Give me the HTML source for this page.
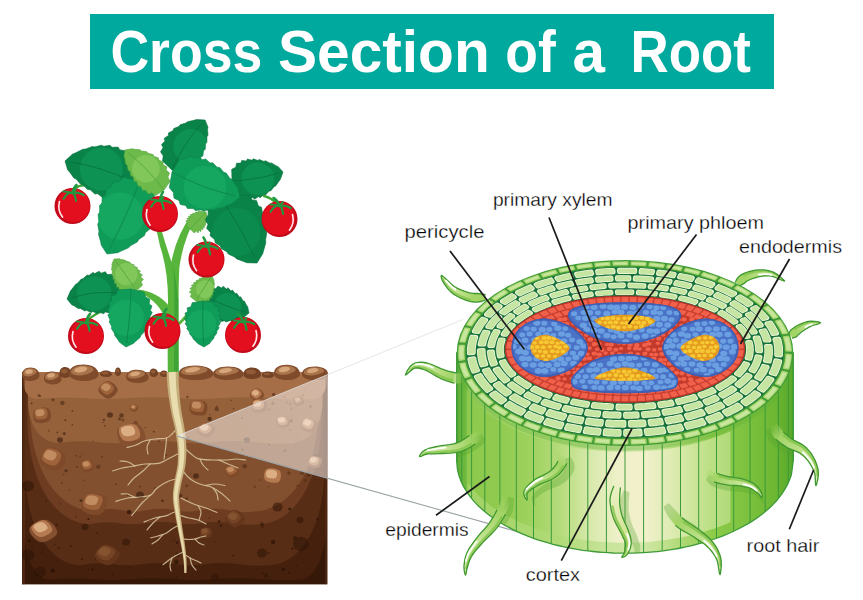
<!DOCTYPE html>
<html><head><meta charset="utf-8"><title>Cross Section of a Root</title>
<style>
html,body{margin:0;padding:0;background:#fff}
body{width:863px;height:600px;position:relative;overflow:hidden;font-family:"Liberation Sans",sans-serif}
.banner{position:absolute;left:90px;top:14px;width:684px;height:75px;background:#00a99d}
svg text{font-family:"Liberation Sans",sans-serif}
</style></head><body>
<div class="banner"></div>
<svg width="863" height="600" viewBox="0 0 863 600" style="position:absolute;left:0;top:0">
<text transform="translate(110.4,72.3) scale(0.9081,1)" font-weight="bold" font-size="59" fill="#fff">Cross</text>
<text transform="translate(277.9,72.3) scale(0.9942,1)" font-weight="bold" font-size="59" fill="#fff">Section</text>
<text transform="translate(505.3,72.3) scale(0.9063,1)" font-weight="bold" font-size="59" fill="#fff">of</text>
<text transform="translate(572.5,72.3) scale(0.9886,1)" font-weight="bold" font-size="59" fill="#fff">a</text>
<text transform="translate(630.5,72.3) scale(0.8963,1)" font-weight="bold" font-size="59" fill="#fff">Root</text>
<defs><clipPath id="soilclip"><rect x="22" y="355" width="305.5" height="229.5"/></clipPath></defs>
<g clip-path="url(#soilclip)">
<rect x="22" y="372" width="305.5" height="212.5" fill="#7d4a2b"/>
<rect x="22" y="372" width="305.5" height="212.5" fill="#361808"/>
<path d="M23,372L326.5,372L326.5,519C326.5,553.8 315.6,579 300.5,579.8Q279.5,580.8 258.6,579Q237.6,577.7 216.7,579Q195.7,580.8 174.8,579Q153.8,577.7 132.8,579Q111.9,580.8 90.9,579Q70,577.7 49,579.8C33.9,579 23,553.8 23,519Z" fill="#45200d"/>
<path d="M25,372L324.5,372L324.5,469C324.5,524.1 301.4,564 269.5,565.2Q253.7,566.6 237.9,564Q222.1,562.1 206.3,564Q190.5,566.6 174.8,564Q159,562.1 143.2,564Q127.4,566.6 111.6,564Q95.8,562.1 80,565.2C48.1,564 25,524.1 25,469Z" fill="#582d15"/>
<path d="M27.5,372L321.5,372L321.5,418C321.5,478.9 295.5,523 259.5,524.2Q245.3,525.6 231.2,523Q217,521.1 202.8,523Q188.7,525.6 174.5,523Q160.3,521.1 146.2,523Q132,525.6 117.8,523Q103.7,521.1 89.5,524.2C53.5,523 27.5,478.9 27.5,418Z" fill="#6d3c21"/>
<path d="M30,372L318.5,372L318.5,410C318.5,468 291.6,510 254.5,511.5Q241.1,513.3 227.8,510Q214.4,507.6 201,510Q187.6,513.3 174.2,510Q160.9,507.6 147.5,510Q134.1,513.3 120.8,510Q107.4,507.6 94,511.5C56.9,510 30,468 30,410Z" fill="#82502f"/>
<path d="M28,372L322.5,372L322.5,402C322.5,425.2 309.9,442 292.5,443.2Q273,444.6 253.4,442Q233.9,440.1 214.3,442Q194.8,444.6 175.2,442Q155.7,440.1 136.2,442Q116.6,444.6 97.1,442Q77.5,440.1 58,443.2C40.6,442 28,425.2 28,402Z" fill="#94613b"/>
<path d="M23.5,372L326.5,372L326.5,382C326.5,391.3 321.5,398 314.5,399Q291.2,400.2 268,398Q244.8,396.4 221.5,398Q198.2,400.2 175,398Q151.8,396.4 128.5,398Q105.2,400.2 82,398Q58.8,396.4 35.5,399C28.5,398 23.5,391.3 23.5,382Z" fill="#a56e47"/>
<rect x="22" y="372" width="3" height="212.5" fill="#5d3219" opacity="0.55"/>
<rect x="325.0" y="372" width="2.5" height="212.5" fill="#5d3219" opacity="0.45"/>
<circle cx="123" cy="420.1" r="1.6" fill="#4f2a14" opacity="0.5"/>
<circle cx="269" cy="409.6" r="1.2" fill="#4f2a14" opacity="0.5"/>
<circle cx="176.9" cy="399" r="1.0" fill="#4f2a14" opacity="0.6"/>
<circle cx="98.6" cy="494.8" r="0.7" fill="#4f2a14" opacity="0.8"/>
<circle cx="64.3" cy="433.6" r="1.6" fill="#4f2a14" opacity="0.7"/>
<circle cx="46.2" cy="501.2" r="0.7" fill="#2a1206" opacity="0.8"/>
<circle cx="41.7" cy="552.1" r="0.9" fill="#2a1206" opacity="0.6"/>
<circle cx="186.7" cy="498.5" r="1.2" fill="#4f2a14" opacity="0.8"/>
<circle cx="81" cy="500.5" r="1.6" fill="#2a1206" opacity="0.5"/>
<circle cx="56.6" cy="524.8" r="1.2" fill="#2a1206" opacity="0.5"/>
<circle cx="88.4" cy="518.9" r="1.0" fill="#2a1206" opacity="0.8"/>
<circle cx="164.7" cy="564.2" r="0.9" fill="#2a1206" opacity="0.6"/>
<circle cx="261.2" cy="522.4" r="0.8" fill="#2a1206" opacity="0.5"/>
<circle cx="116.1" cy="484.3" r="0.9" fill="#4f2a14" opacity="0.7"/>
<circle cx="112.5" cy="574.8" r="0.7" fill="#2a1206" opacity="0.7"/>
<circle cx="76.4" cy="455.8" r="1.0" fill="#4f2a14" opacity="0.6"/>
<circle cx="310.4" cy="406.5" r="1.2" fill="#4f2a14" opacity="0.7"/>
<circle cx="285" cy="450.5" r="1.6" fill="#4f2a14" opacity="0.6"/>
<circle cx="173.8" cy="540.6" r="0.7" fill="#2a1206" opacity="0.8"/>
<circle cx="305.3" cy="480.4" r="1.6" fill="#4f2a14" opacity="0.5"/>
<circle cx="242.6" cy="449.7" r="1.2" fill="#4f2a14" opacity="0.8"/>
<circle cx="269.2" cy="445.1" r="1.0" fill="#4f2a14" opacity="0.8"/>
<circle cx="129.8" cy="567.4" r="0.9" fill="#2a1206" opacity="0.5"/>
<circle cx="62.4" cy="403" r="2.2" fill="#4f2a14" opacity="0.6"/>
<circle cx="244.7" cy="466.2" r="2.2" fill="#4f2a14" opacity="0.6"/>
<circle cx="76.8" cy="466.9" r="0.9" fill="#4f2a14" opacity="0.8"/>
<circle cx="268.5" cy="553.1" r="0.9" fill="#2a1206" opacity="0.7"/>
<circle cx="317.5" cy="519.3" r="1.0" fill="#2a1206" opacity="0.8"/>
<circle cx="72.3" cy="424.9" r="0.8" fill="#4f2a14" opacity="0.7"/>
<circle cx="31.5" cy="547" r="0.8" fill="#2a1206" opacity="0.6"/>
<circle cx="29.2" cy="470.1" r="0.9" fill="#4f2a14" opacity="0.7"/>
<circle cx="121.5" cy="415.4" r="2.2" fill="#4f2a14" opacity="0.7"/>
<circle cx="209.3" cy="518.1" r="0.7" fill="#2a1206" opacity="0.6"/>
<circle cx="283.6" cy="569.5" r="1.6" fill="#2a1206" opacity="0.8"/>
<circle cx="143.2" cy="466.4" r="0.7" fill="#4f2a14" opacity="0.6"/>
<circle cx="145.5" cy="427.5" r="0.8" fill="#4f2a14" opacity="0.6"/>
<circle cx="60.3" cy="504" r="0.7" fill="#2a1206" opacity="0.5"/>
<circle cx="72.4" cy="410.9" r="0.9" fill="#4f2a14" opacity="0.7"/>
<circle cx="48.6" cy="430.8" r="1.0" fill="#4f2a14" opacity="0.5"/>
<circle cx="102" cy="456.8" r="0.9" fill="#4f2a14" opacity="0.6"/>
<circle cx="61.9" cy="483" r="1.0" fill="#4f2a14" opacity="0.6"/>
<circle cx="119.5" cy="418.9" r="1.6" fill="#4f2a14" opacity="0.6"/>
<circle cx="105.7" cy="546.6" r="0.8" fill="#2a1206" opacity="0.7"/>
<circle cx="88.2" cy="569.6" r="0.9" fill="#2a1206" opacity="0.5"/>
<circle cx="187.4" cy="397" r="1.2" fill="#4f2a14" opacity="0.6"/>
<circle cx="216.7" cy="409" r="2.2" fill="#4f2a14" opacity="0.6"/>
<circle cx="135.6" cy="423.2" r="2.2" fill="#4f2a14" opacity="0.5"/>
<circle cx="186.9" cy="485.8" r="1.6" fill="#4f2a14" opacity="0.5"/>
<circle cx="266.2" cy="575.7" r="2.2" fill="#2a1206" opacity="0.5"/>
<circle cx="98.3" cy="466.7" r="2.2" fill="#4f2a14" opacity="0.5"/>
<circle cx="179.9" cy="458.3" r="0.7" fill="#4f2a14" opacity="0.8"/>
<circle cx="259.9" cy="480.1" r="0.8" fill="#4f2a14" opacity="0.7"/>
<circle cx="308.7" cy="475.4" r="1.6" fill="#4f2a14" opacity="0.8"/>
<circle cx="308.3" cy="460" r="0.8" fill="#4f2a14" opacity="0.5"/>
<circle cx="166" cy="455" r="1.0" fill="#4f2a14" opacity="0.7"/>
<circle cx="292.2" cy="548.7" r="1.0" fill="#2a1206" opacity="0.8"/>
<circle cx="129" cy="511.9" r="2.2" fill="#2a1206" opacity="0.7"/>
<circle cx="295" cy="537.9" r="2.2" fill="#2a1206" opacity="0.5"/>
<circle cx="288.9" cy="472.9" r="1.6" fill="#4f2a14" opacity="0.6"/>
<circle cx="263" cy="573.2" r="1.0" fill="#2a1206" opacity="0.6"/>
<circle cx="246.2" cy="407.8" r="0.8" fill="#4f2a14" opacity="0.5"/>
<circle cx="65.3" cy="420.2" r="1.0" fill="#4f2a14" opacity="0.8"/>
<circle cx="70.9" cy="546.1" r="1.0" fill="#2a1206" opacity="0.7"/>
<circle cx="130.8" cy="494.3" r="0.8" fill="#4f2a14" opacity="0.5"/>
<circle cx="262.6" cy="527.5" r="0.7" fill="#2a1206" opacity="0.7"/>
<circle cx="302" cy="472.9" r="2.2" fill="#4f2a14" opacity="0.5"/>
<circle cx="284.5" cy="397.2" r="0.8" fill="#4f2a14" opacity="0.6"/>
<circle cx="98.6" cy="501.4" r="0.9" fill="#2a1206" opacity="0.7"/>
<circle cx="272.8" cy="403.4" r="1.6" fill="#4f2a14" opacity="0.6"/>
<circle cx="162.5" cy="500.8" r="1.2" fill="#2a1206" opacity="0.6"/>
<circle cx="297.4" cy="485.6" r="1.2" fill="#4f2a14" opacity="0.5"/>
<circle cx="177.8" cy="554.8" r="2.2" fill="#2a1206" opacity="0.5"/>
<circle cx="29.2" cy="541" r="0.8" fill="#2a1206" opacity="0.5"/>
<circle cx="209.7" cy="414.4" r="0.7" fill="#4f2a14" opacity="0.6"/>
<circle cx="180.1" cy="495.6" r="2.2" fill="#4f2a14" opacity="0.8"/>
<circle cx="287.2" cy="402.6" r="0.8" fill="#4f2a14" opacity="0.6"/>
<circle cx="254.7" cy="486.7" r="1.2" fill="#4f2a14" opacity="0.5"/>
<circle cx="290.4" cy="403.8" r="0.9" fill="#4f2a14" opacity="0.7"/>
<circle cx="176.4" cy="487.5" r="1.6" fill="#4f2a14" opacity="0.6"/>
<circle cx="177.1" cy="542.6" r="1.2" fill="#2a1206" opacity="0.8"/>
<circle cx="233.2" cy="555.5" r="0.9" fill="#2a1206" opacity="0.8"/>
<circle cx="290" cy="429.8" r="1.0" fill="#4f2a14" opacity="0.5"/>
<circle cx="63.7" cy="474.5" r="0.7" fill="#4f2a14" opacity="0.7"/>
<circle cx="153.7" cy="431.7" r="0.9" fill="#4f2a14" opacity="0.8"/>
<circle cx="291.3" cy="420.8" r="1.6" fill="#4f2a14" opacity="0.7"/>
<circle cx="135.5" cy="439.2" r="0.8" fill="#4f2a14" opacity="0.8"/>
<circle cx="92.4" cy="569.6" r="1.0" fill="#2a1206" opacity="0.8"/>
<circle cx="75.8" cy="516.6" r="0.8" fill="#2a1206" opacity="0.5"/>
<circle cx="154.7" cy="488.2" r="0.9" fill="#4f2a14" opacity="0.6"/>
<circle cx="132.7" cy="409.2" r="0.9" fill="#4f2a14" opacity="0.5"/>
<circle cx="190.6" cy="474.1" r="0.7" fill="#4f2a14" opacity="0.6"/>
<circle cx="179.9" cy="447.1" r="0.7" fill="#4f2a14" opacity="0.5"/>
<circle cx="297.6" cy="434.6" r="0.7" fill="#4f2a14" opacity="0.5"/>
<circle cx="107.8" cy="561" r="0.8" fill="#2a1206" opacity="0.6"/>
<circle cx="66" cy="470.8" r="1.6" fill="#4f2a14" opacity="0.8"/>
<circle cx="103.9" cy="419.9" r="1.2" fill="#4f2a14" opacity="0.7"/>
<circle cx="233.6" cy="408.7" r="0.7" fill="#4f2a14" opacity="0.8"/>
<circle cx="81.8" cy="559" r="0.9" fill="#2a1206" opacity="0.8"/>
<circle cx="214.2" cy="541.5" r="0.7" fill="#2a1206" opacity="0.7"/>
<circle cx="93.3" cy="441.3" r="0.7" fill="#4f2a14" opacity="0.6"/>
<circle cx="127.5" cy="495.1" r="0.9" fill="#4f2a14" opacity="0.7"/>
<circle cx="40.7" cy="524.3" r="0.7" fill="#2a1206" opacity="0.8"/>
<circle cx="104.9" cy="425.8" r="0.9" fill="#4f2a14" opacity="0.7"/>
<circle cx="183.9" cy="430.4" r="1.0" fill="#4f2a14" opacity="0.7"/>
<circle cx="80.2" cy="456.7" r="0.7" fill="#4f2a14" opacity="0.8"/>
<circle cx="38.8" cy="395.4" r="1.2" fill="#4f2a14" opacity="0.7"/>
<circle cx="83.6" cy="480.5" r="1.0" fill="#4f2a14" opacity="0.5"/>
<circle cx="268.4" cy="472.6" r="1.0" fill="#4f2a14" opacity="0.7"/>
<circle cx="288.8" cy="573" r="0.9" fill="#2a1206" opacity="0.7"/>
<circle cx="316.3" cy="455.9" r="2.2" fill="#4f2a14" opacity="0.8"/>
<circle cx="241.9" cy="418.1" r="0.9" fill="#4f2a14" opacity="0.8"/>
<circle cx="273.7" cy="394.7" r="1.6" fill="#4f2a14" opacity="0.7"/>
<circle cx="103" cy="422.4" r="0.7" fill="#4f2a14" opacity="0.7"/>
<circle cx="139.8" cy="486.4" r="0.9" fill="#4f2a14" opacity="0.7"/>
<circle cx="231.3" cy="400.4" r="0.8" fill="#4f2a14" opacity="0.5"/>
<circle cx="158.8" cy="441.1" r="0.9" fill="#4f2a14" opacity="0.8"/>
<circle cx="188.6" cy="437.6" r="0.9" fill="#4f2a14" opacity="0.5"/>
<circle cx="81.7" cy="454.5" r="0.7" fill="#4f2a14" opacity="0.6"/>
<circle cx="175.6" cy="429.5" r="1.2" fill="#4f2a14" opacity="0.8"/>
<circle cx="54.7" cy="544.4" r="0.8" fill="#2a1206" opacity="0.6"/>
<circle cx="40.2" cy="396.2" r="0.9" fill="#4f2a14" opacity="0.7"/>
<circle cx="52.8" cy="570.6" r="2.2" fill="#2a1206" opacity="0.8"/>
<circle cx="221" cy="525.5" r="1.2" fill="#2a1206" opacity="0.6"/>
<circle cx="123.7" cy="575.7" r="0.8" fill="#2a1206" opacity="0.6"/>
<circle cx="209.6" cy="419" r="2.2" fill="#4f2a14" opacity="0.8"/>
<circle cx="289.8" cy="509" r="1.6" fill="#2a1206" opacity="0.7"/>
<circle cx="176.4" cy="561.7" r="2.2" fill="#2a1206" opacity="0.7"/>
<circle cx="273.1" cy="542.1" r="2.2" fill="#2a1206" opacity="0.7"/>
<circle cx="262.2" cy="524.6" r="1.6" fill="#2a1206" opacity="0.7"/>
<circle cx="53" cy="399.8" r="1.6" fill="#4f2a14" opacity="0.6"/>
<circle cx="58.8" cy="547.9" r="1.2" fill="#2a1206" opacity="0.5"/>
<circle cx="33.5" cy="491.1" r="0.8" fill="#4f2a14" opacity="0.6"/>
<circle cx="29" cy="540.8" r="1.6" fill="#2a1206" opacity="0.8"/>
<circle cx="291.5" cy="409.1" r="1.2" fill="#4f2a14" opacity="0.5"/>
<circle cx="244.2" cy="439" r="0.7" fill="#4f2a14" opacity="0.8"/>
<circle cx="96.9" cy="533.1" r="0.8" fill="#2a1206" opacity="0.7"/>
<circle cx="314.4" cy="484.1" r="1.0" fill="#4f2a14" opacity="0.5"/>
<circle cx="295.2" cy="445.6" r="0.7" fill="#4f2a14" opacity="0.7"/>
<circle cx="216.7" cy="406.4" r="0.8" fill="#4f2a14" opacity="0.6"/>
<circle cx="219.2" cy="521.2" r="1.2" fill="#2a1206" opacity="0.7"/>
<circle cx="31.7" cy="403.3" r="0.9" fill="#4f2a14" opacity="0.8"/>
<circle cx="57.2" cy="432.6" r="1.0" fill="#4f2a14" opacity="0.6"/>
<circle cx="179.6" cy="478.7" r="1.0" fill="#4f2a14" opacity="0.8"/>
<circle cx="319.5" cy="494.4" r="0.9" fill="#4f2a14" opacity="0.8"/>
<circle cx="302.8" cy="395.3" r="1.0" fill="#4f2a14" opacity="0.5"/>
<circle cx="176.7" cy="577.5" r="0.9" fill="#2a1206" opacity="0.6"/>
<circle cx="297" cy="565.5" r="0.7" fill="#2a1206" opacity="0.7"/>
<circle cx="69.6" cy="489.7" r="0.9" fill="#4f2a14" opacity="0.5"/>
<circle cx="268.7" cy="486.9" r="0.7" fill="#4f2a14" opacity="0.7"/>
<circle cx="95.9" cy="559.4" r="1.0" fill="#2a1206" opacity="0.6"/>
<ellipse cx="28" cy="486" rx="6" ry="5.4" fill="#2e1408" opacity="0.55"/>
<ellipse cx="28" cy="555" rx="6.5" ry="5.8500000000000005" fill="#2e1408" opacity="0.55"/>
<ellipse cx="40" cy="572" rx="6" ry="5.4" fill="#2e1408" opacity="0.55"/>
<ellipse cx="277.5" cy="507" rx="5" ry="4.5" fill="#2e1408" opacity="0.55"/>
<ellipse cx="301" cy="544" rx="8" ry="7.2" fill="#2e1408" opacity="0.55"/>
<ellipse cx="126" cy="542" rx="4" ry="3.6" fill="#2e1408" opacity="0.55"/>
<ellipse cx="85" cy="527" rx="3.5" ry="3.15" fill="#2e1408" opacity="0.55"/>
<ellipse cx="196" cy="476" rx="3" ry="2.7" fill="#2e1408" opacity="0.55"/>
<ellipse cx="262" cy="553" rx="5" ry="4.5" fill="#2e1408" opacity="0.55"/>
<ellipse cx="215" cy="577" rx="4" ry="3.6" fill="#2e1408" opacity="0.55"/>
<ellipse cx="140" cy="495" rx="4" ry="3.6" fill="#2e1408" opacity="0.55"/>
<ellipse cx="300" cy="520" rx="3.5" ry="3.15" fill="#2e1408" opacity="0.55"/>
<ellipse cx="60" cy="440" rx="3" ry="2.7" fill="#2e1408" opacity="0.55"/>
<ellipse cx="110" cy="415" rx="3" ry="2.7" fill="#2e1408" opacity="0.55"/>
<ellipse cx="247" cy="440" rx="3" ry="2.7" fill="#2e1408" opacity="0.55"/>
<path d="M117.7,390C117.6,391.8 115.9,393.9 114.3,395.4C112.7,396.8 110.1,398.7 108,398.7C105.9,398.7 103.5,396.7 101.9,395.3C100.2,393.8 98.4,391.8 98.3,390C98.3,388.2 99.9,385.9 101.5,384.4C103.1,382.9 105.9,381 108,381.1C110.1,381.1 112.7,383.1 114.4,384.6C116,386 117.7,388.2 117.7,390Z" fill="#7f4a2a"/>
<path d="M114.1,388.3C114.1,389.7 112.8,391.3 111.6,392.4C110.4,393.5 108.4,394.9 106.9,394.9C105.3,394.8 103.5,393.4 102.3,392.3C101.1,391.2 99.7,389.7 99.7,388.3C99.6,387 100.8,385.3 102,384.2C103.2,383.1 105.3,381.6 106.9,381.6C108.5,381.7 110.5,383.1 111.7,384.3C112.9,385.4 114.1,387 114.1,388.3Z" fill="#9e633b"/>
<path d="M110.8,387.2C110.8,388.1 109.9,389 109.1,389.7C108.3,390.3 107,391.2 106,391.2C104.9,391.1 103.7,390.3 102.9,389.6C102.1,389 101.2,388.1 101.1,387.2C101.1,386.4 101.9,385.4 102.7,384.7C103.5,384.1 104.9,383.2 106,383.2C107,383.2 108.3,384.1 109.2,384.8C110,385.5 110.8,386.4 110.8,387.2Z" fill="#c08c60"/>
<path d="M49.4,420.8C48,422.2 45.1,422.9 42.8,423.1C40.4,423.3 37,423.3 35.5,422.1C33.9,421 33.5,418.1 33.3,416.1C33.2,414.1 33.3,411.6 34.6,410.2C35.9,408.8 38.9,407.9 41.2,407.7C43.6,407.4 47.1,407.5 48.7,408.7C50.3,409.9 50.8,412.8 51,414.8C51.1,416.9 50.8,419.5 49.4,420.8Z" fill="#7f4a2a"/>
<path d="M46.4,417.8C45.4,418.9 43.2,419.4 41.5,419.5C39.7,419.7 37.2,419.7 36,418.8C34.8,418 34.5,415.8 34.4,414.3C34.3,412.8 34.4,410.9 35.4,409.8C36.3,408.8 38.5,408.2 40.3,408C42.1,407.8 44.7,407.8 45.9,408.7C47.2,409.6 47.5,411.8 47.6,413.4C47.7,414.9 47.5,416.8 46.4,417.8Z" fill="#9e633b"/>
<path d="M43.7,415.1C43,415.8 41.5,416.1 40.4,416.2C39.2,416.3 37.5,416.3 36.7,415.7C35.9,415.2 35.7,413.9 35.6,413C35.6,412.1 35.6,411 36.3,410.3C36.9,409.7 38.4,409.3 39.6,409.2C40.8,409.1 42.5,409.1 43.3,409.7C44.1,410.2 44.4,411.5 44.5,412.4C44.5,413.4 44.4,414.5 43.7,415.1Z" fill="#c08c60"/>
<path d="M134.7,411.6C133.8,411.7 132.6,411.2 131.8,410.7C130.9,410.2 129.8,409.4 129.6,408.6C129.5,407.9 130.3,406.8 130.9,406.1C131.5,405.4 132.4,404.6 133.3,404.4C134.2,404.3 135.4,404.7 136.3,405.2C137.2,405.7 138.3,406.5 138.5,407.3C138.6,408.1 137.8,409.2 137.2,409.9C136.6,410.6 135.6,411.4 134.7,411.6Z" fill="#7f4a2a"/>
<path d="M134.1,410C133.4,410.1 132.5,409.7 131.8,409.3C131.2,409 130.3,408.3 130.2,407.8C130.1,407.2 130.7,406.4 131.2,405.9C131.6,405.3 132.3,404.7 133,404.6C133.7,404.5 134.6,404.8 135.3,405.2C135.9,405.5 136.8,406.2 136.9,406.8C137,407.4 136.4,408.2 135.9,408.7C135.5,409.3 134.7,409.9 134.1,410Z" fill="#9e633b"/>
<path d="M133.5,408.4C133,408.5 132.4,408.2 132,408C131.6,407.8 131,407.4 130.9,407.1C130.9,406.7 131.3,406.3 131.6,405.9C131.9,405.6 132.3,405.3 132.8,405.2C133.2,405.1 133.8,405.3 134.3,405.5C134.7,405.7 135.3,406.1 135.4,406.5C135.4,406.8 135,407.3 134.7,407.7C134.4,408 133.9,408.3 133.5,408.4Z" fill="#c08c60"/>
<path d="M123.7,445.7C121,444.3 119.1,440.8 118.1,437.9C117.1,435 116.3,430.7 117.9,428.4C119.5,426.1 124.3,424.9 127.7,424.2C131.1,423.5 135.5,423 138.3,424.3C141.1,425.6 143.3,429.1 144.3,432C145.3,434.9 146.2,439.4 144.5,441.8C142.9,444.1 137.9,445.5 134.4,446.2C130.9,446.8 126.4,447.1 123.7,445.7Z" fill="#85502f"/>
<path d="M123.9,440.6C121.8,439.5 120.4,436.9 119.7,434.7C118.9,432.5 118.3,429.3 119.5,427.6C120.7,425.9 124.3,424.9 126.9,424.4C129.4,423.9 132.8,423.5 134.8,424.5C136.9,425.5 138.6,428.1 139.3,430.3C140.1,432.5 140.7,435.8 139.5,437.6C138.2,439.4 134.5,440.4 131.9,440.9C129.3,441.4 125.9,441.6 123.9,440.6Z" fill="#b57a50"/>
<path d="M124.3,435.7C122.9,435.1 122,433.5 121.5,432.2C121,430.9 120.6,428.9 121.4,427.9C122.2,426.9 124.6,426.3 126.3,426C128,425.7 130.2,425.4 131.6,426C133,426.6 134.1,428.2 134.6,429.5C135.1,430.8 135.5,432.8 134.7,433.9C133.9,435 131.4,435.6 129.7,435.9C127.9,436.2 125.7,436.3 124.3,435.7Z" fill="#dcae84"/>
<path d="M40.5,462.8C39.5,460.5 40.7,457 42,454.5C43.3,452 45.6,448.5 48.3,447.7C51,446.9 55.3,448.5 58.1,449.7C61,451 64.5,452.9 65.5,455.2C66.6,457.5 65.7,461.1 64.4,463.6C63.1,466.2 60.6,469.8 57.8,470.6C55,471.4 50.6,469.9 47.7,468.6C44.8,467.3 41.4,465.2 40.5,462.8Z" fill="#7f4a2a"/>
<path d="M42.1,459.6C41.4,457.8 42.2,455.2 43.2,453.3C44.2,451.5 46,448.9 48,448.3C50,447.7 53.2,448.9 55.3,449.8C57.5,450.7 60.1,452.1 60.9,453.9C61.7,455.6 61,458.3 60,460.2C59.1,462.1 57.2,464.8 55.1,465.4C53,466 49.7,464.9 47.5,463.9C45.3,462.9 42.8,461.3 42.1,459.6Z" fill="#9e633b"/>
<path d="M44,456.9C43.5,455.9 44,454.3 44.7,453.2C45.4,452.1 46.5,450.5 47.9,450.1C49.2,449.8 51.4,450.5 52.8,451C54.2,451.6 56,452.4 56.5,453.5C57,454.5 56.6,456.1 55.9,457.3C55.3,458.4 54,460 52.6,460.4C51.2,460.8 49,460.1 47.6,459.5C46.1,458.9 44.4,458 44,456.9Z" fill="#c08c60"/>
<path d="M80.8,463.8C81.4,462.6 83.3,461.5 84.8,460.8C86.4,460.1 88.8,459.4 90.3,459.9C91.7,460.4 92.8,462.3 93.5,463.7C94.2,465.1 94.9,466.9 94.4,468.2C93.9,469.5 92,470.7 90.5,471.4C88.9,472.1 86.4,472.8 84.9,472.3C83.4,471.8 82.1,469.8 81.5,468.4C80.8,467 80.3,465.1 80.8,463.8Z" fill="#7f4a2a"/>
<path d="M81.7,463.1C82.1,462.2 83.5,461.3 84.7,460.9C85.9,460.4 87.7,459.8 88.8,460.2C89.9,460.5 90.7,462 91.2,463C91.7,464.1 92.2,465.4 91.9,466.4C91.5,467.4 90.1,468.3 88.9,468.8C87.7,469.3 85.8,469.8 84.7,469.5C83.6,469.1 82.7,467.6 82.2,466.6C81.7,465.5 81.3,464.1 81.7,463.1Z" fill="#9e633b"/>
<path d="M82.7,462.9C83,462.4 83.9,461.9 84.7,461.6C85.5,461.3 86.7,461 87.4,461.2C88.1,461.4 88.7,462.3 89,462.9C89.4,463.5 89.7,464.3 89.5,464.9C89.2,465.5 88.3,466 87.5,466.3C86.7,466.7 85.5,467 84.7,466.8C84,466.5 83.4,465.6 83,465C82.7,464.4 82.4,463.5 82.7,462.9Z" fill="#c08c60"/>
<path d="M88.1,494.1C90.6,492.9 94.8,493.2 97.9,493.9C101,494.6 105.4,496 106.8,498.1C108.1,500.3 107.1,504.1 106.1,506.8C105.2,509.4 103.6,512.6 101.1,513.9C98.6,515.2 94.4,515.1 91.2,514.4C88,513.8 83.5,512.2 82.1,510C80.7,507.8 81.7,503.8 82.7,501.1C83.7,498.5 85.6,495.3 88.1,494.1Z" fill="#7f4a2a"/>
<path d="M88.2,494.3C90.1,493.4 93.2,493.7 95.6,494.2C97.9,494.7 101.2,495.7 102.2,497.3C103.2,498.9 102.4,501.8 101.7,503.8C101,505.8 99.8,508.2 98,509.2C96.1,510.1 92.9,510 90.5,509.5C88.2,509 84.8,507.9 83.7,506.2C82.6,504.6 83.4,501.6 84.2,499.6C84.9,497.6 86.3,495.2 88.2,494.3Z" fill="#9e633b"/>
<path d="M88.6,495.7C89.8,495.2 91.9,495.4 93.5,495.7C95,496 97.2,496.6 97.9,497.6C98.6,498.5 98,500.3 97.6,501.4C97.1,502.6 96.3,504.1 95.1,504.7C93.8,505.2 91.7,505.2 90.1,504.9C88.5,504.6 86.3,503.9 85.6,502.9C84.9,501.9 85.4,500.1 85.9,498.9C86.4,497.7 87.3,496.3 88.6,495.7Z" fill="#c08c60"/>
<path d="M46,519.8C48.8,520.3 51.7,522.9 53.6,525.1C55.5,527.3 57.8,530.8 57.2,533.2C56.6,535.6 52.9,538 50.2,539.5C47.5,541 43.9,542.6 41,542.2C38.2,541.8 35,539.3 33.1,537.1C31.1,534.8 28.8,531.2 29.4,528.7C30,526.2 33.8,523.7 36.5,522.2C39.3,520.8 43.1,519.3 46,519.8Z" fill="#85502f"/>
<path d="M43.8,520.3C46,520.7 48.2,522.6 49.6,524.3C51,526 52.7,528.6 52.3,530.4C51.8,532.2 49.1,534 47,535.1C45,536.2 42.3,537.4 40.1,537.1C38,536.8 35.6,535 34.2,533.3C32.7,531.6 31,528.9 31.4,527C31.8,525.1 34.7,523.3 36.8,522.2C38.8,521 41.7,520 43.8,520.3Z" fill="#b57a50"/>
<path d="M42,522.2C43.4,522.4 44.8,523.5 45.8,524.6C46.7,525.6 47.8,527.1 47.6,528.2C47.3,529.3 45.4,530.3 44.1,531C42.7,531.7 40.9,532.4 39.5,532.2C38,532.1 36.5,531 35.5,529.9C34.5,528.9 33.4,527.3 33.7,526.2C34,525.1 35.9,523.9 37.2,523.3C38.6,522.6 40.5,522 42,522.2Z" fill="#dcae84"/>
<path d="M206.1,402.8C207.4,404.2 207.6,406.8 207.4,408.8C207.3,410.8 206.6,413.6 205,414.7C203.4,415.8 200,415.7 197.7,415.4C195.4,415.2 192.5,414.6 191.1,413.2C189.7,411.9 189.3,409.2 189.5,407.2C189.6,405.2 190.3,402.2 192,401.1C193.7,399.9 197.2,400.1 199.5,400.3C201.9,400.6 204.8,401.4 206.1,402.8Z" fill="#7f4a2a"/>
<path d="M203.1,402.4C204.1,403.5 204.3,405.4 204.1,406.9C204,408.4 203.5,410.6 202.3,411.4C201.1,412.2 198.6,412.1 196.8,411.9C195.1,411.7 192.9,411.3 191.9,410.3C190.8,409.2 190.5,407.3 190.6,405.7C190.8,404.2 191.3,402 192.6,401.1C193.8,400.3 196.4,400.4 198.2,400.6C199.9,400.8 202.1,401.4 203.1,402.4Z" fill="#9e633b"/>
<path d="M200.3,402.9C201,403.5 201.1,404.7 201,405.6C200.9,406.5 200.6,407.8 199.8,408.3C199,408.8 197.3,408.7 196.1,408.6C195,408.5 193.5,408.2 192.8,407.6C192.1,407 191.9,405.8 192,404.9C192.1,404 192.4,402.6 193.3,402.1C194.1,401.6 195.9,401.7 197,401.8C198.2,401.9 199.7,402.3 200.3,402.9Z" fill="#c08c60"/>
<path d="M264.2,395.1C264.2,396.5 262.9,398 261.6,399.1C260.4,400.2 258.4,401.6 256.9,401.5C255.3,401.5 253.5,400 252.3,398.9C251.1,397.8 249.8,396.2 249.8,394.9C249.7,393.5 251,391.9 252.2,390.8C253.4,389.7 255.5,388.3 257.1,388.3C258.7,388.3 260.7,389.9 261.8,391C263,392.1 264.3,393.8 264.2,395.1Z" fill="#85502f"/>
<path d="M261.6,393.8C261.6,394.9 260.6,396 259.6,396.8C258.7,397.6 257.2,398.7 256.1,398.6C254.9,398.6 253.5,397.5 252.7,396.7C251.8,395.8 250.8,394.7 250.7,393.7C250.7,392.7 251.7,391.4 252.6,390.6C253.5,389.8 255.1,388.7 256.3,388.7C257.5,388.8 258.9,389.9 259.8,390.7C260.7,391.6 261.6,392.8 261.6,393.8Z" fill="#b57a50"/>
<path d="M259.1,393C259.1,393.6 258.4,394.3 257.8,394.8C257.2,395.3 256.2,395.9 255.4,395.9C254.6,395.8 253.7,395.2 253.1,394.7C252.5,394.2 251.9,393.5 251.9,392.9C251.9,392.3 252.5,391.5 253.1,391C253.7,390.5 254.7,389.9 255.5,389.9C256.4,389.9 257.3,390.6 257.9,391.1C258.5,391.6 259.1,392.4 259.1,393Z" fill="#dcae84"/>
<path d="M265.4,410.8C264.2,411.9 261.6,412.5 259.5,412.6C257.5,412.8 254.5,412.8 253.2,411.7C251.8,410.7 251.5,408.2 251.4,406.4C251.3,404.7 251.5,402.5 252.6,401.2C253.8,400 256.4,399.3 258.4,399.1C260.5,398.9 263.6,399 265,400.1C266.4,401.2 266.8,403.8 266.8,405.5C266.9,407.3 266.6,409.6 265.4,410.8Z" fill="#85502f"/>
<path d="M262.8,408.1C261.9,409 260,409.4 258.4,409.5C256.9,409.7 254.7,409.6 253.7,408.9C252.6,408.1 252.4,406.2 252.3,404.9C252.3,403.6 252.4,401.9 253.3,401C254.1,400.1 256.1,399.5 257.6,399.4C259.2,399.3 261.5,399.3 262.5,400.1C263.6,400.9 263.9,402.9 263.9,404.2C264,405.5 263.7,407.2 262.8,408.1Z" fill="#b57a50"/>
<path d="M260.4,405.7C259.8,406.3 258.5,406.5 257.5,406.6C256.5,406.7 255,406.6 254.3,406.2C253.6,405.7 253.5,404.6 253.4,403.8C253.4,403 253.5,402 254,401.4C254.6,400.9 255.9,400.6 257,400.5C258,400.4 259.5,400.5 260.2,400.9C260.9,401.4 261.1,402.6 261.2,403.4C261.2,404.2 261,405.2 260.4,405.7Z" fill="#dcae84"/>
<path d="M207.3,437.2C205.5,437.4 203.1,436.4 201.4,435.4C199.7,434.4 197.5,432.7 197.2,431.2C197,429.6 198.6,427.5 199.9,426.2C201.1,424.8 202.9,423.1 204.7,422.8C206.5,422.6 209,423.5 210.7,424.4C212.5,425.4 214.8,427.2 215,428.8C215.3,430.4 213.6,432.6 212.3,434C211.1,435.4 209.1,436.9 207.3,437.2Z" fill="#85502f"/>
<path d="M206,433.9C204.6,434.1 202.8,433.3 201.6,432.6C200.3,431.8 198.7,430.6 198.5,429.4C198.3,428.3 199.5,426.7 200.4,425.7C201.4,424.6 202.7,423.4 204.1,423.2C205.4,423 207.3,423.6 208.6,424.4C209.9,425.1 211.6,426.5 211.8,427.7C212,428.8 210.8,430.5 209.8,431.5C208.8,432.6 207.4,433.7 206,433.9Z" fill="#b57a50"/>
<path d="M204.9,430.8C204,430.9 202.8,430.5 201.9,430C201.1,429.6 200,428.8 199.8,428.1C199.7,427.4 200.5,426.5 201.2,425.9C201.8,425.2 202.7,424.5 203.6,424.4C204.5,424.2 205.7,424.6 206.6,425.1C207.5,425.5 208.6,426.3 208.7,427C208.9,427.8 208,428.7 207.4,429.4C206.8,430 205.8,430.7 204.9,430.8Z" fill="#dcae84"/>
<path d="M279.2,427.3C277.9,426.6 277,424.8 276.5,423.4C276.1,421.9 275.7,419.7 276.5,418.6C277.3,417.5 279.7,416.9 281.5,416.6C283.2,416.3 285.4,416 286.8,416.7C288.1,417.4 289.2,419.1 289.7,420.6C290.2,422.1 290.5,424.3 289.7,425.5C288.8,426.7 286.3,427.3 284.6,427.6C282.9,427.9 280.6,428 279.2,427.3Z" fill="#85502f"/>
<path d="M279.4,424.7C278.3,424.2 277.7,422.9 277.3,421.8C277,420.7 276.7,419.1 277.3,418.2C277.9,417.4 279.7,416.9 281,416.7C282.3,416.4 284,416.3 285,416.8C286,417.3 286.8,418.6 287.2,419.7C287.6,420.8 287.8,422.5 287.2,423.4C286.6,424.2 284.7,424.7 283.4,425C282.1,425.2 280.4,425.3 279.4,424.7Z" fill="#b57a50"/>
<path d="M279.6,422.3C278.9,422 278.5,421.2 278.2,420.5C278,419.9 277.8,418.9 278.2,418.4C278.6,417.9 279.9,417.6 280.7,417.5C281.6,417.3 282.7,417.2 283.4,417.5C284,417.8 284.6,418.6 284.8,419.3C285.1,420 285.2,421 284.8,421.5C284.4,422 283.2,422.3 282.3,422.5C281.4,422.6 280.3,422.6 279.6,422.3Z" fill="#dcae84"/>
<path d="M301,427.3C300.4,425.8 301.2,423.6 302,422C302.9,420.5 304.4,418.3 306.2,417.8C307.9,417.3 310.6,418.3 312.4,419.2C314.2,420 316.4,421.2 317,422.7C317.6,424.2 317,426.4 316.2,428.1C315.3,429.7 313.7,431.9 311.9,432.4C310.1,432.9 307.3,431.9 305.5,431C303.7,430.2 301.6,428.8 301,427.3Z" fill="#85502f"/>
<path d="M302,425.3C301.6,424.2 302.2,422.5 302.8,421.3C303.5,420.1 304.6,418.5 305.9,418.1C307.2,417.8 309.2,418.6 310.6,419.2C311.9,419.8 313.6,420.7 314,421.8C314.5,422.9 314.1,424.6 313.4,425.8C312.8,427.1 311.6,428.7 310.2,429.1C308.9,429.5 306.8,428.7 305.4,428.1C304,427.4 302.5,426.4 302,425.3Z" fill="#b57a50"/>
<path d="M303.2,423.6C302.9,423 303.3,422 303.7,421.3C304.2,420.5 305,419.6 305.8,419.3C306.7,419.1 308,419.6 308.9,420C309.8,420.3 310.9,420.9 311.2,421.5C311.6,422.2 311.3,423.2 310.8,424C310.4,424.7 309.6,425.7 308.7,425.9C307.8,426.1 306.4,425.7 305.5,425.3C304.6,424.9 303.5,424.3 303.2,423.6Z" fill="#dcae84"/>
<path d="M293.6,399.3C294.1,398.4 295.5,397.5 296.7,397.1C297.9,396.6 299.7,396.1 300.8,396.4C301.9,396.8 302.7,398.3 303.2,399.3C303.7,400.4 304.2,401.8 303.8,402.7C303.4,403.7 302,404.6 300.8,405.1C299.6,405.6 297.7,406.1 296.5,405.7C295.4,405.3 294.5,403.8 294.1,402.7C293.6,401.7 293.2,400.2 293.6,399.3Z" fill="#7f4a2a"/>
<path d="M294.3,398.8C294.6,398.1 295.7,397.5 296.6,397.1C297.5,396.8 298.8,396.4 299.6,396.7C300.5,396.9 301.1,398 301.4,398.8C301.8,399.6 302.2,400.6 301.9,401.3C301.6,402.1 300.5,402.7 299.6,403.1C298.7,403.5 297.3,403.9 296.5,403.6C295.6,403.3 295,402.2 294.6,401.4C294.2,400.6 294,399.5 294.3,398.8Z" fill="#9e633b"/>
<path d="M295,398.7C295.3,398.3 296,397.9 296.6,397.7C297.2,397.5 298.1,397.2 298.6,397.4C299.1,397.6 299.6,398.2 299.8,398.7C300.1,399.2 300.3,399.8 300.1,400.2C299.9,400.6 299.2,401.1 298.6,401.3C298,401.5 297,401.7 296.5,401.6C295.9,401.4 295.5,400.7 295.2,400.2C295,399.7 294.8,399.1 295,398.7Z" fill="#c08c60"/>
<path d="M311.6,456.5C312.9,455.9 315.2,456.1 316.9,456.5C318.6,456.9 321,457.7 321.7,458.9C322.4,460.1 321.8,462.2 321.2,463.6C320.7,465 319.8,466.8 318.4,467.5C317.1,468.1 314.8,468 313,467.7C311.3,467.3 308.9,466.4 308.1,465.2C307.4,464 308,461.8 308.5,460.3C309.1,458.9 310.2,457.2 311.6,456.5Z" fill="#85502f"/>
<path d="M311.6,456.7C312.6,456.2 314.3,456.4 315.6,456.7C316.9,456.9 318.6,457.5 319.2,458.4C319.7,459.3 319.3,460.9 318.9,462C318.5,463 317.8,464.3 316.8,464.9C315.7,465.4 314,465.3 312.7,465C311.4,464.7 309.6,464.1 309,463.1C308.4,462.2 308.9,460.6 309.3,459.5C309.8,458.4 310.5,457.1 311.6,456.7Z" fill="#b57a50"/>
<path d="M311.8,457.5C312.5,457.2 313.6,457.3 314.4,457.5C315.3,457.6 316.5,458 316.8,458.5C317.2,459.1 316.9,460 316.6,460.6C316.3,461.3 315.9,462.1 315.2,462.4C314.5,462.7 313.4,462.6 312.5,462.5C311.6,462.3 310.4,461.9 310,461.4C309.7,460.8 310,459.8 310.3,459.2C310.5,458.5 311.1,457.8 311.8,457.5Z" fill="#dcae84"/>
<path d="M233.5,465.4C235,465.7 236.6,467.1 237.6,468.4C238.6,469.6 239.8,471.5 239.4,472.8C239.1,474.1 237.1,475.4 235.6,476.2C234.1,477 232.1,477.8 230.5,477.6C229,477.3 227.3,476 226.2,474.7C225.2,473.5 224,471.5 224.3,470.1C224.7,468.8 226.8,467.5 228.3,466.7C229.8,465.9 231.9,465.1 233.5,465.4Z" fill="#7f4a2a"/>
<path d="M232.3,465.7C233.4,465.9 234.6,467 235.4,467.9C236.1,468.8 237,470.3 236.8,471.3C236.5,472.2 235,473.2 233.9,473.8C232.7,474.4 231.2,475 230.1,474.8C228.9,474.6 227.6,473.6 226.9,472.7C226.1,471.8 225.2,470.2 225.4,469.2C225.7,468.2 227.3,467.2 228.4,466.6C229.5,466 231.1,465.5 232.3,465.7Z" fill="#9e633b"/>
<path d="M231.2,466.7C232,466.8 232.8,467.5 233.3,468C233.8,468.6 234.4,469.4 234.2,470C234,470.6 233,471.2 232.3,471.5C231.5,471.9 230.5,472.3 229.7,472.2C229,472.1 228.1,471.4 227.6,470.9C227.1,470.3 226.5,469.4 226.7,468.8C226.8,468.2 227.9,467.6 228.6,467.3C229.4,466.9 230.4,466.6 231.2,466.7Z" fill="#c08c60"/>
<path d="M283.5,471.2C285.1,473 285.3,476.2 285,478.7C284.8,481.2 283.9,484.8 281.8,486.1C279.8,487.5 275.6,487.2 272.7,486.8C269.8,486.5 266.2,485.7 264.5,484C262.8,482.3 262.4,479 262.6,476.4C262.8,473.9 263.8,470.2 265.9,468.8C268.1,467.4 272.4,467.6 275.3,468C278.3,468.4 281.9,469.4 283.5,471.2Z" fill="#85502f"/>
<path d="M279.7,470.7C281,472.1 281.1,474.5 280.9,476.4C280.7,478.2 280,480.9 278.5,481.9C277,483 273.8,482.7 271.7,482.5C269.5,482.2 266.8,481.6 265.5,480.3C264.2,479 263.9,476.6 264.1,474.7C264.3,472.8 265,470 266.6,468.9C268.2,467.9 271.4,468.1 273.6,468.4C275.8,468.7 278.5,469.4 279.7,470.7Z" fill="#b57a50"/>
<path d="M276.2,471.3C277,472.1 277.1,473.5 277,474.7C276.8,475.8 276.4,477.4 275.4,478C274.4,478.6 272.3,478.5 270.8,478.3C269.4,478.2 267.6,477.8 266.7,477C265.9,476.2 265.7,474.8 265.8,473.6C265.9,472.5 266.4,470.8 267.4,470.2C268.5,469.6 270.7,469.7 272.1,469.8C273.6,470 275.4,470.5 276.2,471.3Z" fill="#dcae84"/>
<path d="M244.7,519.3C244.6,521.1 242.7,523.2 241.1,524.6C239.4,526 236.7,527.8 234.7,527.7C232.6,527.6 230.2,525.6 228.6,524.1C227.1,522.6 225.3,520.5 225.3,518.7C225.4,516.9 227.1,514.7 228.7,513.3C230.4,511.8 233.2,510 235.4,510.1C237.5,510.1 240,512.2 241.6,513.7C243.1,515.3 244.7,517.5 244.7,519.3Z" fill="#63351b"/>
<path d="M241.1,517.6C241.1,518.9 239.7,520.5 238.4,521.5C237.2,522.6 235.2,523.9 233.6,523.9C232.1,523.8 230.3,522.3 229.1,521.2C228,520 226.6,518.5 226.7,517.1C226.7,515.8 227.9,514.1 229.2,513C230.4,512 232.6,510.6 234.2,510.6C235.8,510.7 237.7,512.2 238.8,513.4C240,514.6 241.2,516.2 241.1,517.6Z" fill="#744325"/>
<path d="M237.8,516.4C237.8,517.2 236.8,518.1 236,518.7C235.2,519.4 233.8,520.2 232.8,520.2C231.8,520.1 230.6,519.2 229.8,518.5C229,517.9 228.1,516.9 228.1,516.1C228.2,515.3 229,514.3 229.8,513.7C230.7,513 232.1,512.2 233.2,512.2C234.2,512.3 235.5,513.2 236.3,513.9C237,514.6 237.8,515.6 237.8,516.4Z" fill="#85532f"/>
<path d="M210.9,536.8C210,537.7 207.9,538.1 206.3,538.2C204.7,538.3 202.4,538.3 201.3,537.4C200.3,536.6 200.1,534.6 200,533.3C200,531.9 200.1,530.1 201.1,529.2C202,528.2 204.1,527.7 205.7,527.6C207.3,527.5 209.7,527.6 210.8,528.4C211.9,529.3 212.1,531.3 212.2,532.7C212.2,534.1 211.9,535.9 210.9,536.8Z" fill="#63351b"/>
<path d="M208.9,534.7C208.2,535.4 206.7,535.7 205.5,535.8C204.3,535.9 202.5,535.8 201.7,535.2C201,534.6 200.8,533.1 200.8,532.1C200.7,531 200.8,529.7 201.5,529C202.2,528.3 203.8,527.9 205,527.8C206.2,527.7 208,527.8 208.8,528.4C209.7,529.1 209.9,530.6 209.9,531.7C209.9,532.7 209.7,534 208.9,534.7Z" fill="#744325"/>
<path d="M207.1,532.8C206.6,533.2 205.6,533.4 204.8,533.5C204,533.5 202.8,533.5 202.3,533.1C201.8,532.7 201.6,531.8 201.6,531.2C201.6,530.6 201.7,529.8 202.1,529.4C202.6,529 203.6,528.7 204.4,528.7C205.3,528.6 206.5,528.7 207,529C207.6,529.4 207.7,530.4 207.7,531C207.7,531.6 207.6,532.4 207.1,532.8Z" fill="#85532f"/>
<path d="M108.7,565.3C106,565.5 102.7,564.1 100.3,562.6C97.9,561.1 94.8,558.7 94.4,556.5C94.1,554.3 96.5,551.3 98.3,549.4C100.2,547.4 102.8,545.1 105.3,544.7C107.9,544.4 111.5,545.7 113.9,547.2C116.4,548.6 119.6,551.2 119.9,553.5C120.3,555.7 117.8,558.8 116,560.8C114.1,562.8 111.3,565 108.7,565.3Z" fill="#63351b"/>
<path d="M106.9,560.6C104.9,560.8 102.4,559.7 100.6,558.6C98.8,557.5 96.4,555.7 96.2,554C96,552.4 97.8,550.2 99.1,548.7C100.5,547.2 102.4,545.5 104.4,545.2C106.3,545 109,546 110.8,547.1C112.6,548.1 115.1,550.1 115.3,551.8C115.6,553.5 113.7,555.8 112.3,557.3C110.9,558.8 108.8,560.4 106.9,560.6Z" fill="#744325"/>
<path d="M105.3,556.2C104,556.3 102.3,555.6 101.1,555C99.9,554.3 98.4,553.2 98.2,552.2C98,551.2 99.2,549.9 100.1,549C101,548.1 102.3,547.1 103.6,546.9C104.9,546.8 106.7,547.4 107.9,548C109.1,548.7 110.8,549.8 110.9,550.9C111.1,551.9 109.9,553.3 108.9,554.2C108,555 106.6,556 105.3,556.2Z" fill="#85532f"/>
<path d="M22,376 L22,373 Q60,371 100,373 T180,372.5 T260,374 T327.5,372.5 L327.5,376Z" fill="#a56e47"/>
<path d="M22,374.9 C22,370.2 25.5,367.5 30.4,367.5 C36,367.5 39.5,370.9 39.5,375.6 C39.5,379 35.1,381 30.8,381 C25.5,381 22,379 22,374.9 Z" fill="#7f4b2b"/>
<path d="M23.1,374.2 C23.4,369.5 27.2,368.3 30.8,368.3 C35.1,368.6 37.8,370.9 36,373.2 C31.6,376.9 25.5,377.6 23.1,374.2 Z" fill="#a9744b"/>
<ellipse cx="29" cy="371.6" rx="3.9" ry="2.3" fill="#d6a57a" transform="rotate(-10 29 371.6)"/>
<path d="M44,378.6 C44,374.1 47.5,371.5 52.4,371.5 C58,371.5 61.5,374.8 61.5,379.3 C61.5,382.6 57.1,384.5 52.8,384.5 C47.5,384.5 44,382.6 44,378.6 Z" fill="#7f4b2b"/>
<path d="M45,378 C45.4,373.4 49.2,372.3 52.8,372.3 C57.1,372.5 59.8,374.8 58,377 C53.6,380.6 47.5,381.2 45,378 Z" fill="#a9744b"/>
<ellipse cx="51" cy="375.4" rx="3.9" ry="2.2" fill="#d6a57a" transform="rotate(-10 51 375.4)"/>
<path d="M59.5,373.1 C59.5,369.2 61.8,367 65,367 C68.7,367 71,369.8 71,373.6 C71,376.4 68.1,378 65.2,378 C61.8,378 59.5,376.4 59.5,373.1 Z" fill="#744325"/>
<ellipse cx="64.3" cy="371.2" rx="3.2" ry="2.2" fill="#915b37"/>
<path d="M69,373.6 C69,367.9 74.9,364.6 83.2,364.6 C92.6,364.6 98.5,368.7 98.5,374.4 C98.5,378.5 91.1,381 83.8,381 C74.9,381 69,378.5 69,373.6 Z" fill="#7f4b2b"/>
<path d="M70.8,372.8 C71.4,367.1 77.8,365.6 83.8,365.6 C91.1,365.9 95.5,368.7 92.6,371.5 C85.2,376.1 74.9,376.9 70.8,372.8 Z" fill="#a9744b"/>
<ellipse cx="80.8" cy="369.5" rx="6.5" ry="2.8" fill="#d6a57a" transform="rotate(-10 80.8 369.5)"/>
<path d="M100,374.1 C100,371.8 102.4,370.5 105.8,370.5 C109.6,370.5 112,372.1 112,374.4 C112,376 109,377 106,377 C102.4,377 100,376 100,374.1 Z" fill="#744325"/>
<ellipse cx="105" cy="373" rx="3.4" ry="1.3" fill="#915b37"/>
<path d="M115,372.2 C115,369.2 116.2,367.5 117.9,367.5 C119.8,367.5 121,369.6 121,372.6 C121,374.7 119.5,376 118,376 C116.2,376 115,374.7 115,372.2 Z" fill="#744325"/>
<ellipse cx="117.5" cy="370.7" rx="1.7" ry="1.7" fill="#915b37"/>
<path d="M126,377.1 C126,372.4 130.5,369.8 136.8,369.8 C144.1,369.8 148.6,373.1 148.6,377.7 C148.6,381 142.9,383 137.3,383 C130.5,383 126,381 126,377.1 Z" fill="#7f4b2b"/>
<path d="M127.4,376.4 C127.8,371.8 132.8,370.6 137.3,370.6 C142.9,370.9 146.3,373.1 144.1,375.3 C138.4,379 130.5,379.7 127.4,376.4 Z" fill="#a9744b"/>
<ellipse cx="135" cy="373.8" rx="5" ry="2.2" fill="#d6a57a" transform="rotate(-10 135 373.8)"/>
<path d="M149.5,373.1 C149.5,370.1 151.2,368.4 153.6,368.4 C156.3,368.4 158,370.5 158,373.6 C158,375.7 155.9,377 153.8,377 C151.2,377 149.5,375.7 149.5,373.1 Z" fill="#744325"/>
<ellipse cx="153.1" cy="371.7" rx="2.4" ry="1.7" fill="#915b37"/>
<path d="M160,374.1 C160,371.8 161.6,370.5 163.8,370.5 C166.4,370.5 168,372.1 168,374.4 C168,376 166,377 164,377 C161.6,377 160,376 160,374.1 Z" fill="#744325"/>
<ellipse cx="163.4" cy="373" rx="2.2" ry="1.3" fill="#915b37"/>
<path d="M178.7,373.4 C178.7,368.3 185.6,365.4 195.3,365.4 C206.4,365.4 213.3,369 213.3,374.2 C213.3,377.8 204.7,380 196,380 C185.6,380 178.7,377.8 178.7,373.4 Z" fill="#7f4b2b"/>
<path d="M180.8,372.7 C181.5,367.6 189.1,366.3 196,366.3 C204.7,366.6 209.8,369 206.4,371.5 C197.7,375.6 185.6,376.4 180.8,372.7 Z" fill="#a9744b"/>
<ellipse cx="192.5" cy="369.8" rx="7.6" ry="2.5" fill="#d6a57a" transform="rotate(-10 192.5 369.8)"/>
<path d="M213.3,373.9 C213.3,369.2 219.4,366.5 227.8,366.5 C237.5,366.5 243.6,369.9 243.6,374.6 C243.6,378 236,380 228.4,380 C219.4,380 213.3,378 213.3,373.9 Z" fill="#7f4b2b"/>
<path d="M215.1,373.2 C215.7,368.5 222.4,367.3 228.4,367.3 C236,367.6 240.6,369.9 237.5,372.2 C230,375.9 219.4,376.6 215.1,373.2 Z" fill="#a9744b"/>
<ellipse cx="225.4" cy="370.6" rx="6.7" ry="2.3" fill="#d6a57a" transform="rotate(-10 225.4 370.6)"/>
<path d="M243.6,373.9 C243.6,369.9 247.1,367.6 252,367.6 C257.5,367.6 261,370.5 261,374.4 C261,377.3 256.6,379 252.3,379 C247.1,379 243.6,377.3 243.6,373.9 Z" fill="#744325"/>
<ellipse cx="250.9" cy="371.9" rx="4.9" ry="2.3" fill="#915b37"/>
<path d="M262,375.1 C262,372.8 264.4,371.5 267.8,371.5 C271.6,371.5 274,373.1 274,375.4 C274,377 271,378 268,378 C264.4,378 262,377 262,375.1 Z" fill="#744325"/>
<ellipse cx="267" cy="374" rx="3.4" ry="1.3" fill="#915b37"/>
<path d="M274,373.2 C274,367.8 279.2,364.8 286.5,364.8 C294.8,364.8 300,368.6 300,373.9 C300,377.7 293.5,380 287,380 C279.2,380 274,377.7 274,373.2 Z" fill="#7f4b2b"/>
<path d="M275.6,372.4 C276.1,367.1 281.8,365.7 287,365.7 C293.5,366 297.4,368.6 294.8,371.2 C288.3,375.4 279.2,376.2 275.6,372.4 Z" fill="#a9744b"/>
<ellipse cx="284.4" cy="369.4" rx="5.7" ry="2.6" fill="#d6a57a" transform="rotate(-10 284.4 369.4)"/>
<path d="M302,373.9 C302,369.2 307.3,366.5 314.7,366.5 C323.2,366.5 328.5,369.9 328.5,374.6 C328.5,378 321.9,380 315.2,380 C307.3,380 302,378 302,373.9 Z" fill="#7f4b2b"/>
<path d="M303.6,373.2 C304.1,368.5 309.9,367.3 315.2,367.3 C321.9,367.6 325.9,369.9 323.2,372.2 C316.6,375.9 307.3,376.6 303.6,373.2 Z" fill="#a9744b"/>
<ellipse cx="312.6" cy="370.6" rx="5.8" ry="2.3" fill="#d6a57a" transform="rotate(-10 312.6 370.6)"/>
</g>
<path d="M167.8,376 L167.6,340 L168,300 Q168,270 160,246 L156,228 L160.5,227 Q166,246 171.5,262 Q176,236 192,214 L196.5,216 Q183,240 179.3,268 Q178.3,290 178.5,330 L178.6,376 Z" fill="#57b53b"/>
<path d="M174,376 L174.3,300 Q174.6,275 172.3,262 Q177,285 178.4,300 L178.6,376Z" fill="#3fa436"/>
<path d="M168.5,326 Q160,300 138,292.5 L138.5,289.5 Q158,292 169,306 Z" fill="#57b53b"/>
<path d="M176,326 Q184,320 189,312" fill="none" stroke="#57b53b" stroke-width="3" stroke-linecap="round"/>
<path d="M188,314 Q215,318 236,316" fill="none" stroke="#3fa436" stroke-width="2.4" stroke-linecap="round"/>
<path d="M100,312 Q92,316 88,320" fill="none" stroke="#3fa436" stroke-width="2.4" stroke-linecap="round"/>
<path d="M264,196 Q272,198 277,204" fill="none" stroke="#3fa436" stroke-width="2.4" stroke-linecap="round"/>
<path d="M76,188 Q80,184 90,186" fill="none" stroke="#3fa436" stroke-width="2.4" stroke-linecap="round"/>
<path d="M172,170L183.2,174.7L186.9,171.5L191,171.9L193.1,167.6L196.2,167.3L197.5,162.5L200,161.9L200.8,156.7L202.9,155.9L203.4,150.5L205.2,149.4L205.4,143.8L206.9,142.6L206.9,136.8L208,135.3L207.5,129.2L208,127.3L205,120L196.4,119.6L194,120.3L187.5,121.7L185.9,123L180,124.8L179,126.4L173.7,128.6L173.2,130.5L168.4,133L168.5,135.4L164.2,138.3L165,141.1L161.5,144.5L163.1,147.7L160.5,151.8L163.2,155.8L162.5,161.1Z" fill="#0a8349" stroke="#06703d" stroke-width="0.6" stroke-linejoin="round"/>
<clipPath id="lf1"><path d="M172,170L183.2,174.7L186.9,171.5L191,171.9L193.1,167.6L196.2,167.3L197.5,162.5L200,161.9L200.8,156.7L202.9,155.9L203.4,150.5L205.2,149.4L205.4,143.8L206.9,142.6L206.9,136.8L208,135.3L207.5,129.2L208,127.3L205,120L196.4,119.6L194,120.3L187.5,121.7L185.9,123L180,124.8L179,126.4L173.7,128.6L173.2,130.5L168.4,133L168.5,135.4L164.2,138.3L165,141.1L161.5,144.5L163.1,147.7L160.5,151.8L163.2,155.8L162.5,161.1Z"/></clipPath>
<circle cx="190.5" cy="146.3" r="17.2" fill="#0f9656" opacity="0.8" clip-path="url(#lf1)"/>
<path d="M172,170C172.4,169.2 173.6,166.6 174.4,164.9C175.2,163.2 176.1,161.5 176.9,159.9C177.7,158.2 178.6,156.5 179.5,154.9C180.4,153.3 181.3,151.6 182.2,150C183.1,148.4 184.1,146.8 185.1,145.3C186.1,143.7 187.1,142.2 188.2,140.6C189.3,139.1 190.4,137.6 191.5,136.1C192.6,134.6 193.8,133.2 194.9,131.7C196.1,130.3 197.3,128.8 198.5,127.4C199.7,126 201.6,123.9 202.2,123.2" fill="none" stroke="#06703d" stroke-width="0.8"/>
<path d="M232,181L235.8,192.6L240.4,193.7L242.6,197.6L246.8,196.7L248.7,199.4L252.8,197.4L254.5,199.2L258.5,196.6L260.1,197.7L263.9,194.4L265.5,194.9L269.2,191L270.6,191L274.2,186.6L275.6,186.1L279.1,181L280.3,179.5L283,172L278,166.4L276.4,165.9L271.5,162.9L270.1,163.2L265.3,160.7L264,161.5L259.2,159.4L257.9,160.5L253.2,158.8L252.1,160.3L247.4,159L246.4,161.1L241.8,160.4L240.9,163.1L236.5,163.3L235.8,167.2L231.7,169.3Z" fill="#0a8349" stroke="#06703d" stroke-width="0.6" stroke-linejoin="round"/>
<clipPath id="lf2"><path d="M232,181L235.8,192.6L240.4,193.7L242.6,197.6L246.8,196.7L248.7,199.4L252.8,197.4L254.5,199.2L258.5,196.6L260.1,197.7L263.9,194.4L265.5,194.9L269.2,191L270.6,191L274.2,186.6L275.6,186.1L279.1,181L280.3,179.5L283,172L278,166.4L276.4,165.9L271.5,162.9L270.1,163.2L265.3,160.7L264,161.5L259.2,159.4L257.9,160.5L253.2,158.8L252.1,160.3L247.4,159L246.4,161.1L241.8,160.4L240.9,163.1L236.5,163.3L235.8,167.2L231.7,169.3Z"/></clipPath>
<circle cx="257.9" cy="178.7" r="16.3" fill="#0f9656" opacity="0.8" clip-path="url(#lf2)"/>
<path d="M232,181C232.8,180.9 235.2,180.7 236.8,180.6C238.4,180.5 240,180.3 241.6,180.2C243.2,180 244.8,179.8 246.4,179.7C248,179.5 249.6,179.3 251.2,179.1C252.8,178.8 254.4,178.6 256,178.3C257.6,178.1 259.1,177.8 260.7,177.5C262.3,177.2 263.9,176.8 265.4,176.5C267,176.2 268.6,175.8 270.1,175.4C271.7,175 273.3,174.6 274.8,174.2C276.4,173.8 278.7,173.2 279.5,173" fill="none" stroke="#06703d" stroke-width="0.8"/>
<path d="M136,183L137.8,167.2L133.3,162.5L132.3,156.8L127.1,154.7L125.6,150.7L120,149.9L118,147.1L112.1,147.3L109.9,145.3L103.8,146.3L101.3,145.2L94.9,146.9L92.3,146.5L85.7,149L82.8,149.3L75.9,152.7L72.6,154.1L65,161L67.7,170.1L69.8,172.2L73.9,178L76.3,179.2L80.6,184.3L83.2,184.9L87.6,189.6L90.3,189.8L94.8,194L97.7,193.7L102.4,197.5L105.5,196.6L110.4,199.6L113.7,197.9L119,199.8L122.8,196.6L128.8,196.1Z" fill="#0a8349" stroke="#06703d" stroke-width="0.6" stroke-linejoin="round"/>
<clipPath id="lf3"><path d="M136,183L137.8,167.2L133.3,162.5L132.3,156.8L127.1,154.7L125.6,150.7L120,149.9L118,147.1L112.1,147.3L109.9,145.3L103.8,146.3L101.3,145.2L94.9,146.9L92.3,146.5L85.7,149L82.8,149.3L75.9,152.7L72.6,154.1L65,161L67.7,170.1L69.8,172.2L73.9,178L76.3,179.2L80.6,184.3L83.2,184.9L87.6,189.6L90.3,189.8L94.8,194L97.7,193.7L102.4,197.5L105.5,196.6L110.4,199.6L113.7,197.9L119,199.8L122.8,196.6L128.8,196.1Z"/></clipPath>
<circle cx="101.4" cy="169.1" r="21.5" fill="#0f9656" opacity="0.8" clip-path="url(#lf3)"/>
<path d="M136,183C134.9,182.5 131.8,181.1 129.6,180.2C127.5,179.3 125.4,178.3 123.2,177.4C121.1,176.5 119,175.7 116.8,174.8C114.7,174 112.5,173.1 110.3,172.4C108.2,171.6 106,170.8 103.8,170.1C101.6,169.4 99.4,168.7 97.2,168.1C95,167.5 92.8,166.9 90.5,166.3C88.3,165.7 86,165.2 83.8,164.7C81.5,164.2 79.2,163.7 77,163.3C74.7,162.8 71.3,162.2 70.1,162" fill="none" stroke="#06703d" stroke-width="0.8"/>
<path d="M190,229L194.5,233L196.2,230.8L198.1,232.9L199.2,230L200.7,231.7L201.4,228.6L202.7,230L203.2,226.7L204.2,227.9L204.5,224.4L205.4,225.5L205.6,221.9L206.4,222.8L206.4,219L207,219.8L206.8,215.8L207.1,216.3L206,212L201.6,211.2L202.1,211.4L198.2,211.5L199,212L195.2,212.3L196.2,213L192.6,213.4L193.7,214.2L190.2,214.7L191.5,215.7L188.2,216.4L189.7,217.6L186.7,218.5L188.4,219.9L185.7,221.1L187.8,222.9L185.7,224.7Z" fill="#6dba4b" stroke="#4fa53c" stroke-width="0.6" stroke-linejoin="round"/>
<path d="M190,229C190.2,228.7 191,227.9 191.5,227.4C192,226.9 192.5,226.4 193,225.8C193.5,225.3 194,224.8 194.5,224.3C195,223.7 195.5,223.2 196,222.7C196.4,222.1 196.9,221.6 197.4,221.1C197.9,220.6 198.4,220 198.9,219.5C199.4,219 199.9,218.5 200.4,217.9C200.9,217.4 201.4,216.9 201.9,216.4C202.4,215.8 202.9,215.3 203.4,214.8C203.9,214.2 204.6,213.5 204.9,213.2" fill="none" stroke="#4fa53c" stroke-width="0.8"/>
<path d="M221,198L208,208.6L208.2,214.9L205.3,219.6L207.9,224.5L206.6,228.3L210.5,232.5L210.1,235.8L214.7,239.6L215.1,242.5L220.3,246L221.2,248.5L226.9,251.7L228.3,254L234.6,256.9L236.6,258.9L243.6,261.4L246.7,262.7L257,263L262.7,253.8L263.7,250.2L265.8,242.7L265.6,239.7L266.8,232.7L265.9,230.1L266.5,223.4L264.9,221.2L264.8,214.9L262.5,213.2L261.5,207.3L258.4,206L256.5,200.6L252.3,199.9L249.1,195.3L243.2,195.5L237.4,192.3Z" fill="#0a8349" stroke="#06703d" stroke-width="0.6" stroke-linejoin="round"/>
<clipPath id="lf4"><path d="M221,198L208,208.6L208.2,214.9L205.3,219.6L207.9,224.5L206.6,228.3L210.5,232.5L210.1,235.8L214.7,239.6L215.1,242.5L220.3,246L221.2,248.5L226.9,251.7L228.3,254L234.6,256.9L236.6,258.9L243.6,261.4L246.7,262.7L257,263L262.7,253.8L263.7,250.2L265.8,242.7L265.6,239.7L266.8,232.7L265.9,230.1L266.5,223.4L264.9,221.2L264.8,214.9L262.5,213.2L261.5,207.3L258.4,206L256.5,200.6L252.3,199.9L249.1,195.3L243.2,195.5L237.4,192.3Z"/></clipPath>
<circle cx="236.1" cy="232.1" r="24.1" fill="#0d8d50" opacity="0.8" clip-path="url(#lf4)"/>
<path d="M221,198C221.6,199 223.5,201.9 224.8,203.8C226,205.8 227.3,207.7 228.5,209.6C229.7,211.6 231,213.5 232.2,215.5C233.4,217.5 234.6,219.5 235.7,221.4C236.9,223.4 238.1,225.4 239.2,227.4C240.3,229.4 241.4,231.4 242.5,233.5C243.6,235.5 244.7,237.5 245.7,239.6C246.8,241.6 247.8,243.7 248.8,245.8C249.9,247.8 250.9,249.9 251.8,252C252.8,254.1 254.3,257.2 254.8,258.3" fill="none" stroke="#06703d" stroke-width="0.8"/>
<path d="M140,181L123.7,177.3L118.7,181.5L113.1,182.3L110.6,187.6L106.6,189.1L105.3,195L102.3,196.9L101.9,203.2L99.6,205.5L99.8,212L98.1,214.6L98.9,221.4L97.7,224.2L99,231.2L98.5,234.3L100.6,241.7L101.3,245.3L107,254L117.7,252.7L121.2,251L128.5,247.8L130.8,245.6L137.2,242L138.8,239.4L144.5,235.5L145.4,232.7L150.5,228.5L150.7,225.3L155,220.7L154.3,217.1L157.7,212.2L155.9,208.1L157.9,202.5L154.5,197.7L153.9,190.9Z" fill="#0f9b58" stroke="#0a8249" stroke-width="0.6" stroke-linejoin="round"/>
<clipPath id="lf5"><path d="M140,181L123.7,177.3L118.7,181.5L113.1,182.3L110.6,187.6L106.6,189.1L105.3,195L102.3,196.9L101.9,203.2L99.6,205.5L99.8,212L98.1,214.6L98.9,221.4L97.7,224.2L99,231.2L98.5,234.3L100.6,241.7L101.3,245.3L107,254L117.7,252.7L121.2,251L128.5,247.8L130.8,245.6L137.2,242L138.8,239.4L144.5,235.5L145.4,232.7L150.5,228.5L150.7,225.3L155,220.7L154.3,217.1L157.7,212.2L155.9,208.1L157.9,202.5L154.5,197.7L153.9,190.9Z"/></clipPath>
<circle cx="120.5" cy="216.1" r="23.6" fill="#16aa63" opacity="0.8" clip-path="url(#lf5)"/>
<path d="M140,181C139.5,182.2 138.2,185.6 137.2,187.9C136.3,190.2 135.4,192.5 134.5,194.9C133.5,197.2 132.6,199.5 131.6,201.7C130.7,204 129.7,206.3 128.7,208.6C127.7,210.9 126.8,213.2 125.7,215.4C124.7,217.7 123.7,220 122.7,222.2C121.6,224.5 120.6,226.7 119.5,229C118.4,231.2 117.3,233.4 116.2,235.7C115.1,237.9 114,240.1 112.9,242.3C111.8,244.6 110.1,247.9 109.5,249" fill="none" stroke="#0a8249" stroke-width="0.8"/>
<path d="M164,190L170.1,181.2L167.9,177.1L169.6,173.1L166.1,170.1L167,167L162.9,164.6L163.2,162L158.7,160.1L158.5,157.9L153.6,156.3L153.1,154.5L147.8,153.3L147,151.8L141.3,150.9L140.1,149.8L134.1,149.3L132.3,148.7L125,150L124,156.9L124.9,158.3L125.6,164L127.1,164.8L128.1,170.2L129.8,170.9L131,176L133,176.4L134.4,181.4L136.6,181.6L138.3,186.3L140.7,186.2L142.8,190.6L145.6,190.1L148.2,194L151.8,192.8L155.5,195.5Z" fill="#6dba4b" stroke="#4fa53c" stroke-width="0.6" stroke-linejoin="round"/>
<clipPath id="lf6"><path d="M164,190L170.1,181.2L167.9,177.1L169.6,173.1L166.1,170.1L167,167L162.9,164.6L163.2,162L158.7,160.1L158.5,157.9L153.6,156.3L153.1,154.5L147.8,153.3L147,151.8L141.3,150.9L140.1,149.8L134.1,149.3L132.3,148.7L125,150L124,156.9L124.9,158.3L125.6,164L127.1,164.8L128.1,170.2L129.8,170.9L131,176L133,176.4L134.4,181.4L136.6,181.6L138.3,186.3L140.7,186.2L142.8,190.6L145.6,190.1L148.2,194L151.8,192.8L155.5,195.5Z"/></clipPath>
<circle cx="145.9" cy="168.7" r="13.8" fill="#87cb5e" opacity="0.8" clip-path="url(#lf6)"/>
<path d="M164,190C163.5,189.3 161.8,187.3 160.7,185.9C159.6,184.6 158.5,183.2 157.4,181.9C156.3,180.6 155.2,179.3 154,177.9C152.9,176.6 151.8,175.3 150.6,174C149.4,172.8 148.3,171.5 147.1,170.2C145.9,169 144.6,167.7 143.4,166.5C142.2,165.3 140.9,164.1 139.7,162.9C138.4,161.7 137.1,160.6 135.8,159.4C134.6,158.2 133.3,157.1 131.9,155.9C130.6,154.8 128.7,153.1 128,152.5" fill="none" stroke="#4fa53c" stroke-width="0.8"/>
<path d="M172,172L169.3,187.7L173.4,192.5L174,198.2L179,200.5L180.3,204.5L185.7,205.6L187.4,208.5L193.2,208.6L195.2,210.6L201.3,209.9L203.6,211.1L210,209.6L212.5,210.2L219.2,208L222,207.9L228.9,204.8L232.1,203.5L240,197L237.9,187.8L236,185.6L232.3,179.6L230,178.4L226.2,173L223.7,172.3L219.7,167.4L217,167.2L212.8,162.7L210,162.9L205.6,159L202.6,159.7L198,156.5L194.6,158.1L189.6,155.9L185.7,159L179.8,159.2Z" fill="#0f9b58" stroke="#0a8249" stroke-width="0.6" stroke-linejoin="round"/>
<clipPath id="lf7"><path d="M172,172L169.3,187.7L173.4,192.5L174,198.2L179,200.5L180.3,204.5L185.7,205.6L187.4,208.5L193.2,208.6L195.2,210.6L201.3,209.9L203.6,211.1L210,209.6L212.5,210.2L219.2,208L222,207.9L228.9,204.8L232.1,203.5L240,197L237.9,187.8L236,185.6L232.3,179.6L230,178.4L226.2,173L223.7,172.3L219.7,167.4L217,167.2L212.8,162.7L210,162.9L205.6,159L202.6,159.7L198,156.5L194.6,158.1L189.6,155.9L185.7,159L179.8,159.2Z"/></clipPath>
<circle cx="205" cy="187.3" r="21.5" fill="#16aa63" opacity="0.8" clip-path="url(#lf7)"/>
<path d="M172,172C173,172.5 176,174.1 178.1,175.1C180.1,176.1 182.1,177.1 184.1,178.1C186.2,179 188.2,180 190.3,180.9C192.3,181.9 194.4,182.8 196.4,183.6C198.5,184.5 200.6,185.4 202.7,186.2C204.8,187 206.9,187.7 209,188.5C211.1,189.2 213.3,189.9 215.4,190.5C217.6,191.2 219.7,191.8 221.9,192.4C224.1,193 226.3,193.6 228.5,194.2C230.6,194.7 233.9,195.5 235,195.8" fill="none" stroke="#0a8249" stroke-width="0.8"/>
<path d="M122,293L118.7,280.4L113.9,278.6L111.8,274.3L107.3,274.6L105.3,271.7L101,273.2L99.1,271.2L94.8,273.6L93.1,272.4L88.8,275.5L87.2,275L83,278.8L81.4,279L77.3,283.4L75.8,284.2L71.8,289.3L70.4,291.1L67,299L71.9,304.9L73.5,305.4L78.5,308.7L80,308.3L84.9,311L86.4,310.3L91.3,312.6L92.8,311.5L97.5,313.6L99,312.1L103.7,313.8L105.2,311.9L109.8,313L111.2,310.4L115.8,310.6L117,306.8L121.3,305.1Z" fill="#0a8349" stroke="#06703d" stroke-width="0.6" stroke-linejoin="round"/>
<clipPath id="lf8"><path d="M122,293L118.7,280.4L113.9,278.6L111.8,274.3L107.3,274.6L105.3,271.7L101,273.2L99.1,271.2L94.8,273.6L93.1,272.4L88.8,275.5L87.2,275L83,278.8L81.4,279L77.3,283.4L75.8,284.2L71.8,289.3L70.4,291.1L67,299L71.9,304.9L73.5,305.4L78.5,308.7L80,308.3L84.9,311L86.4,310.3L91.3,312.6L92.8,311.5L97.5,313.6L99,312.1L103.7,313.8L105.2,311.9L109.8,313L111.2,310.4L115.8,310.6L117,306.8L121.3,305.1Z"/></clipPath>
<circle cx="94.2" cy="293.6" r="17.2" fill="#0f9656" opacity="0.8" clip-path="url(#lf8)"/>
<path d="M122,293C121.1,293 118.5,292.8 116.8,292.7C115.1,292.6 113.3,292.6 111.6,292.5C109.9,292.5 108.1,292.4 106.4,292.5C104.7,292.5 103,292.5 101.3,292.6C99.5,292.7 97.8,292.8 96.1,292.9C94.4,293.1 92.7,293.3 91,293.5C89.3,293.7 87.6,294 85.9,294.3C84.2,294.6 82.5,295 80.9,295.4C79.2,295.8 77.5,296.2 75.8,296.6C74.1,297 71.6,297.7 70.8,298" fill="none" stroke="#06703d" stroke-width="0.8"/>
<path d="M136,291L142.5,285.2L141,281.9L143.4,279.4L140.7,276.9L142.4,274.9L139.2,272.7L140.4,271L136.8,269.1L137.6,267.7L133.6,266L134.2,264.8L129.9,263.4L130.2,262.3L125.6,261.1L125.5,260.3L120.6,259.3L120.1,258.8L114,259L111.8,264.5L112.2,265.1L111.5,269.9L112.4,270.2L112.1,274.8L113.2,274.8L113.1,279.3L114.5,279.2L114.6,283.5L116.2,283.2L116.7,287.3L118.6,286.8L119.4,290.7L121.7,289.9L123,293.4L126.1,292.2L128.4,294.9Z" fill="#6dba4b" stroke="#4fa53c" stroke-width="0.6" stroke-linejoin="round"/>
<clipPath id="lf9"><path d="M136,291L142.5,285.2L141,281.9L143.4,279.4L140.7,276.9L142.4,274.9L139.2,272.7L140.4,271L136.8,269.1L137.6,267.7L133.6,266L134.2,264.8L129.9,263.4L130.2,262.3L125.6,261.1L125.5,260.3L120.6,259.3L120.1,258.8L114,259L111.8,264.5L112.2,265.1L111.5,269.9L112.4,270.2L112.1,274.8L113.2,274.8L113.1,279.3L114.5,279.2L114.6,283.5L116.2,283.2L116.7,287.3L118.6,286.8L119.4,290.7L121.7,289.9L123,293.4L126.1,292.2L128.4,294.9Z"/></clipPath>
<circle cx="126.3" cy="274.1" r="11.2" fill="#87cb5e" opacity="0.8" clip-path="url(#lf9)"/>
<path d="M136,291C135.7,290.5 134.7,289 134.1,287.9C133.5,286.9 132.8,285.9 132.2,284.9C131.5,283.8 130.9,282.8 130.2,281.8C129.6,280.8 128.9,279.8 128.3,278.8C127.6,277.8 126.9,276.8 126.2,275.8C125.6,274.8 124.9,273.8 124.2,272.8C123.5,271.8 122.8,270.9 122.1,269.9C121.4,268.9 120.7,267.9 120,267C119.3,266 118.5,265 117.8,264.1C117.1,263.1 116,261.6 115.6,261.2" fill="none" stroke="#4fa53c" stroke-width="0.8"/>
<path d="M131,289L118.1,290L115.9,294.5L111.6,295.9L111.6,300.6L108.7,302.2L109.7,307L107.7,308.6L109.3,313.4L107.9,315.1L110.1,320L109.2,321.7L111.8,326.6L111.4,328.4L114.5,333.4L114.5,335.1L118.3,340.2L119.3,342.1L126,347L133.7,343.3L135.3,341.6L140.2,337.4L140.8,335.6L144.9,331.3L145,329.5L148.6,325.1L148,323.3L151,318.8L149.9,316.9L152.3,312.4L150.4,310.5L152,305.9L149.2,303.9L149.8,299.2L145.6,297.1L143.9,292.2Z" fill="#0f9b58" stroke="#0a8249" stroke-width="0.6" stroke-linejoin="round"/>
<clipPath id="lf10"><path d="M131,289L118.1,290L115.9,294.5L111.6,295.9L111.6,300.6L108.7,302.2L109.7,307L107.7,308.6L109.3,313.4L107.9,315.1L110.1,320L109.2,321.7L111.8,326.6L111.4,328.4L114.5,333.4L114.5,335.1L118.3,340.2L119.3,342.1L126,347L133.7,343.3L135.3,341.6L140.2,337.4L140.8,335.6L144.9,331.3L145,329.5L148.6,325.1L148,323.3L151,318.8L149.9,316.9L152.3,312.4L150.4,310.5L152,305.9L149.2,303.9L149.8,299.2L145.6,297.1L143.9,292.2Z"/></clipPath>
<circle cx="126" cy="317.8" r="18.1" fill="#16aa63" opacity="0.8" clip-path="url(#lf10)"/>
<path d="M131,289C131,289.9 130.9,292.6 130.8,294.4C130.7,296.2 130.6,298 130.5,299.8C130.5,301.6 130.4,303.4 130.3,305.2C130.2,307 130.1,308.8 129.9,310.6C129.8,312.4 129.7,314.2 129.5,316C129.4,317.8 129.2,319.6 129.1,321.4C128.9,323.2 128.7,325 128.5,326.8C128.3,328.6 128.1,330.4 127.9,332.2C127.7,334 127.5,335.8 127.2,337.6C127,339.4 126.7,342.1 126.5,343" fill="none" stroke="#0a8249" stroke-width="0.8"/>
<path d="M207,297L204.6,307.3L207.8,309.8L207.4,313.8L211.2,314.8L211.2,317.8L215.4,318L215.6,320.3L220,319.9L220.5,321.6L225,320.7L225.7,322L230.4,320.6L231.2,321.4L236.1,319.7L237.1,320L242.2,317.8L243.5,317.4L249,313L247.6,306.5L246.8,305.8L244.3,301.1L243.2,301.1L240.6,296.8L239.4,297.1L236.7,293.2L235.3,293.8L232.5,290.1L231,291.1L228,287.7L226.4,289.1L223.3,286.2L221.4,288.1L218,286L215.8,288.8L211.8,288.2Z" fill="#0a8349" stroke="#06703d" stroke-width="0.6" stroke-linejoin="round"/>
<clipPath id="lf11"><path d="M207,297L204.6,307.3L207.8,309.8L207.4,313.8L211.2,314.8L211.2,317.8L215.4,318L215.6,320.3L220,319.9L220.5,321.6L225,320.7L225.7,322L230.4,320.6L231.2,321.4L236.1,319.7L237.1,320L242.2,317.8L243.5,317.4L249,313L247.6,306.5L246.8,305.8L244.3,301.1L243.2,301.1L240.6,296.8L239.4,297.1L236.7,293.2L235.3,293.8L232.5,290.1L231,291.1L228,287.7L226.4,289.1L223.3,286.2L221.4,288.1L218,286L215.8,288.8L211.8,288.2Z"/></clipPath>
<circle cx="227.3" cy="306.8" r="13.8" fill="#0f9656" opacity="0.8" clip-path="url(#lf11)"/>
<path d="M207,297C207.6,297.3 209.5,298.2 210.8,298.9C212,299.5 213.3,300.1 214.5,300.7C215.8,301.3 217.1,301.9 218.3,302.4C219.6,303 220.9,303.6 222.2,304.1C223.5,304.7 224.8,305.2 226.1,305.7C227.3,306.2 228.7,306.7 230,307.2C231.3,307.6 232.6,308.1 233.9,308.5C235.2,309 236.6,309.4 237.9,309.8C239.2,310.2 240.6,310.6 241.9,311C243.3,311.4 245.3,312 246,312.2" fill="none" stroke="#06703d" stroke-width="0.8"/>
<path d="M196,301L202.3,304.4L203.9,301.8L206.5,303.2L207.3,300L209.3,301L209.6,297.6L211.3,298.4L211.3,294.7L212.7,295.4L212.5,291.6L213.7,292.1L213.3,288.2L214.4,288.6L213.8,284.6L214.6,284.8L213.7,280.6L214.1,280.6L212,276L206.8,276L206.9,276.2L202.5,277.1L203,277.7L199,278.8L199.7,279.5L195.9,280.7L196.9,281.6L193.3,283L194.5,284L191.2,285.6L192.8,286.8L189.8,288.6L191.7,290L189.2,292.1L191.7,294L190.2,296.6Z" fill="#6dba4b" stroke="#4fa53c" stroke-width="0.6" stroke-linejoin="round"/>
<clipPath id="lf12"><path d="M196,301L202.3,304.4L203.9,301.8L206.5,303.2L207.3,300L209.3,301L209.6,297.6L211.3,298.4L211.3,294.7L212.7,295.4L212.5,291.6L213.7,292.1L213.3,288.2L214.4,288.6L213.8,284.6L214.6,284.8L213.7,280.6L214.1,280.6L212,276L206.8,276L206.9,276.2L202.5,277.1L203,277.7L199,278.8L199.7,279.5L195.9,280.7L196.9,281.6L193.3,283L194.5,284L191.2,285.6L192.8,286.8L189.8,288.6L191.7,290L189.2,292.1L191.7,294L190.2,296.6Z"/></clipPath>
<circle cx="205.1" cy="289.2" r="9" fill="#87cb5e" opacity="0.8" clip-path="url(#lf12)"/>
<path d="M196,301C196.2,300.6 196.9,299.4 197.4,298.6C197.8,297.8 198.3,297 198.8,296.2C199.2,295.4 199.7,294.6 200.2,293.8C200.6,293.1 201.1,292.3 201.6,291.5C202.1,290.7 202.6,289.9 203.1,289.1C203.6,288.4 204.1,287.6 204.6,286.8C205.1,286 205.6,285.3 206.1,284.5C206.6,283.7 207.1,283 207.6,282.2C208.2,281.5 208.7,280.7 209.2,280C209.7,279.2 210.5,278.1 210.8,277.7" fill="none" stroke="#4fa53c" stroke-width="0.8"/>
<path d="M203,301L192.2,302.7L190.9,306.7L187.1,307.9L187.6,311.9L184.9,313.1L186.3,317L184.3,318.2L186.4,322.2L185,323.3L187.6,327.2L186.7,328.4L189.7,332.3L189.3,333.4L192.7,337.4L192.8,338.5L196.8,342.4L197.7,343.5L204,347L209.9,343.2L210.5,342.1L214.1,338L213.9,336.9L217.1,332.8L216.5,331.7L219.2,327.7L218.2,326.6L220.6,322.5L219.2,321.4L221.1,317.4L219.2,316.3L220.6,312.3L218,311.2L218.5,307.2L214.9,306.2L213.7,302.2Z" fill="#0f9b58" stroke="#0a8249" stroke-width="0.6" stroke-linejoin="round"/>
<clipPath id="lf13"><path d="M203,301L192.2,302.7L190.9,306.7L187.1,307.9L187.6,311.9L184.9,313.1L186.3,317L184.3,318.2L186.4,322.2L185,323.3L187.6,327.2L186.7,328.4L189.7,332.3L189.3,333.4L192.7,337.4L192.8,338.5L196.8,342.4L197.7,343.5L204,347L209.9,343.2L210.5,342.1L214.1,338L213.9,336.9L217.1,332.8L216.5,331.7L219.2,327.7L218.2,326.6L220.6,322.5L219.2,321.4L221.1,317.4L219.2,316.3L220.6,312.3L218,311.2L218.5,307.2L214.9,306.2L213.7,302.2Z"/></clipPath>
<circle cx="201.5" cy="324" r="14.6" fill="#16aa63" opacity="0.8" clip-path="url(#lf13)"/>
<path d="M203,301C203,301.7 202.9,303.9 202.9,305.3C202.9,306.7 202.8,308.1 202.8,309.6C202.8,311 202.8,312.4 202.7,313.8C202.7,315.3 202.7,316.7 202.7,318.1C202.7,319.6 202.8,321 202.8,322.4C202.8,323.8 202.8,325.3 202.9,326.7C202.9,328.1 203,329.5 203,331C203.1,332.4 203.2,333.8 203.2,335.2C203.3,336.7 203.4,338.1 203.5,339.5C203.6,340.9 203.7,343.1 203.8,343.8" fill="none" stroke="#0a8249" stroke-width="0.8"/>
<circle cx="72.5" cy="206" r="18" fill="#c20a1a"/>
<ellipse cx="73.3" cy="205.4" rx="16.4" ry="16.6" fill="#e30f1f"/>
<path d="M59.5,201.5 Q57.2,210.5 62.6,217.2" fill="none" stroke="#fff" stroke-width="1.6" stroke-linecap="round" opacity="0.9"/>
<path d="M72.5,193 Q74.1,191.5 75.8,189.2" fill="none" stroke="#1f9a40" stroke-width="2.2" stroke-linecap="round"/>
<path d="M72.5,193 Q78.1,191.5 83.7,195" fill="none" stroke="#1f9a40" stroke-width="2.2" stroke-linecap="round"/>
<path d="M72.5,193 Q74.3,191.5 76.1,200.8" fill="none" stroke="#1f9a40" stroke-width="2.2" stroke-linecap="round"/>
<path d="M72.5,193 Q68,191.5 63.6,198.7" fill="none" stroke="#1f9a40" stroke-width="2.2" stroke-linecap="round"/>
<path d="M72.5,193 Q67.9,191.5 63.4,191.5" fill="none" stroke="#1f9a40" stroke-width="2.2" stroke-linecap="round"/>
<path d="M72.5,193 Q73.7,187.4 76.5,185" fill="none" stroke="#1f9a40" stroke-width="2.6" stroke-linecap="round"/>
<circle cx="160" cy="214" r="18" fill="#c20a1a"/>
<ellipse cx="160.8" cy="213.4" rx="16.4" ry="16.6" fill="#e30f1f"/>
<path d="M147,209.5 Q144.7,218.5 150.1,225.2" fill="none" stroke="#fff" stroke-width="1.6" stroke-linecap="round" opacity="0.9"/>
<path d="M160,201 Q161.6,199.5 163.3,197.2" fill="none" stroke="#1f9a40" stroke-width="2.2" stroke-linecap="round"/>
<path d="M160,201 Q165.6,199.5 171.2,203" fill="none" stroke="#1f9a40" stroke-width="2.2" stroke-linecap="round"/>
<path d="M160,201 Q161.8,199.5 163.6,208.8" fill="none" stroke="#1f9a40" stroke-width="2.2" stroke-linecap="round"/>
<path d="M160,201 Q155.5,199.5 151.1,206.7" fill="none" stroke="#1f9a40" stroke-width="2.2" stroke-linecap="round"/>
<path d="M160,201 Q155.4,199.5 150.9,199.5" fill="none" stroke="#1f9a40" stroke-width="2.2" stroke-linecap="round"/>
<path d="M160,201 Q160.9,194.7 163,192" fill="none" stroke="#1f9a40" stroke-width="2.6" stroke-linecap="round"/>
<circle cx="279.5" cy="219" r="18" fill="#c20a1a"/>
<ellipse cx="278.7" cy="218.4" rx="16.4" ry="16.6" fill="#e30f1f"/>
<path d="M292.5,214.5 Q294.8,223.5 289.4,230.2" fill="none" stroke="#fff" stroke-width="1.6" stroke-linecap="round" opacity="0.9"/>
<path d="M279.5,206 Q281.1,204.5 282.8,202.2" fill="none" stroke="#1f9a40" stroke-width="2.2" stroke-linecap="round"/>
<path d="M279.5,206 Q285.1,204.5 290.7,208" fill="none" stroke="#1f9a40" stroke-width="2.2" stroke-linecap="round"/>
<path d="M279.5,206 Q281.3,204.5 283.1,213.8" fill="none" stroke="#1f9a40" stroke-width="2.2" stroke-linecap="round"/>
<path d="M279.5,206 Q275,204.5 270.6,211.7" fill="none" stroke="#1f9a40" stroke-width="2.2" stroke-linecap="round"/>
<path d="M279.5,206 Q274.9,204.5 270.4,204.5" fill="none" stroke="#1f9a40" stroke-width="2.2" stroke-linecap="round"/>
<path d="M279.5,206 Q277.7,200.4 273.5,198" fill="none" stroke="#1f9a40" stroke-width="2.6" stroke-linecap="round"/>
<circle cx="206.5" cy="259.5" r="18" fill="#c20a1a"/>
<ellipse cx="207.3" cy="258.9" rx="16.4" ry="16.6" fill="#e30f1f"/>
<path d="M193.5,255 Q191.2,264 196.6,270.7" fill="none" stroke="#fff" stroke-width="1.6" stroke-linecap="round" opacity="0.9"/>
<path d="M206.5,246.5 Q208.1,245 209.8,242.7" fill="none" stroke="#1f9a40" stroke-width="2.2" stroke-linecap="round"/>
<path d="M206.5,246.5 Q212.1,245 217.7,248.5" fill="none" stroke="#1f9a40" stroke-width="2.2" stroke-linecap="round"/>
<path d="M206.5,246.5 Q208.3,245 210.1,254.3" fill="none" stroke="#1f9a40" stroke-width="2.2" stroke-linecap="round"/>
<path d="M206.5,246.5 Q202,245 197.6,252.2" fill="none" stroke="#1f9a40" stroke-width="2.2" stroke-linecap="round"/>
<path d="M206.5,246.5 Q201.9,245 197.4,245" fill="none" stroke="#1f9a40" stroke-width="2.2" stroke-linecap="round"/>
<path d="M206.5,246.5 Q205.6,240.2 203.5,237.5" fill="none" stroke="#1f9a40" stroke-width="2.6" stroke-linecap="round"/>
<circle cx="86" cy="336" r="18" fill="#c20a1a"/>
<ellipse cx="86.8" cy="335.4" rx="16.4" ry="16.6" fill="#e30f1f"/>
<path d="M73,331.5 Q70.7,340.5 76.1,347.2" fill="none" stroke="#fff" stroke-width="1.6" stroke-linecap="round" opacity="0.9"/>
<path d="M86,323 Q87.6,321.5 89.3,319.2" fill="none" stroke="#1f9a40" stroke-width="2.2" stroke-linecap="round"/>
<path d="M86,323 Q91.6,321.5 97.2,325" fill="none" stroke="#1f9a40" stroke-width="2.2" stroke-linecap="round"/>
<path d="M86,323 Q87.8,321.5 89.6,330.8" fill="none" stroke="#1f9a40" stroke-width="2.2" stroke-linecap="round"/>
<path d="M86,323 Q81.5,321.5 77.1,328.7" fill="none" stroke="#1f9a40" stroke-width="2.2" stroke-linecap="round"/>
<path d="M86,323 Q81.4,321.5 76.9,321.5" fill="none" stroke="#1f9a40" stroke-width="2.2" stroke-linecap="round"/>
<path d="M86,323 Q87.2,316.7 90,314" fill="none" stroke="#1f9a40" stroke-width="2.6" stroke-linecap="round"/>
<circle cx="162.5" cy="331" r="18" fill="#c20a1a"/>
<ellipse cx="163.3" cy="330.4" rx="16.4" ry="16.6" fill="#e30f1f"/>
<path d="M149.5,326.5 Q147.2,335.5 152.6,342.2" fill="none" stroke="#fff" stroke-width="1.6" stroke-linecap="round" opacity="0.9"/>
<path d="M162.5,318 Q164.1,316.5 165.8,314.2" fill="none" stroke="#1f9a40" stroke-width="2.2" stroke-linecap="round"/>
<path d="M162.5,318 Q168.1,316.5 173.7,320" fill="none" stroke="#1f9a40" stroke-width="2.2" stroke-linecap="round"/>
<path d="M162.5,318 Q164.3,316.5 166.1,325.8" fill="none" stroke="#1f9a40" stroke-width="2.2" stroke-linecap="round"/>
<path d="M162.5,318 Q158,316.5 153.6,323.7" fill="none" stroke="#1f9a40" stroke-width="2.2" stroke-linecap="round"/>
<path d="M162.5,318 Q157.9,316.5 153.4,316.5" fill="none" stroke="#1f9a40" stroke-width="2.2" stroke-linecap="round"/>
<path d="M162.5,318 Q163.7,311.7 166.5,309" fill="none" stroke="#1f9a40" stroke-width="2.6" stroke-linecap="round"/>
<circle cx="243" cy="335" r="18" fill="#c20a1a"/>
<ellipse cx="242.2" cy="334.4" rx="16.4" ry="16.6" fill="#e30f1f"/>
<path d="M256,330.5 Q258.3,339.5 252.9,346.2" fill="none" stroke="#fff" stroke-width="1.6" stroke-linecap="round" opacity="0.9"/>
<path d="M243,322 Q244.6,320.5 246.3,318.2" fill="none" stroke="#1f9a40" stroke-width="2.2" stroke-linecap="round"/>
<path d="M243,322 Q248.6,320.5 254.2,324" fill="none" stroke="#1f9a40" stroke-width="2.2" stroke-linecap="round"/>
<path d="M243,322 Q244.8,320.5 246.6,329.8" fill="none" stroke="#1f9a40" stroke-width="2.2" stroke-linecap="round"/>
<path d="M243,322 Q238.5,320.5 234.1,327.7" fill="none" stroke="#1f9a40" stroke-width="2.2" stroke-linecap="round"/>
<path d="M243,322 Q238.4,320.5 233.9,320.5" fill="none" stroke="#1f9a40" stroke-width="2.2" stroke-linecap="round"/>
<path d="M243,322 Q241.5,316.4 238,314" fill="none" stroke="#1f9a40" stroke-width="2.6" stroke-linecap="round"/>
<path d="M177.6,427C176.7,428.2 173.8,432.2 172,434C170.2,435.8 169.3,437.2 166.5,438C163.7,438.8 158.7,438.5 155,439C151.3,439.5 147.6,440 144.4,441C141.2,442 138.9,443.9 136,445C133.1,446.1 128.5,447.1 127,447.5" fill="none" stroke="#d9c8a2" stroke-width="1.15" stroke-linecap="round" opacity="0.85"/>
<path d="M166.5,438C166.4,439.2 166.2,442.7 166,445C165.8,447.3 165.3,449.7 165,452C164.7,454.3 164.2,457.8 164,459" fill="none" stroke="#d9c8a2" stroke-width="1.15" stroke-linecap="round" opacity="0.85"/>
<path d="M150,440C149.5,441.2 147.3,444.7 147,447C146.7,449.3 147.8,452.8 148,454" fill="none" stroke="#d9c8a2" stroke-width="1.15" stroke-linecap="round" opacity="0.85"/>
<path d="M177.6,454C176,454.8 171.2,457.4 168,459C164.8,460.6 162.4,462.6 158.6,463.4C154.8,464.2 149.5,463.5 145,464C140.5,464.5 135.5,465.8 131.7,466.5C127.9,467.2 125.2,467.2 122,468C118.8,468.8 114.2,470.5 112.7,471" fill="none" stroke="#d9c8a2" stroke-width="1.15" stroke-linecap="round" opacity="0.85"/>
<path d="M150,464C148.8,465.2 145.7,468.7 143,471C140.3,473.3 136.5,475.7 134,478C131.5,480.3 129,483.8 128,485" fill="none" stroke="#d9c8a2" stroke-width="1.15" stroke-linecap="round" opacity="0.85"/>
<path d="M135,466C133.8,465.3 130.5,462.8 128,462C125.5,461.2 121.3,461.2 120,461" fill="none" stroke="#d9c8a2" stroke-width="1.15" stroke-linecap="round" opacity="0.85"/>
<path d="M176,479C174.8,479.3 171.2,480.2 169,481C166.8,481.8 165.2,482.7 163,484C160.8,485.3 158.1,487.2 156,489C153.9,490.8 153.4,493.7 150.7,495C148,496.3 143.8,496.5 140,497C136.2,497.5 132,497.3 128,498C124,498.7 117.8,500.8 115.8,501.4" fill="none" stroke="#d9c8a2" stroke-width="1.15" stroke-linecap="round" opacity="0.85"/>
<path d="M150.7,495C149.4,496.2 145.3,499.7 143,502C140.7,504.3 138.9,506.7 137,509C135.1,511.3 132.6,514.5 131.7,515.6" fill="none" stroke="#d9c8a2" stroke-width="1.15" stroke-linecap="round" opacity="0.85"/>
<path d="M135,497.5C133.8,496.9 130.3,494.6 128,494C125.7,493.4 122.2,494 121,494" fill="none" stroke="#d9c8a2" stroke-width="1.15" stroke-linecap="round" opacity="0.85"/>
<path d="M177.6,511C176.7,511.3 173.8,512.2 172,513C170.2,513.8 169.3,514.8 166.5,515.6C163.7,516.4 158.8,516.9 155,518C151.2,519.1 145.8,521.3 144,522" fill="none" stroke="#d9c8a2" stroke-width="1.15" stroke-linecap="round" opacity="0.85"/>
<path d="M160,517C158.8,518 155.2,520.8 153,523C150.8,525.2 148,528.8 147,530" fill="none" stroke="#d9c8a2" stroke-width="1.15" stroke-linecap="round" opacity="0.85"/>
<path d="M179,525C177.8,525.7 174.1,527.7 172,529C169.9,530.3 168.8,531.8 166.5,533C164.2,534.2 160.6,535.2 158,536C155.4,536.8 151.9,537.5 150.7,537.8" fill="none" stroke="#d9c8a2" stroke-width="1.15" stroke-linecap="round" opacity="0.85"/>
<path d="M163,534.5C162.2,535.4 159.8,538.4 158,540C156.2,541.6 153,543.3 152,544" fill="none" stroke="#d9c8a2" stroke-width="1.15" stroke-linecap="round" opacity="0.85"/>
<path d="M183,552C181.7,552.7 177.3,554.7 175,556C172.7,557.3 171,558.5 169,560C167,561.5 164,563.9 163,564.7" fill="none" stroke="#d9c8a2" stroke-width="1.15" stroke-linecap="round" opacity="0.85"/>
<path d="M172,558C171.7,559.2 170.2,562.8 170,565C169.8,567.2 170.8,570 171,571" fill="none" stroke="#d9c8a2" stroke-width="1.15" stroke-linecap="round" opacity="0.85"/>
<path d="M184,447.5C185,448.4 187.7,451.1 190,453C192.3,454.9 194.3,457.4 198,458.6C201.7,459.8 207.2,459.8 212,460C216.8,460.2 222.7,460.2 226.7,460C230.7,459.8 232.8,459 236,459C239.2,459 244.1,459.8 245.7,460" fill="none" stroke="#d9c8a2" stroke-width="1.15" stroke-linecap="round" opacity="0.85"/>
<path d="M219,460C220.5,460.7 224.8,462.7 228,464C231.2,465.3 236.3,467.3 238,468" fill="none" stroke="#d9c8a2" stroke-width="1.15" stroke-linecap="round" opacity="0.85"/>
<path d="M200,459C200.5,460 201.7,463.2 203,465C204.3,466.8 207.2,469.2 208,470" fill="none" stroke="#d9c8a2" stroke-width="1.15" stroke-linecap="round" opacity="0.85"/>
<path d="M183,471C183.8,472 186,475.2 188,477C190,478.8 192.5,480.7 195,482C197.5,483.3 200.3,484.2 203,485C205.7,485.8 208,485.7 211,487C214,488.3 217.8,490.7 221,493C224.2,495.3 228.5,499.7 230,501" fill="none" stroke="#d9c8a2" stroke-width="1.15" stroke-linecap="round" opacity="0.85"/>
<path d="M205,485.5C206.7,485.2 211.7,484 215,484C218.3,484 223.3,485.2 225,485.5" fill="none" stroke="#d9c8a2" stroke-width="1.15" stroke-linecap="round" opacity="0.85"/>
<path d="M213,488C213.7,489 216.2,492 217,494C217.8,496 217.8,499 218,500" fill="none" stroke="#d9c8a2" stroke-width="1.15" stroke-linecap="round" opacity="0.85"/>
<path d="M180.8,498C182,498.6 185.6,500.4 188,501.5C190.4,502.6 192,503.4 195,504.5C198,505.6 202.3,506.7 206,508C209.7,509.3 215.2,511.8 217,512.5" fill="none" stroke="#d9c8a2" stroke-width="1.15" stroke-linecap="round" opacity="0.85"/>
<path d="M198,505.5C198.5,506.6 200.8,509.6 201,512C201.2,514.4 199.3,518.7 199,520" fill="none" stroke="#d9c8a2" stroke-width="1.15" stroke-linecap="round" opacity="0.85"/>
<path d="M180.8,515.6C182.2,516 186.1,517.3 189,518C191.9,518.7 195.2,519 198,520C200.8,521 204.7,523.3 206,524" fill="none" stroke="#d9c8a2" stroke-width="1.15" stroke-linecap="round" opacity="0.85"/>
<path d="M183,539C184,539.1 187,539.5 189,539.5C191,539.5 193,539.4 195,539C197,538.6 199.2,537.5 201,537C202.8,536.5 205.2,536.2 206,536" fill="none" stroke="#d9c8a2" stroke-width="1.15" stroke-linecap="round" opacity="0.85"/>
<path d="M195,539C195.7,539.7 197.5,542 199,543C200.5,544 203.2,544.7 204,545" fill="none" stroke="#d9c8a2" stroke-width="1.15" stroke-linecap="round" opacity="0.85"/>
<path d="M185.5,555C186.6,555.7 190.1,558 192,559C193.9,560 195.5,560.3 197,561C198.5,561.7 200.3,562.7 201,563" fill="none" stroke="#d9c8a2" stroke-width="1.15" stroke-linecap="round" opacity="0.85"/>
<path d="M190,558C190.3,559.2 191,563 192,565C193,567 195.3,569.2 196,570" fill="none" stroke="#d9c8a2" stroke-width="1.15" stroke-linecap="round" opacity="0.85"/>
<path d="M166.5,372.3C166.7,375.4 167.2,384.1 167.9,390.5C168.7,396.9 169.7,404.1 170.9,410.8C172.1,417.5 174.2,424.5 175.3,430.7C176.4,437 177.3,442.6 177.6,448.2C178,453.8 178.1,459 177.6,464.5C177,470.1 175.3,476 174.5,481.4C173.7,486.8 172.8,491.8 172.9,496.9C172.9,502.1 174,507.1 174.8,512.3C175.6,517.6 176.7,522.9 177.7,528.4C178.8,533.9 180.1,540 181.1,545.3C182.1,550.6 182.9,555.5 183.5,560.1C184,564.8 184.3,570.9 184.4,573 L186.6,573C186.6,570.8 186.8,564.6 186.5,559.9C186.2,555.2 185.6,550.1 184.9,544.7C184.2,539.3 183.1,533.1 182.3,527.6C181.5,522.1 180.7,516.7 180.2,511.7C179.7,506.6 178.9,501.9 179.1,497.1C179.4,492.2 180.5,487.9 181.5,482.6C182.5,477.3 184.6,471.3 185.4,465.5C186.2,459.7 186.5,453.8 186.4,447.8C186.2,441.8 185.6,435.7 184.7,429.3C183.8,422.8 182.1,415.8 181.1,409.2C180.2,402.5 179.5,395.7 179.1,389.5C178.6,383.2 178.6,374.6 178.5,371.7 Z" fill="#c4ad7a"/>
<path d="M168.7,372.2C168.9,375.2 169.3,383.9 170,390.3C170.6,396.7 171.6,403.8 172.7,410.5C173.9,417.2 175.9,424.2 177,430.4C178.1,436.7 178.9,442.4 179.2,448.1C179.5,453.8 179.5,459.1 179,464.7C178.4,470.3 176.6,476.3 175.7,481.7C174.9,487 174,491.9 174,497C173.9,502.1 175,507 175.7,512.2C176.5,517.4 177.5,522.7 178.5,528.2C179.5,533.7 180.8,539.8 181.7,545.2C182.6,550.5 183.5,555.4 184,560.1C184.5,564.7 184.6,570.9 184.7,573 L185.7,573C185.7,570.8 185.8,564.6 185.4,559.9C185.1,555.2 184.4,550.2 183.7,544.8C182.9,539.5 181.8,533.3 180.9,527.8C180.1,522.3 179.3,516.9 178.7,511.8C178.1,506.7 177.3,501.9 177.4,497C177.6,492.1 178.7,487.6 179.7,482.3C180.7,477 182.7,471 183.4,465.3C184.2,459.5 184.4,453.8 184.2,447.9C184,441.9 183.3,436 182.4,429.6C181.5,423.2 179.7,416.2 178.7,409.5C177.7,402.9 176.9,396 176.4,389.7C175.9,383.4 175.8,374.8 175.7,371.8 Z" fill="#e9dcae"/>
<defs><linearGradient id="wg" x1="178" x2="328" y1="0" y2="0" gradientUnits="userSpaceOnUse"><stop offset="0" stop-color="#fbf6f4" stop-opacity="0.5"/><stop offset="1" stop-color="#fbf6f4" stop-opacity="0.53"/></linearGradient></defs>
<g clip-path="url(#soilclip)"><path d="M177.1,436 L463,319.5 L520,532.4 Z" fill="url(#wg)"/></g>
<path d="M177.1,436 L463,319.5" stroke="#dedede" stroke-width="0.8" fill="none"/>
<path d="M177.1,436 L520,532.4" stroke="#9aa3a6" stroke-width="1.1" fill="none"/>
<defs>
<linearGradient id="side" x1="456.7" x2="793.3" y1="0" y2="0" gradientUnits="userSpaceOnUse">
<stop offset="0" stop-color="#5fae36"/>
<stop offset="0.028" stop-color="#6fb93e"/>
<stop offset="0.034" stop-color="#a2d366"/>
<stop offset="0.15" stop-color="#a8d66c"/>
<stop offset="0.3" stop-color="#b0da76"/>
<stop offset="0.45" stop-color="#c8e39a"/>
<stop offset="0.55" stop-color="#d2e8a8"/>
<stop offset="0.65" stop-color="#b5dc7e"/>
<stop offset="0.76" stop-color="#8ecb4b"/>
<stop offset="0.86" stop-color="#7dc23f"/>
<stop offset="0.95" stop-color="#6bb632"/>
<stop offset="1" stop-color="#58a72a"/>
</linearGradient>
<linearGradient id="panel" x1="467" x2="730.5" y1="0" y2="0" gradientUnits="userSpaceOnUse">
<stop offset="0" stop-color="#8cc94c"/>
<stop offset="0.12" stop-color="#90cb4f"/>
<stop offset="0.25" stop-color="#a0d260"/>
<stop offset="0.36" stop-color="#b7dc7e"/>
<stop offset="0.47" stop-color="#d8e9ac"/>
<stop offset="0.57" stop-color="#eef0c7"/>
<stop offset="0.67" stop-color="#f2f0cc"/>
<stop offset="0.8" stop-color="#d9eaac"/>
<stop offset="0.92" stop-color="#bde086"/>
<stop offset="1" stop-color="#b1da7a"/>
</linearGradient>
<clipPath id="sideclip"><path d="M456.7,353 L456.7,460.2C456.8,461.7 457.1,466.7 457.5,469.3C457.9,471.8 458.5,473.8 459,475.5C459.5,477.3 460,478.5 460.5,479.9C461,481.2 461.5,482.3 462,483.4C462.5,484.4 463,485.4 463.5,486.4C464,487.3 464.1,487.6 465,489C465.9,490.5 467.7,493.3 469,495.1C470.3,496.9 471.7,498.6 473,500.1C474.3,501.7 475.7,503.1 477,504.5C478.3,505.8 479.7,507.1 481,508.3C482.3,509.6 483.7,510.7 485,511.8C486.3,512.9 487.7,514 489,515C490.3,516 490.7,516.3 493,517.9C495.3,519.4 499.7,522.3 503,524.3C506.3,526.2 509.7,528 513,529.6C516.3,531.3 519.7,532.8 523,534.2C526.3,535.6 529.7,536.9 533,538.1C536.3,539.3 539.7,540.4 543,541.4C546.3,542.4 549.7,543.4 553,544.3C556.3,545.1 559.7,545.9 563,546.7C566.3,547.4 569.7,548 573,548.6C576.3,549.2 579.7,549.8 583,550.3C586.3,550.7 589.7,551.1 593,551.5C596.3,551.9 599.7,552.2 603,552.4C606.3,552.6 609.7,552.8 613,553C616.3,553.1 619.7,553.2 623,553.2C626.3,553.2 629.7,553.2 633,553.1C636.3,553 639.7,552.9 643,552.7C646.3,552.5 649.7,552.2 653,551.9C656.3,551.6 659.7,551.2 663,550.8C666.3,550.4 669.7,549.9 673,549.3C676.3,548.8 679.7,548.2 683,547.5C686.3,546.8 689.7,546.1 693,545.3C696.3,544.5 699.7,543.6 703,542.6C706.3,541.6 709.7,540.6 713,539.5C716.3,538.3 719.7,537.1 723,535.8C726.3,534.5 729.7,533.1 733,531.5C736.3,530 739.7,528.3 743,526.5C746.3,524.7 749.7,522.8 753,520.6C756.3,518.4 760.7,515.2 763,513.4C765.3,511.7 765.7,511.3 767,510.1C768.3,509 769.7,507.8 771,506.5C772.3,505.2 773.7,503.8 775,502.4C776.3,500.9 777.7,499.4 779,497.7C780.3,496 781.7,494.3 783,492.2C784.3,490.2 786.1,487.1 787,485.4C787.9,483.7 788,483.4 788.5,482.3C789,481.1 789.5,479.9 790,478.5C790.5,477.1 791,476.8 791.5,473.8C792,470.7 793,462.5 793.3,460.2 L793.3,353 Z"/></clipPath>
<clipPath id="sideclipU"><path d="M456.7,353 L456.7,460.2C456.8,461.7 457.1,466.7 457.5,469.3C457.9,471.8 458.5,473.8 459,475.5C459.5,477.3 460,478.5 460.5,479.9C461,481.2 461.5,482.3 462,483.4C462.5,484.4 463,485.4 463.5,486.4C464,487.3 464.1,487.6 465,489C465.9,490.5 467.7,493.3 469,495.1C470.3,496.9 471.7,498.6 473,500.1C474.3,501.7 475.7,503.1 477,504.5C478.3,505.8 479.7,507.1 481,508.3C482.3,509.6 483.7,510.7 485,511.8C486.3,512.9 487.7,514 489,515C490.3,516 490.7,516.3 493,517.9C495.3,519.4 499.7,522.3 503,524.3C506.3,526.2 509.7,528 513,529.6C516.3,531.3 519.7,532.8 523,534.2C526.3,535.6 529.7,536.9 533,538.1C536.3,539.3 539.7,540.4 543,541.4C546.3,542.4 549.7,543.4 553,544.3C556.3,545.1 559.7,545.9 563,546.7C566.3,547.4 569.7,548 573,548.6C576.3,549.2 579.7,549.8 583,550.3C586.3,550.7 589.7,551.1 593,551.5C596.3,551.9 599.7,552.2 603,552.4C606.3,552.6 609.7,552.8 613,553C616.3,553.1 619.7,553.2 623,553.2C626.3,553.2 629.7,553.2 633,553.1C636.3,553 639.7,552.9 643,552.7C646.3,552.5 649.7,552.2 653,551.9C656.3,551.6 659.7,551.2 663,550.8C666.3,550.4 669.7,549.9 673,549.3C676.3,548.8 679.7,548.2 683,547.5C686.3,546.8 689.7,546.1 693,545.3C696.3,544.5 699.7,543.6 703,542.6C706.3,541.6 709.7,540.6 713,539.5C716.3,538.3 719.7,537.1 723,535.8C726.3,534.5 729.7,533.1 733,531.5C736.3,530 739.7,528.3 743,526.5C746.3,524.7 749.7,522.8 753,520.6C756.3,518.4 760.7,515.2 763,513.4C765.3,511.7 765.7,511.3 767,510.1C768.3,509 769.7,507.8 771,506.5C772.3,505.2 773.7,503.8 775,502.4C776.3,500.9 777.7,499.4 779,497.7C780.3,496 781.7,494.3 783,492.2C784.3,490.2 786.1,487.1 787,485.4C787.9,483.7 788,483.4 788.5,482.3C789,481.1 789.5,479.9 790,478.5C790.5,477.1 791,476.8 791.5,473.8C792,470.7 793,462.5 793.3,460.2 L793.3,353 Z" transform="translate(0,-10.5)"/></clipPath>
<clipPath id="sideclipD"><path d="M440,340 L456.7,359 A168.3,93 0 0 0 793.3,359 L810,340 L810,600 L440,600Z"/></clipPath>
</defs>
<defs><linearGradient id="hg1" gradientUnits="userSpaceOnUse" x1="485.3" y1="297.3" x2="441.3" y2="275.5"><stop offset="0" stop-color="#a3d466" stop-opacity="1"/><stop offset="0.2" stop-color="#a3d466" stop-opacity="1"/><stop offset="0.75" stop-color="#d3eba8"/><stop offset="1" stop-color="#d3eba8"/></linearGradient></defs>
<path d="M485.2,294.6L483.1,294.1L480.3,293.8L477.3,293.5L474.2,293.5L471.5,293.2L468.7,292.6L465.5,291.6L462.2,290.4L459.2,289.1L456.6,287.8L454.4,286.5L452.3,284.9L450.4,283.1L448.6,281.4L447,279.9L445.6,278.7L444.4,277.6L443.3,276.7L442.3,275.9L441.4,275.4L441.2,275.6L441.2,276.6L441.4,277.8L441.9,279.3L442.6,280.9L443.6,282.7L444.8,284.6L446.3,286.7L448.1,289.1L450.3,291.4L452.8,293.6L455.8,295.5L459.1,297.3L462.7,298.9L466.3,300.3L469.9,301.4L473.6,302L477.4,302.1L480.8,301.5L483.6,300.7L485.4,300Z" fill="url(#hg1)"/>
<path d="M470.2,299.6L466.8,298.6L463.3,297.3L459.8,295.8L456.6,294.1L453.7,292.3L451.2,290.3L449,288.1L447.2,285.9L445.7,283.9L444.4,282.1L443.3,280.4L442.4,278.9" fill="none" stroke="#7fc145" stroke-width="2" stroke-linecap="round" opacity="0.75"/>
<path d="M485.2,294.6L483.1,294.1L480.3,293.8L477.3,293.5L474.2,293.5L471.5,293.2L468.7,292.6L465.5,291.6L462.2,290.4L459.2,289.1L456.6,287.8L454.4,286.5L452.3,284.9L450.4,283.1L448.6,281.4L447,279.9L445.6,278.7L444.4,277.6L443.3,276.7L442.3,275.9L441.4,275.4L441.2,275.6L441.2,276.6L441.4,277.8L441.9,279.3L442.6,280.9L443.6,282.7L444.8,284.6L446.3,286.7L448.1,289.1L450.3,291.4L452.8,293.6L455.8,295.5L459.1,297.3L462.7,298.9L466.3,300.3L469.9,301.4L473.6,302L477.4,302.1L480.8,301.5L483.6,300.7L485.4,300" fill="none" stroke="#3f982f" stroke-width="1.3" stroke-linejoin="round" stroke-linecap="round"/>
<path d="M455.4,289.5L453.1,287.9L451.1,286.1L449.2,284.2L447.5,282.4L446,280.7" fill="none" stroke="#fff" stroke-width="1.7" stroke-linecap="round"/>
<defs><linearGradient id="hg2" gradientUnits="userSpaceOnUse" x1="737.3" y1="284" x2="784.5" y2="281"><stop offset="0" stop-color="#a3d466" stop-opacity="1"/><stop offset="0.2" stop-color="#a3d466" stop-opacity="1"/><stop offset="0.75" stop-color="#d3eba8"/><stop offset="1" stop-color="#d3eba8"/></linearGradient></defs>
<path d="M739.2,286L740.6,285.4L742.4,284.4L744.2,283.4L745.7,282L747.2,281L749.2,280L751.5,279L754.1,278.1L756.7,277.3L759.1,276.7L761.6,276.3L764.1,275.9L766.5,275.8L768.9,275.8L771.3,276.1L774,276.8L776.9,278L779.8,279.3L782.5,280.5L784.4,281.1L784.6,280.9L783.2,279.4L781,277.5L778.4,275.4L775.5,273.4L772.7,271.9L769.8,271L767,270.3L764.1,269.9L761.2,269.8L758.3,269.9L755.2,270.2L752.1,270.8L749,271.6L746.1,272.5L743.4,273.6L740.8,275.1L738.5,276.9L737,278.9L736,280.7L735.4,282Z" fill="url(#hg2)"/>
<path d="M744.2,275.2L746.8,274.1L749.6,273.2L752.5,272.4L755.5,271.8L758.4,271.4L761.3,271.2L764.1,271.3L766.9,271.5L769.6,272L772.4,272.8L775.2,274.2L778.1,276" fill="none" stroke="#7fc145" stroke-width="2" stroke-linecap="round" opacity="0.75"/>
<path d="M739.2,286L740.6,285.4L742.4,284.4L744.2,283.4L745.7,282L747.2,281L749.2,280L751.5,279L754.1,278.1L756.7,277.3L759.1,276.7L761.6,276.3L764.1,275.9L766.5,275.8L768.9,275.8L771.3,276.1L774,276.8L776.9,278L779.8,279.3L782.5,280.5L784.4,281.1L784.6,280.9L783.2,279.4L781,277.5L778.4,275.4L775.5,273.4L772.7,271.9L769.8,271L767,270.3L764.1,269.9L761.2,269.8L758.3,269.9L755.2,270.2L752.1,270.8L749,271.6L746.1,272.5L743.4,273.6L740.8,275.1L738.5,276.9L737,278.9L736,280.7L735.4,282" fill="none" stroke="#3f982f" stroke-width="1.3" stroke-linejoin="round" stroke-linecap="round"/>
<path d="M758.9,274.7L761.5,274.3L764.1,274.1L766.7,274.1L769.2,274.4L771.7,274.8" fill="none" stroke="#fff" stroke-width="1.7" stroke-linecap="round"/>
<defs><linearGradient id="hg3" gradientUnits="userSpaceOnUse" x1="790.7" y1="336" x2="820.5" y2="322.7"><stop offset="0" stop-color="#a3d466" stop-opacity="1"/><stop offset="0.2" stop-color="#a3d466" stop-opacity="1"/><stop offset="0.75" stop-color="#d3eba8"/><stop offset="1" stop-color="#d3eba8"/></linearGradient></defs>
<path d="M792.5,338L794.1,337.6L796,336.9L797.7,335.4L799.3,333.9L800.9,332.6L802.6,331.3L804.4,330L806.3,328.7L808.2,327.6L810,326.6L812.1,325.7L814.5,325L816.9,324.3L819,323.6L820.5,322.8L820.5,322.6L818.9,322L816.7,321.6L814.1,321.3L811.3,321.2L808.6,321.4L806,322L803.5,322.8L801,323.8L798.7,324.8L796.5,326L794.3,327.4L792.2,329L790.4,330.6L789.4,332.5L788.9,334Z" fill="url(#hg3)"/>
<path d="M795.4,328.8L797.5,327.5L799.6,326.3L801.8,325.1L804.1,324.1L806.5,323.2L808.9,322.6L811.5,322.2L814.2,322.1L816.7,322.2" fill="none" stroke="#7fc145" stroke-width="2" stroke-linecap="round" opacity="0.75"/>
<path d="M792.5,338L794.1,337.6L796,336.9L797.7,335.4L799.3,333.9L800.9,332.6L802.6,331.3L804.4,330L806.3,328.7L808.2,327.6L810,326.6L812.1,325.7L814.5,325L816.9,324.3L819,323.6L820.5,322.8L820.5,322.6L818.9,322L816.7,321.6L814.1,321.3L811.3,321.2L808.6,321.4L806,322L803.5,322.8L801,323.8L798.7,324.8L796.5,326L794.3,327.4L792.2,329L790.4,330.6L789.4,332.5L788.9,334" fill="none" stroke="#3f982f" stroke-width="1.3" stroke-linejoin="round" stroke-linecap="round"/>
<path d="M805.5,327L807.5,325.9L809.6,325L811.8,324.4" fill="none" stroke="#fff" stroke-width="1.7" stroke-linecap="round"/>
<path d="M456.7,353 L456.7,460.2C456.8,461.7 457.1,466.7 457.5,469.3C457.9,471.8 458.5,473.8 459,475.5C459.5,477.3 460,478.5 460.5,479.9C461,481.2 461.5,482.3 462,483.4C462.5,484.4 463,485.4 463.5,486.4C464,487.3 464.1,487.6 465,489C465.9,490.5 467.7,493.3 469,495.1C470.3,496.9 471.7,498.6 473,500.1C474.3,501.7 475.7,503.1 477,504.5C478.3,505.8 479.7,507.1 481,508.3C482.3,509.6 483.7,510.7 485,511.8C486.3,512.9 487.7,514 489,515C490.3,516 490.7,516.3 493,517.9C495.3,519.4 499.7,522.3 503,524.3C506.3,526.2 509.7,528 513,529.6C516.3,531.3 519.7,532.8 523,534.2C526.3,535.6 529.7,536.9 533,538.1C536.3,539.3 539.7,540.4 543,541.4C546.3,542.4 549.7,543.4 553,544.3C556.3,545.1 559.7,545.9 563,546.7C566.3,547.4 569.7,548 573,548.6C576.3,549.2 579.7,549.8 583,550.3C586.3,550.7 589.7,551.1 593,551.5C596.3,551.9 599.7,552.2 603,552.4C606.3,552.6 609.7,552.8 613,553C616.3,553.1 619.7,553.2 623,553.2C626.3,553.2 629.7,553.2 633,553.1C636.3,553 639.7,552.9 643,552.7C646.3,552.5 649.7,552.2 653,551.9C656.3,551.6 659.7,551.2 663,550.8C666.3,550.4 669.7,549.9 673,549.3C676.3,548.8 679.7,548.2 683,547.5C686.3,546.8 689.7,546.1 693,545.3C696.3,544.5 699.7,543.6 703,542.6C706.3,541.6 709.7,540.6 713,539.5C716.3,538.3 719.7,537.1 723,535.8C726.3,534.5 729.7,533.1 733,531.5C736.3,530 739.7,528.3 743,526.5C746.3,524.7 749.7,522.8 753,520.6C756.3,518.4 760.7,515.2 763,513.4C765.3,511.7 765.7,511.3 767,510.1C768.3,509 769.7,507.8 771,506.5C772.3,505.2 773.7,503.8 775,502.4C776.3,500.9 777.7,499.4 779,497.7C780.3,496 781.7,494.3 783,492.2C784.3,490.2 786.1,487.1 787,485.4C787.9,483.7 788,483.4 788.5,482.3C789,481.1 789.5,479.9 790,478.5C790.5,477.1 791,476.8 791.5,473.8C792,470.7 793,462.5 793.3,460.2 L793.3,353 Z" fill="url(#side)"/>
<g clip-path="url(#sideclip)">
<g clip-path="url(#sideclipU)"><g clip-path="url(#sideclipD)"><rect x="467" y="350" width="263.5" height="230" rx="9" fill="url(#panel)"/></g></g>
<ellipse cx="625.0" cy="355" rx="168.3" ry="93" fill="none" stroke="#5fae36" stroke-opacity="0.35" stroke-width="5"/>
</g>
<path d="M625,446V553.2M606.4,445.4V552.6M587.8,443.7V550.9M569.5,440.8V547.9M551.3,436.6V543.8M533.5,431.1V538.3M516.3,424V531.1M499.9,415.2V522.3M484.8,404.4V511.6M471.6,391.3V498.4M461.7,375.5V482.7M456.9,357.6V462.6M793.1,357.6V461.8M788.3,375.5V482.7M778.4,391.3V498.4M765.2,404.4V511.6M750.1,415.2V522.3M733.7,424V531.2M716.5,431.1V538.2M698.7,436.6V543.8M680.5,440.8V548M662.2,443.7V550.9M643.6,445.4V552.6" stroke="#3a9a3a" stroke-width="1" fill="none"/>
<path d="M456.7,353 L456.7,460.2C456.8,461.7 457.1,466.7 457.5,469.3C457.9,471.8 458.5,473.8 459,475.5C459.5,477.3 460,478.5 460.5,479.9C461,481.2 461.5,482.3 462,483.4C462.5,484.4 463,485.4 463.5,486.4C464,487.3 464.1,487.6 465,489C465.9,490.5 467.7,493.3 469,495.1C470.3,496.9 471.7,498.6 473,500.1C474.3,501.7 475.7,503.1 477,504.5C478.3,505.8 479.7,507.1 481,508.3C482.3,509.6 483.7,510.7 485,511.8C486.3,512.9 487.7,514 489,515C490.3,516 490.7,516.3 493,517.9C495.3,519.4 499.7,522.3 503,524.3C506.3,526.2 509.7,528 513,529.6C516.3,531.3 519.7,532.8 523,534.2C526.3,535.6 529.7,536.9 533,538.1C536.3,539.3 539.7,540.4 543,541.4C546.3,542.4 549.7,543.4 553,544.3C556.3,545.1 559.7,545.9 563,546.7C566.3,547.4 569.7,548 573,548.6C576.3,549.2 579.7,549.8 583,550.3C586.3,550.7 589.7,551.1 593,551.5C596.3,551.9 599.7,552.2 603,552.4C606.3,552.6 609.7,552.8 613,553C616.3,553.1 619.7,553.2 623,553.2C626.3,553.2 629.7,553.2 633,553.1C636.3,553 639.7,552.9 643,552.7C646.3,552.5 649.7,552.2 653,551.9C656.3,551.6 659.7,551.2 663,550.8C666.3,550.4 669.7,549.9 673,549.3C676.3,548.8 679.7,548.2 683,547.5C686.3,546.8 689.7,546.1 693,545.3C696.3,544.5 699.7,543.6 703,542.6C706.3,541.6 709.7,540.6 713,539.5C716.3,538.3 719.7,537.1 723,535.8C726.3,534.5 729.7,533.1 733,531.5C736.3,530 739.7,528.3 743,526.5C746.3,524.7 749.7,522.8 753,520.6C756.3,518.4 760.7,515.2 763,513.4C765.3,511.7 765.7,511.3 767,510.1C768.3,509 769.7,507.8 771,506.5C772.3,505.2 773.7,503.8 775,502.4C776.3,500.9 777.7,499.4 779,497.7C780.3,496 781.7,494.3 783,492.2C784.3,490.2 786.1,487.1 787,485.4C787.9,483.7 788,483.4 788.5,482.3C789,481.1 789.5,479.9 790,478.5C790.5,477.1 791,476.8 791.5,473.8C792,470.7 793,462.5 793.3,460.2 L793.3,353 Z" fill="none" stroke="#3d9b37" stroke-width="1.3"/>
<ellipse cx="625.0" cy="353" rx="168.3" ry="93" fill="#419c38"/>
<ellipse cx="625.0" cy="352.3" rx="159" ry="85.4" fill="#17733a"/>
<path d="M790.8,355L790.5,358.4L790,361.9L789.3,365.3L788.3,368.7L784.1,367.8L785,364.5L785.8,361.2L786.3,357.9L786.5,354.6ZM786.8,372.8L785.4,376L783.8,379L782,382.1L780,385.1L776.1,383.5L778,380.6L779.7,377.7L781.2,374.7L782.6,371.7ZM777.4,388.6L775.3,391.2L773,393.8L770.6,396.4L768,398.9L764.3,396.8L766.9,394.4L769.2,391.9L771.5,389.4L773.5,386.9ZM764.7,401.8L762.1,403.9L759.4,406.1L756.5,408.1L753.6,410.2L750.4,407.7L753.2,405.7L756,403.7L758.6,401.7L761.2,399.6ZM749.9,412.6L747,414.3L744,416.1L740.9,417.7L737.8,419.4L735,416.6L738.1,415L741.1,413.4L744,411.7L746.8,410ZM733.9,421.3L730.7,422.8L727.6,424.2L724.3,425.5L721.1,426.8L718.8,423.8L722,422.6L725.1,421.3L728.2,419.9L731.2,418.5ZM717,428.3L713.7,429.5L710.5,430.6L707.1,431.7L703.8,432.7L701.9,429.6L705.2,428.6L708.4,427.5L711.6,426.5L714.8,425.3ZM699.6,433.9L696.2,434.8L692.9,435.6L689.5,436.4L686.1,437.2L684.6,434L688,433.2L691.3,432.4L694.6,431.6L697.8,430.7ZM681.8,438.1L678.4,438.7L675,439.3L671.5,439.9L668.1,440.4L667.1,437.1L670.5,436.6L673.8,436.1L677.2,435.5L680.5,434.8ZM663.8,441L660.3,441.5L656.9,441.8L653.4,442.2L650,442.5L649.4,439.2L652.8,438.9L656.2,438.5L659.5,438.1L662.9,437.7ZM645.6,442.8L642.2,443L638.7,443.2L635.2,443.4L631.7,443.5L631.6,440.1L635,440L638.4,439.9L641.8,439.7L645.2,439.5ZM627.4,443.5L623.9,443.5L620.4,443.5L617,443.4L613.5,443.3L613.8,440L617.1,440.1L620.5,440.2L623.9,440.2L627.3,440.2ZM609.1,443.1L605.7,442.9L602.2,442.7L598.7,442.4L595.3,442.1L596,438.7L599.3,439.1L602.7,439.3L606.1,439.6L609.5,439.8ZM591,441.6L587.5,441.2L584,440.7L580.6,440.2L577.2,439.7L578.3,436.4L581.6,436.9L585,437.4L588.3,437.9L591.7,438.3ZM572.9,439L569.5,438.3L566,437.6L562.6,436.9L559.3,436.1L560.8,432.9L564.1,433.7L567.4,434.4L570.7,435.1L574.1,435.7ZM555.1,435.1L551.7,434.2L548.3,433.3L545,432.3L541.7,431.3L543.6,428.2L546.8,429.2L550.1,430.1L553.4,431.1L556.7,431.9ZM537.5,429.9L534.2,428.8L530.9,427.6L527.7,426.3L524.5,425L526.9,422.1L530,423.4L533.2,424.6L536.4,425.8L539.6,426.9ZM520.5,423.3L517.3,421.8L514.1,420.3L511,418.8L508,417.2L510.9,414.5L513.8,416L516.8,417.5L519.9,419L523,420.4ZM504.2,415L501.1,413.2L498.2,411.3L495.3,409.4L492.5,407.4L495.8,405.1L498.5,407L501.3,408.8L504.2,410.6L507.2,412.4ZM489,404.8L486.2,402.5L483.6,400.2L481,397.9L478.6,395.5L482.3,393.5L484.7,395.9L487.1,398.1L489.7,400.3L492.4,402.5ZM475.6,392.3L473.3,389.5L471.2,386.7L469.2,383.9L467.4,381L471.4,379.6L473.2,382.4L475.1,385.1L477.2,387.8L479.4,390.5ZM465.3,377.2L463.7,374L462.4,370.7L461.3,367.4L460.5,364.1L464.7,363.3L465.5,366.5L466.6,369.7L467.9,372.8L469.4,375.9ZM459.7,359.8L459.3,356.3L459.2,352.8L459.3,349.3L459.7,345.8L463.9,345.8L463.5,349.1L463.4,352.5L463.6,355.8L463.9,359.2ZM460.5,341.5L461.4,338.2L462.5,334.9L463.8,331.6L465.3,328.4L469.3,329L467.8,332.1L466.5,335.3L465.5,338.4L464.7,341.6ZM467.5,324.6L469.3,321.7L471.3,318.9L473.4,316.1L475.8,313.4L479.3,314.5L477.1,317.1L475,319.8L473.1,322.5L471.3,325.3ZM478.7,310.2L481.2,307.8L483.7,305.4L486.4,303.1L489.2,300.9L492.3,302.4L489.6,304.5L487,306.8L484.5,309L482.2,311.4ZM492.7,298.3L495.4,296.3L498.3,294.4L501.3,292.5L504.4,290.7L507,292.4L504,294.2L501.1,296L498.3,297.9L495.6,299.8ZM508.2,288.6L511.2,287L514.3,285.4L517.5,283.9L520.7,282.5L522.8,284.3L519.7,285.8L516.6,287.3L513.6,288.8L510.7,290.3ZM524.7,280.7L527.9,279.5L531.1,278.2L534.4,277L537.7,275.9L539.4,277.9L536.2,279L533,280.2L529.8,281.4L526.7,282.7ZM541.9,274.5L545.1,273.5L548.5,272.6L551.8,271.6L555.2,270.8L556.5,272.8L553.2,273.6L549.9,274.6L546.7,275.5L543.5,276.5ZM559.5,269.7L562.8,269L566.2,268.3L569.6,267.6L573.1,266.9L574,269L570.6,269.6L567.2,270.3L563.9,271L560.6,271.7ZM577.3,266.2L580.7,265.7L584.2,265.2L587.6,264.7L591.1,264.3L591.6,266.3L588.2,266.7L584.9,267.2L581.5,267.7L578.2,268.2ZM595.4,263.9L598.8,263.6L602.3,263.3L605.7,263L609.2,262.8L609.5,264.8L606,265L602.6,265.3L599.3,265.5L595.9,265.9ZM613.5,262.6L617,262.5L620.5,262.5L623.9,262.4L627.4,262.4L627.3,264.4L623.9,264.4L620.5,264.4L617.1,264.5L613.7,264.6ZM631.7,262.5L635.2,262.6L638.6,262.7L642.1,262.9L645.6,263.1L645.2,265.1L641.8,264.9L638.4,264.7L635,264.6L631.6,264.5ZM649.9,263.4L653.3,263.7L656.8,264.1L660.2,264.5L663.7,264.9L663,266.9L659.6,266.5L656.3,266.1L652.9,265.7L649.5,265.4ZM668,265.5L671.4,266L674.8,266.6L678.2,267.2L681.6,267.8L680.6,269.8L677.3,269.2L674,268.6L670.6,268L667.2,267.5ZM685.9,268.7L689.3,269.5L692.7,270.3L696.1,271.1L699.4,272L698,274L694.8,273.1L691.5,272.3L688.2,271.5L684.8,270.7ZM703.6,273.1L706.9,274.2L710.3,275.2L713.5,276.3L716.8,277.5L715,279.4L711.8,278.3L708.6,277.2L705.4,276.2L702.1,275.1ZM720.9,279L724.1,280.3L727.4,281.6L730.6,283L733.7,284.4L731.4,286.3L728.4,284.9L725.3,283.5L722.2,282.2L719,280.9ZM737.6,286.4L740.7,288L743.8,289.7L746.8,291.4L749.7,293.2L747,294.8L744.2,293.1L741.3,291.4L738.3,289.8L735.2,288.2ZM753.4,295.5L756.4,297.5L759.2,299.6L761.9,301.7L764.5,303.9L761.3,305.3L758.8,303.2L756.1,301.1L753.4,299.1L750.5,297.1ZM767.8,306.8L770.4,309.3L772.9,311.8L775.2,314.4L777.3,317L773.6,318L771.6,315.5L769.4,313L767,310.5L764.5,308.1ZM779.9,320.6L781.9,323.6L783.7,326.6L785.3,329.7L786.7,332.8L782.7,333.2L781.3,330.2L779.8,327.2L778.1,324.3L776.2,321.4ZM788.2,336.9L789.2,340.3L790,343.7L790.5,347.2L790.8,350.6L786.5,350.4L786.3,347L785.8,343.7L785.1,340.4L784.1,337.2Z" fill="#a9d76e" stroke="#a9d76e" stroke-width="2.2" stroke-linejoin="round"/>
<path d="M790,356L789.7,358.9L789.3,361.8L788.6,364.7L787.9,367.6L785.1,367L785.9,364.2L786.5,361.3L786.9,358.5L787.2,355.7ZM785.6,373.6L784.4,376.2L783.1,378.8L781.6,381.4L779.9,383.9L777.3,382.9L778.9,380.5L780.4,378L781.7,375.4L782.9,372.9ZM776.1,389.1L774.2,391.3L772.3,393.5L770.2,395.6L768.1,397.8L765.7,396.4L767.9,394.4L769.9,392.3L771.8,390.2L773.6,388ZM763.3,402.1L761,403.9L758.7,405.7L756.3,407.4L753.9,409.1L751.8,407.6L754.2,405.9L756.6,404.2L758.8,402.4L761,400.7ZM748.4,412.6L746,414.1L743.4,415.6L740.8,417L738.2,418.4L736.5,416.7L739.1,415.3L741.6,413.9L744.1,412.5L746.5,411ZM732.4,421.2L729.7,422.4L727.1,423.6L724.3,424.7L721.6,425.8L720.2,424.1L722.9,423L725.6,421.8L728.2,420.7L730.8,419.5ZM715.5,428.1L712.8,429.1L710,430L707.2,430.9L704.4,431.7L703.3,429.9L706.1,429.1L708.8,428.2L711.6,427.2L714.2,426.3ZM698.2,433.5L695.4,434.2L692.5,434.9L689.7,435.6L686.8,436.3L686,434.4L688.8,433.8L691.6,433.1L694.4,432.4L697.2,431.7ZM680.5,437.6L677.6,438.1L674.7,438.6L671.8,439.1L668.9,439.6L668.3,437.7L671.2,437.3L674.1,436.8L676.9,436.3L679.7,435.7ZM662.5,440.4L659.6,440.8L656.7,441.1L653.8,441.4L650.9,441.7L650.6,439.8L653.4,439.6L656.3,439.3L659.2,438.9L662.1,438.6ZM644.5,442.2L641.5,442.3L638.6,442.5L635.7,442.6L632.8,442.7L632.7,440.8L635.6,440.7L638.4,440.6L641.3,440.5L644.2,440.3ZM626.3,442.8L623.4,442.8L620.5,442.7L617.5,442.7L614.6,442.6L614.7,440.8L617.6,440.8L620.5,440.9L623.4,440.9L626.3,440.9ZM608.2,442.3L605.2,442.1L602.3,441.9L599.4,441.7L596.5,441.4L596.9,439.6L599.7,439.8L602.6,440.1L605.5,440.3L608.4,440.5ZM590.1,440.8L587.2,440.4L584.3,440L581.4,439.6L578.5,439.2L579.1,437.3L581.9,437.7L584.8,438.2L587.6,438.5L590.5,438.9ZM572.1,438.1L569.2,437.5L566.3,436.9L563.5,436.3L560.6,435.7L561.5,433.9L564.3,434.5L567.1,435.1L570,435.7L572.8,436.2ZM554.4,434.2L551.5,433.4L548.7,432.6L545.9,431.8L543.1,431L544.2,429.2L547,430L549.7,430.8L552.5,431.6L555.3,432.3ZM537,429L534.2,428L531.4,427L528.7,425.9L526,424.9L527.4,423.1L530,424.2L532.7,425.2L535.4,426.2L538.2,427.2ZM520,422.3L517.3,421.1L514.6,419.8L512,418.5L509.5,417.2L511.2,415.5L513.7,416.8L516.3,418.1L518.9,419.4L521.6,420.6ZM503.8,414L501.3,412.5L498.8,410.9L496.3,409.3L494,407.6L496,406.1L498.4,407.7L500.7,409.3L503.2,410.9L505.7,412.4ZM488.8,403.7L486.5,401.8L484.2,399.9L482.1,397.9L480,395.9L482.4,394.6L484.4,396.6L486.5,398.5L488.7,400.4L491,402.3ZM475.6,391.2L473.7,388.8L471.9,386.5L470.2,384.1L468.6,381.7L471.3,380.8L472.8,383.1L474.4,385.4L476.2,387.7L478.1,390ZM465.5,376L464.2,373.3L463.2,370.6L462.2,367.8L461.4,365L464.2,364.5L465,367.2L465.9,369.9L467,372.6L468.2,375.2ZM460.3,358.6L460,355.7L459.9,352.7L460,349.8L460.3,346.9L463,346.8L462.8,349.7L462.7,352.5L462.8,355.4L463,358.3ZM461.5,340.5L462.3,337.7L463.2,334.9L464.3,332.2L465.6,329.5L468.1,329.8L466.9,332.5L465.8,335.2L464.9,337.9L464.1,340.6ZM468.8,323.8L470.3,321.4L472,319L473.8,316.7L475.8,314.4L477.9,315L476,317.3L474.3,319.6L472.6,321.9L471.1,324.3ZM480.2,309.6L482.3,307.6L484.4,305.7L486.7,303.8L489,301.9L490.8,302.7L488.5,304.6L486.3,306.5L484.2,308.4L482.2,310.4ZM494.2,298L496.6,296.4L499,294.7L501.5,293.2L504.1,291.6L505.5,292.5L503,294.1L500.5,295.6L498.1,297.2L495.8,298.8ZM509.7,288.5L512.3,287.2L514.9,285.9L517.6,284.6L520.3,283.4L521.3,284.3L518.7,285.5L516.1,286.8L513.5,288.1L511,289.4ZM526.2,280.9L528.9,279.8L531.6,278.8L534.4,277.8L537.2,276.8L537.9,277.6L535.2,278.6L532.5,279.6L529.8,280.7L527.1,281.7ZM543.3,274.8L546.1,274L548.9,273.2L551.8,272.4L554.6,271.7L555.1,272.4L552.3,273.2L549.5,274L546.7,274.8L544,275.6ZM560.9,270.1L563.7,269.5L566.6,268.9L569.4,268.4L572.3,267.8L572.6,268.5L569.8,269L566.9,269.6L564.1,270.2L561.3,270.9ZM578.7,266.7L581.5,266.3L584.4,265.9L587.3,265.5L590.2,265.2L590.4,265.7L587.5,266.1L584.6,266.5L581.8,266.9L578.9,267.4ZM596.6,264.5L599.5,264.2L602.4,264L605.3,263.8L608.2,263.6L608.3,264.1L605.4,264.3L602.5,264.5L599.6,264.8L596.7,265ZM614.7,263.4L617.6,263.3L620.5,263.2L623.4,263.2L626.3,263.2L626.3,263.7L623.4,263.7L620.5,263.7L617.6,263.8L614.7,263.8ZM632.7,263.3L635.6,263.4L638.6,263.5L641.5,263.6L644.4,263.8L644.3,264.3L641.4,264.1L638.5,264L635.6,263.9L632.7,263.8ZM650.8,264.3L653.7,264.5L656.6,264.8L659.5,265.1L662.4,265.5L662.2,266.1L659.3,265.7L656.5,265.4L653.6,265.1L650.7,264.8ZM668.7,266.3L671.6,266.8L674.5,267.3L677.4,267.8L680.3,268.3L679.9,269L677.1,268.4L674.3,267.9L671.4,267.4L668.5,266.9ZM686.6,269.6L689.4,270.2L692.3,270.9L695.1,271.6L697.9,272.3L697.4,273.1L694.6,272.3L691.8,271.6L689,270.9L686.2,270.3ZM704.1,274L707,274.9L709.8,275.8L712.5,276.7L715.3,277.7L714.5,278.5L711.8,277.5L709.1,276.6L706.3,275.7L703.5,274.8ZM721.3,279.9L724.1,281L726.8,282.1L729.5,283.3L732.1,284.5L731,285.4L728.5,284.2L725.8,283L723.2,281.9L720.4,280.8ZM737.9,287.3L740.6,288.7L743.2,290.1L745.7,291.5L748.2,293L746.8,293.9L744.3,292.4L741.9,291L739.3,289.6L736.7,288.2ZM753.6,296.5L756.1,298.2L758.5,299.9L760.8,301.7L763,303.5L761.2,304.3L759,302.5L756.8,300.8L754.5,299.1L752.1,297.4ZM767.9,307.8L770.1,309.9L772.1,312L774.1,314.2L775.9,316.4L773.7,317L771.9,314.9L770,312.7L768,310.6L765.9,308.5ZM779.8,321.6L781.4,324.1L782.9,326.7L784.3,329.3L785.5,331.9L783,332.2L781.8,329.6L780.5,327.1L779.1,324.6L777.5,322.1ZM787.8,337.9L788.6,340.8L789.2,343.7L789.7,346.6L790,349.5L787.2,349.4L787,346.5L786.5,343.7L785.9,340.9L785.2,338.1Z" fill="#c8e69e" stroke="#c8e69e" stroke-width="1.4" stroke-linejoin="round"/>
<path d="M780.1,361.2L779.3,364.5L778.2,367.8L776.9,371.1L775.3,374.3L770.9,372.9L772.4,369.8L773.7,366.7L774.7,363.6L775.5,360.4ZM772.3,379.4L770.3,382.3L768.1,385.1L765.8,387.8L763.2,390.6L759.1,388.4L761.6,385.9L763.9,383.2L766,380.5L768,377.8ZM758.9,394.6L755.9,397.1L752.8,399.6L749.5,402L746,404.3L742.6,401.7L745.9,399.4L749.1,397.1L752.1,394.8L755,392.3ZM741,407.4L737.7,409.3L734.2,411.2L730.7,413L727,414.7L724.2,411.6L727.7,410L731.2,408.2L734.5,406.5L737.7,404.6ZM721.6,417L718.7,418.2L715.8,419.4L712.8,420.5L709.8,421.5L707.4,418.2L710.4,417.2L713.3,416.1L716.1,415L718.9,413.9ZM704.2,423.4L700.1,424.6L696,425.7L691.8,426.8L687.6,427.8L685.9,424.4L690,423.4L694.1,422.3L698.1,421.2L702,420ZM681.9,429.1L678.9,429.7L676,430.2L673,430.7L670,431.2L668.8,427.7L671.7,427.2L674.6,426.7L677.5,426.2L680.3,425.6ZM664.2,432.1L659.8,432.7L655.4,433.2L650.9,433.6L646.5,433.9L645.9,430.3L650.2,430L654.6,429.6L658.9,429.1L663.1,428.5ZM640.6,434.3L636.8,434.5L632.9,434.6L629.1,434.7L625.3,434.7L625.3,431.1L629,431.1L632.7,431L636.5,430.9L640.2,430.7ZM619.4,434.7L615.7,434.6L612,434.4L608.3,434.3L604.7,434L605.2,430.4L608.8,430.6L612.3,430.8L615.9,431L619.5,431.1ZM598.8,433.6L595.3,433.2L591.8,432.8L588.3,432.4L584.9,432L586,428.4L589.3,428.9L592.7,429.3L596.1,429.6L599.5,430ZM579.1,431.1L575.8,430.5L572.6,430L569.4,429.3L566.2,428.7L567.8,425.2L570.9,425.8L574,426.4L577.1,427L580.3,427.6ZM560.5,427.4L556.6,426.4L552.8,425.4L549,424.3L545.3,423.2L547.5,419.9L551.1,421L554.8,422L558.5,423L562.2,423.9ZM539.7,421.4L536.3,420.1L532.9,418.8L529.5,417.5L526.2,416.1L529,413L532.2,414.4L535.4,415.6L538.7,416.9L542.1,418.1ZM520.9,413.7L517,411.8L513.3,409.9L509.7,407.8L506.2,405.8L509.6,403L513,405L516.5,407L520.1,408.9L523.8,410.7ZM501.3,402.5L498.6,400.7L496.1,398.8L493.7,396.8L491.4,394.9L495.3,392.6L497.5,394.5L499.9,396.3L502.3,398.1L504.8,399.9ZM487.1,390.8L483.9,387.4L480.9,383.9L478.3,380.4L476,376.7L480.4,375.2L482.7,378.7L485.2,382.1L488,385.4L491.1,388.7ZM473.3,371.5L472,368.4L470.9,365.3L470.1,362.2L469.5,359.1L474.1,358.4L474.7,361.4L475.5,364.3L476.6,367.3L477.8,370.2ZM469,353.2L469,349.1L469.5,345L470.4,340.9L471.6,336.9L476.1,337.2L474.9,341.1L474.1,345L473.6,348.9L473.6,352.8ZM473.9,331.4L475.6,328.2L477.5,325L479.7,321.9L482.2,318.8L486.1,319.9L483.8,322.9L481.7,325.9L479.9,328.9L478.2,332ZM486.1,314.4L488.6,311.9L491.3,309.5L494.2,307.1L497.2,304.7L500.5,306.3L497.6,308.6L494.9,310.9L492.3,313.3L489.9,315.7ZM502,301.3L504.3,299.7L506.8,298.2L509.3,296.7L511.9,295.2L514.7,297.1L512.2,298.5L509.8,300L507.4,301.5L505.1,303ZM517.1,292.5L520.3,290.9L523.5,289.4L526.9,287.9L530.3,286.5L532.5,288.6L529.2,290L526,291.4L522.8,292.9L519.7,294.4ZM535.8,284.4L539.5,283.1L543.3,281.8L547.1,280.7L551,279.5L552.5,281.7L548.8,282.8L545.1,284L541.4,285.2L537.8,286.5ZM556.6,278L560,277.2L563.5,276.4L566.9,275.6L570.4,274.9L571.5,277L568.1,277.8L564.7,278.5L561.4,279.3L558.1,280.1ZM576.2,273.8L580,273.2L583.7,272.6L587.5,272.1L591.3,271.7L592,273.8L588.2,274.3L584.5,274.8L580.8,275.4L577.2,276ZM597.2,271.1L601.2,270.7L605.2,270.4L609.2,270.2L613.2,270L613.5,272.1L609.5,272.3L605.5,272.5L601.6,272.8L597.7,273.2ZM619.1,269.8L623.1,269.8L627.1,269.8L631.1,269.8L635.1,269.9L635,272L631,271.9L627.1,271.9L623.1,271.9L619.2,271.9ZM641,270.2L644,270.4L646.9,270.6L649.9,270.8L652.9,271.1L652.3,273.2L649.4,272.9L646.5,272.7L643.6,272.5L640.7,272.3ZM658.7,271.7L662.7,272.2L666.7,272.7L670.6,273.3L674.5,274L673.6,276.1L669.7,275.4L665.9,274.8L662,274.3L658.1,273.8ZM680.3,275L683.5,275.7L686.6,276.4L689.7,277.1L692.7,277.8L691.3,280L688.3,279.2L685.3,278.5L682.3,277.8L679.2,277.2ZM698.4,279.3L702.2,280.4L706,281.6L709.6,282.8L713.3,284.1L711.3,286.2L707.8,284.9L704.2,283.7L700.5,282.6L696.8,281.5ZM718.8,286.2L723,287.9L727.1,289.7L731.1,291.6L735,293.5L732.3,295.4L728.5,293.5L724.7,291.7L720.7,289.9L716.6,288.2ZM740.1,296.4L743,298.1L745.8,299.8L748.5,301.6L751.1,303.5L747.8,305.1L745.3,303.3L742.7,301.6L740,299.9L737.2,298.2ZM755.8,307.1L758.9,309.7L761.8,312.4L764.5,315.1L767.1,317.9L763.1,319L760.7,316.3L758.1,313.7L755.3,311.1L752.3,308.6ZM770.7,322.5L772.6,325.2L774.2,327.9L775.7,330.6L777,333.4L772.6,333.8L771.4,331.2L770,328.6L768.4,326L766.6,323.5ZM779.1,338.9L780.1,343L780.8,347.1L781,351.2L780.9,355.3L776.3,354.8L776.4,350.9L776.2,347L775.6,343L774.6,339.2Z" fill="#f1f8de" stroke="#f1f8de" stroke-width="4.2" stroke-linejoin="round"/>
<path d="M767.5,367.1L766.1,370.2L764.5,373.2L762.5,376.1L760.4,379L756.3,377.3L758.4,374.6L760.2,371.7L761.9,368.9L763.2,366ZM756.5,383.5L754.1,386L751.4,388.4L748.6,390.8L745.7,393.1L742.1,390.8L745,388.6L747.7,386.3L750.2,384L752.6,381.6ZM740.8,396.5L737.9,398.4L734.7,400.3L731.5,402.1L728.2,403.9L725.2,401.1L728.5,399.4L731.6,397.7L734.6,395.9L737.5,394.1ZM722.9,406.4L719.6,407.9L716.2,409.3L712.7,410.7L709.1,412L706.8,409L710.2,407.7L713.6,406.4L716.9,405L720.1,403.6ZM703.6,413.9L699.7,415.1L695.8,416.3L691.8,417.4L687.8,418.4L686.1,415.1L690,414.2L693.9,413.1L697.7,412L701.4,410.8ZM682.1,419.7L678.5,420.4L674.9,421.1L671.3,421.8L667.7,422.3L666.5,419L670.1,418.4L673.6,417.8L677.1,417.1L680.5,416.4ZM661.8,423.2L659,423.5L656.1,423.9L653.3,424.2L650.4,424.4L649.7,421.1L652.5,420.8L655.3,420.5L658.1,420.2L660.9,419.8ZM644.5,424.9L641,425.1L637.4,425.3L633.8,425.4L630.2,425.5L630.1,422.1L633.6,422L637.1,421.9L640.5,421.7L644,421.5ZM624.3,425.6L620,425.5L615.7,425.4L611.4,425.3L607.1,425L607.6,421.6L611.7,421.9L615.9,422L620.1,422.1L624.3,422.2ZM601.2,424.6L597.6,424.3L594,423.9L590.5,423.5L586.9,423L587.9,419.7L591.4,420.1L594.9,420.5L598.3,420.9L601.8,421.2ZM581.1,422.2L578.1,421.6L575,421.1L572,420.5L569,419.9L570.5,416.6L573.4,417.2L576.4,417.8L579.3,418.3L582.3,418.8ZM563.3,418.6L559.2,417.6L555.2,416.6L551.3,415.4L547.4,414.3L549.6,411.1L553.3,412.3L557.1,413.4L561,414.4L565,415.4ZM541.9,412.4L539.1,411.4L536.4,410.4L533.7,409.3L531.1,408.2L533.8,405.3L536.3,406.4L538.9,407.4L541.5,408.4L544.2,409.3ZM525.7,405.8L521.9,403.9L518.2,402L514.7,400L511.2,397.9L514.6,395.4L517.9,397.4L521.3,399.3L524.9,401.2L528.6,403ZM506.3,394.6L503.3,392.3L500.3,390L497.6,387.6L495,385.1L498.9,383.1L501.4,385.5L504,387.8L506.9,390L509.8,392.2ZM491,380.8L489.1,378.3L487.3,375.8L485.6,373.3L484.2,370.7L488.4,369.5L489.8,371.9L491.4,374.3L493.1,376.7L495,379ZM481.7,365.3L480.5,361.6L479.7,357.9L479.2,354.2L479.1,350.4L483.5,350.1L483.6,353.7L484.1,357.2L484.9,360.8L486.1,364.3ZM479.7,344.5L480.5,341.3L481.5,338.1L482.7,334.9L484.3,331.8L488.3,332.3L486.9,335.3L485.7,338.4L484.7,341.4L484.1,344.5ZM487.4,326.7L489.4,323.9L491.6,321.2L494.1,318.5L496.7,315.9L500.3,317.2L497.7,319.7L495.4,322.2L493.2,324.9L491.3,327.5ZM501.2,312L504.5,309.5L508,307L511.7,304.5L515.6,302.2L518.4,303.9L514.6,306.2L511.1,308.5L507.7,310.9L504.5,313.4ZM520.8,299.4L523.9,297.8L527.1,296.3L530.3,294.9L533.7,293.5L535.8,295.4L532.6,296.7L529.4,298.2L526.4,299.6L523.4,301.2ZM539.2,291.3L542.3,290.2L545.5,289.2L548.7,288.1L551.9,287.2L553.5,289.1L550.3,290.1L547.2,291.1L544.2,292.2L541.1,293.3ZM557.6,285.6L560.8,284.8L564.1,284L567.4,283.2L570.8,282.5L571.9,284.5L568.6,285.2L565.4,286L562.2,286.8L559,287.6ZM576.5,281.5L580.1,280.8L583.8,280.3L587.5,279.8L591.1,279.3L591.8,281.3L588.2,281.7L584.6,282.3L581,282.8L577.5,283.4ZM597,278.7L600.5,278.3L604.1,278.1L607.7,277.8L611.2,277.6L611.5,279.6L608,279.8L604.5,280L601,280.3L597.5,280.6ZM617.1,277.4L620.1,277.4L623.2,277.3L626.2,277.3L629.2,277.3L629.2,279.3L626.2,279.2L623.2,279.2L620.2,279.3L617.2,279.3ZM635.1,277.5L639.3,277.7L643.6,277.9L647.8,278.2L652,278.6L651.5,280.5L647.4,280.1L643.2,279.8L639.1,279.6L634.9,279.4ZM657.8,279.2L661,279.6L664.2,280L667.4,280.5L670.5,281L669.6,282.9L666.6,282.4L663.5,282L660.3,281.5L657.2,281.1ZM676.3,282L679.8,282.7L683.3,283.4L686.8,284.2L690.2,285L688.8,287L685.5,286.2L682.1,285.4L678.7,284.7L675.3,284ZM695.8,286.5L700,287.7L704,289L708,290.3L711.9,291.7L709.9,293.7L706.1,292.3L702.3,291L698.3,289.7L694.3,288.5ZM717.4,293.9L720.4,295.2L723.4,296.6L726.4,298L729.2,299.4L726.7,301.2L723.9,299.8L721.1,298.4L718.2,297.1L715.2,295.8ZM734.4,302.2L737.5,304L740.4,305.9L743.2,307.8L745.8,309.7L742.6,311.2L740.1,309.3L737.4,307.5L734.6,305.7L731.7,303.9ZM750.5,313.4L753.7,316.3L756.6,319.3L759.3,322.3L761.7,325.4L757.8,326.3L755.5,323.3L752.9,320.4L750.1,317.5L747.1,314.7ZM765,330.4L766.3,332.8L767.5,335.3L768.4,337.8L769.3,340.3L765,340.5L764.2,338.1L763.3,335.7L762.2,333.4L760.9,331ZM770.5,346.1L770.8,350L770.8,353.8L770.3,357.7L769.5,361.5L765.1,360.7L766,357L766.4,353.4L766.5,349.7L766.2,346Z" fill="#f1f8de" stroke="#f1f8de" stroke-width="4.2" stroke-linejoin="round"/>
<path d="M760.3,357L759.3,360.6L758,364.3L756.2,367.8L754,371.4L750.6,370.1L752.7,366.8L754.4,363.3L755.7,359.9L756.6,356.4ZM750.4,376.1L748.1,378.7L745.4,381.2L742.6,383.7L739.6,386.2L736.6,384.3L739.5,382L742.2,379.6L744.8,377.1L747.1,374.6ZM734.8,389.6L732,391.4L729,393.2L726,394.9L722.8,396.5L720.3,394.3L723.4,392.7L726.3,391L729.2,389.3L731.9,387.6ZM717.5,399.1L714.9,400.2L712.2,401.3L709.5,402.4L706.7,403.4L704.7,400.9L707.4,399.9L710,398.9L712.6,397.8L715.1,396.7ZM701.2,405.3L697.7,406.4L694.1,407.5L690.5,408.5L686.8,409.5L685.3,406.8L688.9,405.9L692.4,404.9L695.9,403.9L699.3,402.8ZM681,410.8L677,411.6L672.9,412.4L668.7,413.1L664.5,413.8L663.6,411.1L667.7,410.4L671.8,409.7L675.8,409L679.7,408.1ZM658.7,414.6L654.9,415L651.1,415.4L647.3,415.7L643.5,416L643.1,413.3L646.8,413L650.5,412.7L654.3,412.3L657.9,411.9ZM637.6,416.4L634.5,416.5L631.4,416.6L628.3,416.6L625.2,416.6L625.2,413.9L628.2,413.9L631.3,413.8L634.3,413.7L637.3,413.6ZM619.3,416.6L615.6,416.5L611.8,416.3L608.1,416.1L604.4,415.9L604.8,413.1L608.5,413.4L612.1,413.6L615.8,413.7L619.5,413.8ZM598.5,415.4L595.4,415.1L592.3,414.7L589.3,414.3L586.2,413.9L587.1,411.2L590.1,411.6L593.1,412L596.1,412.3L599.1,412.6ZM580.4,413L576.2,412.3L572,411.4L567.9,410.6L563.9,409.6L565.3,407L569.3,407.9L573.3,408.8L577.4,409.6L581.5,410.3ZM558.2,408.1L554.2,407L550.3,405.8L546.5,404.6L542.8,403.2L544.8,400.8L548.4,402.1L552.1,403.3L555.9,404.5L559.8,405.6ZM537.3,401.1L534.3,399.8L531.3,398.5L528.4,397.1L525.6,395.7L528.1,393.5L530.8,394.8L533.6,396.2L536.5,397.5L539.5,398.7ZM520.4,392.8L517.4,391L514.5,389.1L511.8,387.2L509.2,385.2L512.2,383.4L514.7,385.3L517.4,387.1L520.2,388.9L523.1,390.7ZM504.7,381.4L501.8,378.6L499.2,375.7L496.9,372.8L494.9,369.8L498.4,368.6L500.4,371.5L502.6,374.3L505.1,377L507.9,379.7ZM492.2,364.6L490.9,361.4L490,358.3L489.4,355.1L489.1,351.9L492.7,351.5L493,354.6L493.6,357.6L494.5,360.6L495.7,363.6ZM489.4,346L490.2,342.2L491.4,338.4L493,334.7L495.1,331L498.4,331.6L496.4,335.1L494.9,338.7L493.7,342.3L493,345.9ZM498.6,326.2L501.1,323.3L504,320.4L507.1,317.6L510.4,314.9L513.1,316.1L509.9,318.7L506.9,321.4L504.2,324.2L501.8,327ZM515.3,311.5L517.5,310.1L519.9,308.6L522.4,307.2L524.9,305.8L527,307.2L524.6,308.6L522.2,309.9L520,311.3L517.8,312.8ZM530.2,303.2L533.9,301.5L537.8,299.9L541.8,298.3L545.9,296.9L547.4,298.4L543.4,299.8L539.5,301.4L535.8,303L532.1,304.7ZM551.5,295L555,294L558.7,293L562.4,292L566.1,291.1L567.1,292.6L563.4,293.5L559.8,294.5L556.3,295.5L552.8,296.6ZM571.8,289.9L575.2,289.2L578.6,288.6L582.1,288L585.6,287.5L586.2,288.9L582.8,289.5L579.4,290.1L576,290.7L572.7,291.4ZM591.4,286.7L594.6,286.3L597.8,286L601.1,285.7L604.4,285.4L604.6,286.8L601.4,287.1L598.2,287.4L595,287.8L591.9,288.1ZM610.2,285.1L613.6,284.9L616.9,284.8L620.3,284.7L623.7,284.7L623.7,286.1L620.4,286.1L617,286.2L613.7,286.3L610.4,286.5ZM629.5,284.7L633.2,284.8L636.9,284.9L640.6,285.1L644.3,285.3L644,286.7L640.4,286.5L636.8,286.3L633.1,286.2L629.5,286.1ZM650.1,285.8L654.4,286.2L658.6,286.7L662.8,287.2L666.9,287.9L666.3,289.3L662.2,288.7L658.1,288.1L653.9,287.6L649.7,287.2ZM672.7,288.8L675.9,289.4L679,290L682.2,290.7L685.3,291.4L684.3,292.9L681.2,292.2L678.2,291.5L675.1,290.9L671.9,290.3ZM691,292.9L694.3,293.8L697.6,294.8L700.9,295.8L704.1,296.8L702.6,298.4L699.5,297.3L696.3,296.3L693.1,295.3L689.8,294.4ZM709.6,298.9L713.6,300.5L717.5,302.1L721.2,303.9L724.8,305.7L722.7,307.1L719.2,305.3L715.6,303.6L711.8,301.9L707.9,300.4ZM730,308.6L732.7,310.2L735.3,311.9L737.8,313.7L740.2,315.5L737.5,316.6L735.2,314.9L732.8,313.2L730.3,311.5L727.7,309.9ZM744.8,319.2L748,322.4L750.9,325.6L753.4,328.9L755.6,332.2L752.3,332.7L750.2,329.5L747.8,326.4L745,323.3L741.9,320.3ZM758.3,337.5L759.5,340.9L760.3,344.3L760.8,347.7L760.9,351.1L757.3,350.8L757.2,347.5L756.7,344.3L755.9,341L754.8,337.8Z" fill="#f1f8de" stroke="#f1f8de" stroke-width="4.2" stroke-linejoin="round"/>
<path d="M747.9,364.2L746.2,367L744.2,369.8L741.9,372.5L739.3,375.2L736.2,373.7L738.7,371.1L741,368.5L742.9,365.9L744.5,363.2ZM734.8,379.1L731.5,381.6L727.8,384.1L723.9,386.5L719.7,388.8L717.3,386.8L721.3,384.5L725.1,382.3L728.7,379.9L731.9,377.4ZM714.4,391.4L711.3,392.7L708.1,394.1L704.8,395.3L701.5,396.6L699.6,394.3L702.9,393.1L706.1,391.9L709.2,390.6L712.2,389.2ZM695.9,398.4L691.6,399.7L687.3,400.8L682.8,401.9L678.3,403L677.1,400.5L681.5,399.5L685.8,398.4L690,397.3L694.2,396.1ZM672.5,404.1L669.5,404.7L666.4,405.2L663.3,405.6L660.1,406.1L659.3,403.6L662.4,403.1L665.4,402.7L668.5,402.2L671.4,401.6ZM654.3,406.8L649.9,407.2L645.5,407.6L641,407.9L636.5,408.1L636.3,405.6L640.6,405.4L645,405.1L649.3,404.7L653.7,404.3ZM630.6,408.3L627.4,408.3L624.1,408.4L620.8,408.3L617.5,408.3L617.7,405.7L620.9,405.8L624.1,405.8L627.3,405.8L630.5,405.8ZM611.6,408L606.9,407.8L602.2,407.4L597.5,407L592.9,406.5L593.6,404L598.2,404.5L602.7,404.9L607.3,405.2L611.9,405.5ZM587.1,405.7L583.3,405.1L579.5,404.5L575.8,403.8L572.1,403L573.4,400.6L576.9,401.3L580.6,402L584.2,402.6L588,403.2ZM566.4,401.8L563.3,401L560.3,400.2L557.3,399.3L554.4,398.5L556.1,396.1L558.9,397L561.8,397.8L564.8,398.6L567.8,399.3ZM548.8,396.6L544.4,395.1L540.2,393.4L536.2,391.6L532.3,389.8L534.7,387.7L538.4,389.5L542.3,391.2L546.4,392.8L550.6,394.3ZM527.1,387.1L524,385.2L521,383.3L518.2,381.4L515.5,379.4L518.4,377.7L521,379.6L523.7,381.5L526.6,383.3L529.6,385.1ZM511.1,375.5L507.9,372.2L505.2,368.9L502.9,365.5L501.1,362L504.4,361.2L506.2,364.5L508.4,367.7L511.1,370.9L514.1,374ZM499.1,356.4L498.4,352.2L498.3,348L499,343.8L500.2,339.6L503.5,339.8L502.3,343.8L501.7,347.8L501.8,351.8L502.5,355.8ZM502.8,334.3L504.5,331.7L506.4,329.2L508.5,326.7L510.9,324.3L513.7,325.2L511.4,327.5L509.4,329.8L507.5,332.3L506,334.7ZM515.4,320.4L518.4,318.1L521.6,315.9L525.1,313.8L528.7,311.8L530.8,313L527.3,315L524,317.1L520.9,319.2L518,321.4ZM534,309.1L537.3,307.6L540.7,306.1L544.2,304.8L547.9,303.4L549.3,304.8L545.8,306.1L542.4,307.5L539.1,308.9L535.9,310.4ZM553.5,301.6L557.1,300.5L560.8,299.5L564.6,298.5L568.4,297.6L569.4,298.9L565.6,299.8L561.9,300.8L558.3,301.9L554.8,303ZM574.2,296.3L578.4,295.6L582.6,294.8L586.9,294.2L591.2,293.6L591.7,294.9L587.4,295.5L583.2,296.1L579.1,296.9L575,297.7ZM597,292.9L600.5,292.6L604.1,292.3L607.6,292.1L611.1,291.9L611.3,293.1L607.8,293.3L604.3,293.5L600.9,293.8L597.4,294.2ZM617,291.6L620.8,291.6L624.6,291.5L628.5,291.6L632.3,291.6L632.2,292.8L628.4,292.8L624.6,292.7L620.9,292.8L617.1,292.8ZM638.1,291.8L642.6,292.1L647.1,292.4L651.5,292.8L655.9,293.3L655.4,294.5L651.1,294L646.8,293.6L642.4,293.3L638,293.1ZM661.7,294L665.2,294.5L668.6,295L672,295.6L675.4,296.3L674.6,297.6L671.3,296.9L667.9,296.3L664.6,295.8L661.1,295.3ZM681.1,297.5L685,298.4L688.9,299.4L692.6,300.4L696.3,301.5L695,302.9L691.4,301.8L687.8,300.7L684,299.7L680.2,298.8ZM701.9,303.3L705.7,304.7L709.4,306.2L712.9,307.7L716.3,309.3L714.4,310.5L711.1,309L707.7,307.5L704.1,306.1L700.4,304.7ZM721.6,311.9L725.7,314.2L729.5,316.7L733,319.2L736.3,321.8L733.6,322.7L730.5,320.2L727.1,317.8L723.4,315.4L719.5,313.2ZM740.6,325.8L743,328.4L745.1,331.1L746.9,333.8L748.5,336.6L745.3,336.9L743.8,334.3L742.1,331.7L740,329.1L737.8,326.6ZM750.6,342.1L751.5,346.3L751.7,350.4L751.3,354.6L750.2,358.7L746.8,358L747.9,354.1L748.3,350.1L748.1,346.2L747.3,342.2Z" fill="#f1f8de" stroke="#f1f8de" stroke-width="4.2" stroke-linejoin="round"/>
<path d="M779.2,361.8L778.5,364.7L777.5,367.6L776.3,370.5L775,373.4L771.9,372.5L773.3,369.7L774.4,366.9L775.3,364.1L776.1,361.2ZM771.2,379.8L769.4,382.3L767.4,384.8L765.3,387.3L763.1,389.7L760.3,388.3L762.5,385.9L764.6,383.5L766.5,381.1L768.2,378.7ZM757.7,394.7L755,397L752.1,399.2L749.2,401.4L746.1,403.5L743.8,401.7L746.8,399.7L749.7,397.5L752.4,395.4L755.1,393.2ZM739.8,407.3L736.8,409L733.7,410.7L730.5,412.3L727.2,413.8L725.4,411.9L728.6,410.3L731.7,408.8L734.7,407.2L737.6,405.5ZM720.5,416.8L717.9,417.8L715.3,418.8L712.7,419.7L710,420.7L708.6,418.6L711.2,417.7L713.7,416.7L716.3,415.8L718.8,414.8ZM703,422.9L699.4,424L695.6,425.1L691.8,426.1L688,427L687,424.9L690.7,423.9L694.4,423L698.1,421.9L701.7,420.9ZM680.8,428.5L678.3,429L675.7,429.5L673.1,430L670.5,430.4L669.8,428.3L672.3,427.9L674.9,427.4L677.4,426.9L679.9,426.4ZM663.2,431.5L659.2,432L655.2,432.4L651.2,432.8L647.1,433.2L646.8,431L650.7,430.7L654.7,430.3L658.7,429.9L662.6,429.4ZM639.7,433.6L636.3,433.8L632.9,433.9L629.5,433.9L626,434L626,431.9L629.4,431.8L632.8,431.8L636.2,431.6L639.5,431.5ZM618.7,433.9L615.4,433.8L612.1,433.7L608.8,433.5L605.5,433.3L605.8,431.2L609,431.4L612.3,431.6L615.5,431.7L618.8,431.8ZM598.2,432.8L595.1,432.5L592,432.1L588.9,431.8L585.9,431.4L586.5,429.2L589.5,429.6L592.5,430L595.5,430.3L598.6,430.6ZM578.6,430.3L575.7,429.8L572.9,429.3L570.1,428.7L567.3,428.1L568.2,426L571,426.6L573.7,427.1L576.5,427.7L579.3,428.1ZM560.1,426.5L556.6,425.7L553.2,424.7L549.8,423.8L546.5,422.8L547.8,420.7L551.1,421.7L554.4,422.7L557.8,423.6L561.2,424.4ZM539.5,420.5L536.4,419.4L533.3,418.3L530.4,417.1L527.4,415.9L529.2,413.9L532,415.1L535,416.2L537.9,417.4L540.9,418.5ZM520.7,412.8L517.2,411.1L513.9,409.4L510.6,407.6L507.4,405.7L509.7,403.9L512.7,405.7L515.9,407.5L519.2,409.2L522.6,410.9ZM501.2,401.7L499,400L496.8,398.4L494.7,396.7L492.6,395L495.2,393.5L497.2,395.1L499.3,396.8L501.4,398.4L503.6,399.9ZM487.2,390L484.3,386.8L481.6,383.7L479.2,380.4L477.1,377.1L480.1,376.1L482.2,379.3L484.5,382.4L487.1,385.5L489.9,388.5ZM473.7,370.6L472.6,367.9L471.7,365.2L470.9,362.5L470.4,359.7L473.5,359.2L474.1,361.9L474.8,364.5L475.7,367.1L476.8,369.8ZM469.7,352.3L469.8,348.7L470.3,345L471,341.3L472.1,337.7L475.1,337.9L474.1,341.4L473.3,345L472.9,348.5L472.8,352.1ZM475,330.9L476.5,328L478.3,325.2L480.3,322.4L482.4,319.6L484.9,320.3L482.9,323L481,325.7L479.3,328.5L477.8,331.2ZM487.4,314.1L489.6,311.9L492,309.7L494.6,307.6L497.2,305.5L499.2,306.5L496.7,308.5L494.2,310.6L491.9,312.7L489.7,314.9ZM503.2,301.2L505.3,299.9L507.4,298.6L509.6,297.3L511.8,296L513.4,297.1L511.3,298.3L509.1,299.6L507.1,300.9L505.1,302.2ZM518.4,292.6L521.2,291.2L524.1,289.9L527.1,288.6L530.2,287.3L531.3,288.3L528.3,289.6L525.4,290.9L522.6,292.3L519.8,293.6ZM537,284.7L540.4,283.5L543.8,282.4L547.2,281.3L550.7,280.3L551.4,281.3L548,282.3L544.6,283.4L541.3,284.5L538,285.7ZM557.8,278.4L560.8,277.7L563.9,277L566.9,276.3L570,275.7L570.5,276.5L567.4,277.2L564.4,277.9L561.3,278.6L558.4,279.3ZM577.3,274.4L580.6,273.9L584,273.4L587.4,272.9L590.8,272.5L591,273.2L587.6,273.6L584.3,274.1L580.9,274.6L577.6,275.2ZM598.1,271.7L601.7,271.4L605.3,271.1L608.9,270.9L612.6,270.8L612.6,271.4L609,271.6L605.4,271.8L601.8,272.1L598.3,272.4ZM619.9,270.5L623.5,270.5L627.1,270.5L630.7,270.6L634.3,270.6L634.3,271.3L630.7,271.2L627.1,271.1L623.5,271.1L619.9,271.1ZM641.6,271L644.2,271.1L646.8,271.3L649.4,271.5L651.9,271.7L651.8,272.4L649.2,272.1L646.7,271.9L644.1,271.7L641.5,271.6ZM659.2,272.5L662.8,272.9L666.4,273.4L670,273.9L673.5,274.5L673.1,275.3L669.7,274.7L666.1,274.1L662.6,273.6L659,273.2ZM680.7,275.9L683.5,276.4L686.2,277L688.9,277.6L691.6,278.3L691,279.2L688.3,278.5L685.7,277.9L683,277.3L680.3,276.7ZM698.7,280.1L702.1,281.1L705.5,282.2L708.8,283.2L712,284.4L711.1,285.4L707.9,284.2L704.6,283.1L701.3,282.1L698,281.1ZM718.9,287L722.8,288.5L726.5,290.2L730.1,291.9L733.7,293.6L732.2,294.7L728.8,292.9L725.2,291.2L721.6,289.6L717.8,288ZM740.2,297.1L742.7,298.7L745.1,300.2L747.5,301.8L749.8,303.4L747.9,304.3L745.7,302.8L743.4,301.2L741,299.7L738.5,298.2ZM755.7,307.8L758.5,310.2L761.1,312.6L763.5,315L765.8,317.5L763.4,318.3L761.2,315.8L758.8,313.4L756.3,311.1L753.6,308.8ZM770.4,323.3L772,325.7L773.5,328L774.8,330.4L775.9,332.7L773.1,333.1L771.9,330.8L770.7,328.5L769.3,326.2L767.8,323.9ZM778.5,339.7L779.4,343.4L780,347.1L780.3,350.8L780.2,354.5L777.1,354.1L777.2,350.5L776.9,347L776.4,343.4L775.5,339.8Z" fill="#c7e5a2" stroke="#c7e5a2" stroke-width="4.2" stroke-linejoin="round"/>
<path d="M766.5,367.6L765.2,370.3L763.7,372.9L762,375.6L760.2,378.1L757.5,377L759.3,374.5L760.9,372L762.4,369.5L763.7,366.9ZM755.3,383.7L753.1,385.9L750.8,388.1L748.3,390.2L745.6,392.2L743.3,390.8L745.9,388.7L748.3,386.7L750.6,384.6L752.7,382.5ZM739.6,396.5L736.9,398.2L734.1,399.8L731.3,401.5L728.3,403L726.4,401.3L729.3,399.8L732.1,398.2L734.8,396.6L737.4,394.9ZM721.7,406.2L718.7,407.5L715.7,408.8L712.6,410L709.4,411.2L708,409.3L711,408.2L714.1,407L717,405.7L719.9,404.4ZM702.4,413.5L698.9,414.6L695.4,415.6L691.8,416.6L688.2,417.5L687.2,415.6L690.7,414.7L694.3,413.8L697.7,412.7L701.1,411.7ZM681,419.2L677.8,419.8L674.6,420.4L671.4,421L668.2,421.5L667.5,419.6L670.7,419.1L673.9,418.5L677,417.9L680.1,417.3ZM660.9,422.6L658.4,422.9L656,423.1L653.5,423.4L651,423.6L650.6,421.7L653.1,421.5L655.5,421.2L657.9,421L660.3,420.6ZM643.7,424.2L640.5,424.4L637.3,424.6L634.1,424.7L630.9,424.8L630.8,422.9L634,422.8L637.1,422.7L640.3,422.5L643.4,422.3ZM623.6,424.8L619.7,424.8L615.7,424.7L611.8,424.5L607.9,424.3L608.2,422.4L612,422.6L615.9,422.8L619.7,422.9L623.6,422.9ZM600.6,423.8L597.4,423.5L594.2,423.2L591.1,422.8L587.9,422.4L588.5,420.5L591.6,420.9L594.7,421.3L597.8,421.6L601,421.9ZM580.6,421.3L578,420.9L575.3,420.4L572.7,419.9L570.1,419.4L571,417.5L573.5,418L576.1,418.5L578.7,419L581.3,419.4ZM562.9,417.8L559.2,416.9L555.6,415.9L552.1,414.9L548.6,413.9L549.9,412L553.3,413L556.8,414L560.3,415L563.9,415.9ZM541.6,411.5L539.2,410.7L536.9,409.8L534.6,408.9L532.3,408L534,406.2L536.2,407.1L538.4,408L540.7,408.8L543,409.7ZM525.6,404.9L522.1,403.2L518.8,401.5L515.6,399.7L512.5,397.8L514.6,396.2L517.6,398L520.8,399.8L524,401.5L527.4,403.2ZM506.3,393.7L503.6,391.7L501,389.6L498.6,387.5L496.3,385.3L498.8,384L501,386.1L503.4,388.2L505.9,390.2L508.6,392.2ZM491.2,379.9L489.5,377.7L488,375.6L486.6,373.4L485.3,371.2L488.1,370.3L489.3,372.5L490.7,374.6L492.2,376.7L493.9,378.7ZM482.2,364.5L481.2,361.1L480.4,357.8L480,354.5L479.9,351.1L482.8,350.9L482.9,354.1L483.3,357.4L484.1,360.6L485.1,363.8ZM480.6,343.7L481.3,340.9L482.2,338.1L483.3,335.3L484.7,332.5L487.3,332.9L486,335.6L484.9,338.3L484.1,341L483.4,343.8ZM488.5,326.2L490.4,323.8L492.4,321.4L494.6,319L496.9,316.7L499,317.4L496.8,319.7L494.7,322L492.7,324.4L491,326.7ZM502.5,311.8L505.5,309.5L508.7,307.3L512.1,305.1L515.6,303L517.1,303.9L513.7,306L510.4,308.2L507.3,310.4L504.4,312.7ZM522.1,299.5L524.9,298.1L527.7,296.8L530.6,295.5L533.6,294.3L534.6,295.2L531.7,296.4L528.9,297.7L526.1,299L523.4,300.4ZM540.4,291.6L543.2,290.7L546,289.7L548.8,288.8L551.7,288L552.3,288.8L549.5,289.7L546.7,290.6L544,291.5L541.3,292.5ZM558.8,286L561.6,285.3L564.5,284.6L567.4,284L570.4,283.4L570.8,284L567.9,284.7L565,285.3L562.1,286L559.3,286.8ZM577.6,282L580.8,281.5L584.1,281L587.3,280.5L590.6,280.1L590.8,280.6L587.5,281.1L584.3,281.6L581.1,282.1L577.9,282.6ZM597.9,279.3L601.1,279L604.2,278.8L607.4,278.6L610.6,278.4L610.7,278.9L607.5,279L604.3,279.3L601.2,279.5L598,279.8ZM617.9,278.1L620.5,278.1L623.2,278.1L625.8,278.1L628.5,278.1L628.4,278.5L625.8,278.5L623.2,278.5L620.6,278.5L617.9,278.6ZM635.8,278.3L639.6,278.4L643.4,278.6L647.3,278.9L651.1,279.2L650.9,279.7L647.2,279.4L643.4,279.1L639.6,278.9L635.7,278.7ZM658.4,280L661.2,280.3L663.9,280.7L666.7,281.1L669.5,281.5L669.2,282.1L666.5,281.7L663.7,281.3L661,280.9L658.2,280.5ZM676.7,282.8L679.8,283.4L682.9,284L686,284.7L689,285.5L688.5,286.2L685.5,285.5L682.5,284.7L679.4,284.1L676.3,283.4ZM696.1,287.3L699.8,288.4L703.5,289.6L707.1,290.7L710.6,292L709.7,292.9L706.3,291.6L702.8,290.4L699.2,289.2L695.5,288.1ZM717.5,294.7L720.2,295.8L722.8,297L725.4,298.2L727.9,299.5L726.6,300.4L724.2,299.2L721.6,297.9L719.1,296.7L716.4,295.6ZM734.4,303L737.1,304.6L739.7,306.2L742.2,307.9L744.5,309.6L742.7,310.4L740.4,308.7L738,307.1L735.5,305.5L732.9,303.9ZM750.3,314.2L753.2,316.8L755.9,319.5L758.3,322.2L760.5,324.9L758.1,325.5L756,322.8L753.6,320.1L751.1,317.5L748.3,315ZM764.6,331.1L765.7,333.2L766.7,335.4L767.6,337.5L768.3,339.6L765.6,339.8L764.8,337.7L764,335.6L763.1,333.6L762,331.5ZM769.9,346.9L770.1,350.3L770,353.8L769.7,357.2L769,360.6L766.1,360.1L766.8,356.8L767.2,353.5L767.2,350.1L767,346.8Z" fill="#c7e5a2" stroke="#c7e5a2" stroke-width="4.2" stroke-linejoin="round"/>
<path d="M759.4,357.6L758.5,360.9L757.2,364.1L755.7,367.3L753.7,370.5L751.7,369.8L753.5,366.7L755.1,363.6L756.3,360.4L757.2,357.2ZM749.2,376.3L747.1,378.7L744.7,380.9L742.2,383.1L739.5,385.3L737.8,384.3L740.4,382.1L742.9,380L745.2,377.7L747.3,375.5ZM733.5,389.6L731,391.2L728.4,392.7L725.7,394.2L722.9,395.7L721.5,394.4L724.2,393L726.9,391.5L729.4,390L731.9,388.4ZM716.2,398.8L714,399.8L711.7,400.8L709.3,401.7L707,402.6L705.9,401.3L708.2,400.4L710.5,399.5L712.8,398.5L715,397.6ZM700,405L696.9,405.9L693.7,406.9L690.4,407.8L687.1,408.6L686.4,407.3L689.6,406.5L692.8,405.6L696,404.6L699.1,403.7ZM680,410.3L676.3,411L672.6,411.7L668.8,412.4L665,413L664.6,411.7L668.3,411.1L672,410.4L675.7,409.7L679.3,409ZM657.8,414L654.4,414.3L651,414.7L647.6,415L644.1,415.2L643.9,414L647.3,413.7L650.7,413.4L654.1,413.1L657.4,412.7ZM636.8,415.6L634.1,415.7L631.4,415.8L628.7,415.9L625.9,415.9L625.9,414.6L628.6,414.6L631.3,414.6L634,414.5L636.7,414.4ZM618.6,415.8L615.3,415.7L611.9,415.6L608.6,415.4L605.2,415.2L605.5,413.9L608.7,414.2L612,414.3L615.4,414.5L618.7,414.6ZM597.9,414.6L595.2,414.3L592.6,414L589.9,413.7L587.2,413.3L587.6,412L590.3,412.4L592.9,412.7L595.6,413L598.2,413.3ZM580,412.2L576.1,411.5L572.4,410.8L568.6,410L565,409.1L565.7,407.8L569.3,408.7L573,409.5L576.7,410.2L580.5,410.9ZM557.8,407.3L554.3,406.3L550.8,405.2L547.3,404.1L544,402.9L545.1,401.6L548.4,402.8L551.7,403.9L555.2,405L558.7,406ZM537.1,400.3L534.4,399.1L531.8,398L529.3,396.8L526.8,395.5L528.2,394.3L530.6,395.5L533.1,396.7L535.7,397.9L538.3,399ZM520.3,392L517.7,390.4L515.2,388.7L512.7,387L510.4,385.3L512.2,384.2L514.4,385.9L516.8,387.6L519.3,389.2L521.9,390.8ZM504.8,380.5L502.3,378L500,375.4L497.9,372.8L496.1,370.2L498.1,369.5L499.9,372.1L502,374.6L504.2,377.1L506.7,379.5ZM492.6,363.7L491.5,360.9L490.7,358.2L490.2,355.4L489.9,352.6L492,352.4L492.4,355.1L492.9,357.8L493.7,360.5L494.7,363.2ZM490.3,345.2L491,341.8L492.1,338.4L493.6,335.1L495.5,331.8L497.3,332.1L495.5,335.3L494.1,338.6L493.1,341.9L492.4,345.2ZM499.8,325.8L502.1,323.2L504.7,320.6L507.5,318.1L510.5,315.7L511.9,316.2L508.9,318.7L506.2,321.1L503.7,323.6L501.5,326.2ZM516.6,311.4L518.5,310.2L520.6,309L522.7,307.8L524.8,306.6L525.8,307.2L523.7,308.4L521.6,309.6L519.6,310.8L517.7,312ZM531.4,303.3L534.9,301.8L538.4,300.4L542,299L545.7,297.6L546.2,298.1L542.5,299.5L539,300.9L535.5,302.4L532.2,303.9ZM552.7,295.4L555.9,294.4L559.2,293.5L562.4,292.7L565.8,291.9L566,292.2L562.7,293L559.4,293.9L556.2,294.8L553,295.8ZM573,290.4L576,289.8L579,289.3L582,288.7L585.1,288.3L585.2,288.4L582.1,288.8L579.1,289.4L576,289.9L573.1,290.6ZM592.4,287.3L595.2,287L598,286.7L600.9,286.5L603.8,286.2L603.7,286.2L600.9,286.4L598,286.7L595.2,287L592.4,287.3ZM611,285.8L614,285.7L617,285.6L620,285.5L623,285.4L623,285.3L620,285.4L617,285.4L614,285.5L611,285.7ZM630.2,285.5L633.5,285.6L636.8,285.7L640.1,285.8L643.4,286L643.4,286L640.1,285.7L636.8,285.6L633.6,285.5L630.3,285.4ZM650.7,286.6L654.5,287L658.3,287.4L662.1,287.9L665.9,288.4L665.8,288.5L662.1,287.9L658.3,287.4L654.5,287L650.7,286.6ZM673.1,289.6L675.9,290.1L678.7,290.7L681.4,291.3L684.1,291.9L684,292.1L681.3,291.5L678.5,290.9L675.8,290.3L673,289.8ZM691.2,293.7L694.2,294.5L697.1,295.3L700,296.2L702.8,297.1L702.4,297.6L699.6,296.6L696.8,295.7L693.9,294.8L691,294ZM709.7,299.6L713.4,301.1L716.9,302.6L720.3,304.1L723.5,305.8L722.7,306.3L719.5,304.7L716.1,303.1L712.7,301.6L709.2,300.1ZM730,309.3L732.4,310.8L734.6,312.2L736.8,313.7L738.9,315.3L737.6,315.8L735.6,314.3L733.5,312.8L731.3,311.3L729,309.9ZM744.6,320L747.5,322.8L750.1,325.7L752.5,328.7L754.5,331.7L752.6,332L750.7,329L748.4,326.1L745.9,323.3L743.1,320.5ZM757.8,338.3L758.8,341.3L759.6,344.2L760,347.3L760.2,350.3L758,350.1L757.9,347.2L757.5,344.2L756.8,341.3L755.8,338.4Z" fill="#c7e5a2" stroke="#c7e5a2" stroke-width="4.2" stroke-linejoin="round"/>
<path d="M746.8,364.6L745.2,367.1L743.4,369.5L741.4,372L739.2,374.3L737.4,373.5L739.6,371.2L741.6,368.9L743.4,366.5L744.9,364.1ZM733.6,379.2L730.5,381.5L727.2,383.7L723.6,385.9L719.8,387.9L718.5,386.9L722.2,384.8L725.7,382.7L729,380.5L732,378.3ZM713.2,391.2L710.4,392.4L707.6,393.5L704.7,394.6L701.7,395.7L700.8,394.6L703.7,393.5L706.5,392.4L709.3,391.3L712,390.1ZM694.7,398L690.8,399.1L686.9,400.2L682.8,401.2L678.7,402.1L678.1,401L682.2,400.1L686.2,399.1L690.1,398L693.9,396.9ZM671.5,403.6L668.8,404L666.1,404.5L663.4,404.9L660.7,405.3L660.3,404.2L663,403.8L665.7,403.4L668.4,402.9L671,402.5ZM653.4,406.1L649.4,406.5L645.3,406.9L641.3,407.1L637.2,407.3L637.1,406.3L641.1,406.1L645.1,405.8L649.1,405.5L653.1,405.1ZM629.9,407.6L627,407.6L624.1,407.6L621.2,407.6L618.3,407.5L618.4,406.5L621.2,406.5L624.1,406.6L627,406.6L629.8,406.5ZM611,407.2L606.7,407L602.4,406.7L598.1,406.3L593.9,405.8L594.2,404.8L598.4,405.2L602.6,405.6L606.8,406L611.1,406.2ZM586.6,404.9L583.2,404.4L579.8,403.8L576.5,403.2L573.2,402.5L573.8,401.4L577,402.1L580.3,402.7L583.6,403.3L587,403.8ZM566,400.9L563.4,400.3L560.7,399.6L558.1,398.8L555.5,398.1L556.3,397L558.9,397.7L561.4,398.4L564,399.1L566.7,399.8ZM548.5,395.8L544.6,394.4L540.8,392.9L537.1,391.3L533.6,389.6L534.8,388.6L538.2,390.2L541.9,391.8L545.6,393.3L549.5,394.7ZM527,386.2L524.3,384.6L521.6,382.9L519.1,381.2L516.8,379.5L518.4,378.5L520.7,380.3L523.1,381.9L525.7,383.6L528.4,385.2ZM511.2,374.7L508.4,371.7L505.9,368.7L503.8,365.6L502.1,362.5L504,362L505.7,365L507.7,368L510.2,371L512.9,373.8ZM499.7,355.6L499.1,351.7L499.1,347.9L499.6,344.1L500.7,340.3L502.5,340.4L501.5,344.1L501,347.8L501,351.5L501.6,355.2ZM504,333.7L505.5,331.5L507.2,329.3L509,327.2L511.1,325L512.5,325.4L510.5,327.5L508.7,329.6L507,331.8L505.6,334ZM516.7,320.2L519.4,318.2L522.3,316.2L525.4,314.3L528.7,312.5L529.5,313L526.3,314.8L523.3,316.7L520.5,318.7L517.9,320.7ZM535.3,309.2L538.2,307.9L541.3,306.6L544.5,305.4L547.7,304.2L548.1,304.5L544.9,305.7L541.8,307L538.8,308.3L535.9,309.7ZM554.7,301.9L558,300.9L561.3,300L564.7,299.2L568.1,298.3L568.2,298.5L564.8,299.3L561.5,300.2L558.2,301.2L554.9,302.2ZM575.3,296.8L579.1,296.1L582.9,295.5L586.8,294.9L590.7,294.4L590.7,294.3L586.8,294.8L582.9,295.5L579.1,296.1L575.3,296.9ZM598,293.6L601.1,293.3L604.2,293L607.4,292.8L610.5,292.7L610.5,292.4L607.3,292.6L604.2,292.8L601.1,293.1L597.9,293.4ZM617.8,292.4L621.2,292.3L624.6,292.3L628.1,292.3L631.5,292.4L631.5,292.1L628.1,292L624.6,292L621.2,292L617.8,292.1ZM638.8,292.6L642.8,292.8L646.9,293.1L650.9,293.5L654.9,293.9L654.9,293.7L651,293.3L646.9,292.9L642.9,292.6L638.8,292.3ZM662.1,294.8L665.2,295.2L668.2,295.7L671.3,296.2L674.2,296.8L674.2,296.8L671.3,296.2L668.3,295.7L665.2,295.2L662.2,294.7ZM681.4,298.2L684.9,299.1L688.4,299.9L691.8,300.9L695.1,301.8L694.8,302.1L691.6,301.1L688.2,300.1L684.8,299.2L681.3,298.4ZM702.1,304.1L705.5,305.3L708.7,306.6L711.9,308L715,309.4L714.4,309.8L711.4,308.4L708.2,307L705,305.7L701.7,304.5ZM721.6,312.7L725.3,314.8L728.8,317L732,319.2L735,321.5L733.8,322L730.9,319.7L727.7,317.4L724.4,315.3L720.8,313.1ZM740.4,326.6L742.5,328.9L744.3,331.2L746,333.6L747.4,336L745.7,336.2L744.3,333.8L742.8,331.5L741,329.2L739,326.9ZM750.1,342.9L750.8,346.6L751,350.4L750.6,354.1L749.7,357.9L747.8,357.5L748.7,353.9L749,350.2L748.9,346.5L748.2,342.9Z" fill="#c7e5a2" stroke="#c7e5a2" stroke-width="4.2" stroke-linejoin="round"/>
<ellipse cx="625.0" cy="349.2" rx="119.8" ry="53.2" fill="#c23a2c"/>
<path d="M743.3,350.2L743,353.4L742.1,356.6L737,355.9L737.8,353L738.1,350.2ZM741.4,358.6L740,361.4L738.3,364.2L733.3,362.8L735,360.3L736.3,357.7ZM737.1,365.9L735.1,368.3L732.8,370.6L728.1,368.6L730.2,366.5L732.2,364.3ZM731.3,372L728.9,374.1L726.3,376L721.9,373.6L724.3,371.8L726.6,369.9ZM724.6,377.2L722,378.9L719.2,380.6L715.1,377.7L717.7,376.2L720.3,374.6ZM717.4,381.6L714.6,383.1L711.7,384.5L708,381.2L710.7,380L713.4,378.6ZM709.9,385.3L707,386.6L704,387.8L700.6,384.3L703.4,383.2L706.2,382ZM702.1,388.5L699.2,389.6L696.1,390.6L693.1,386.9L695.9,385.9L698.8,384.9ZM694.2,391.3L691.2,392.2L688.1,393.1L685.4,389.1L688.3,388.3L691.2,387.4ZM686.1,393.6L683.1,394.4L680,395.1L677.6,390.9L680.6,390.3L683.5,389.6ZM678,395.6L674.9,396.2L671.8,396.8L669.8,392.5L672.8,391.9L675.7,391.3ZM669.8,397.2L666.7,397.7L663.5,398.2L661.9,393.8L664.9,393.3L667.8,392.8ZM661.5,398.5L658.4,398.9L655.2,399.3L653.9,394.8L656.9,394.4L659.9,394ZM653.2,399.6L650.1,399.9L646.9,400.2L646,395.5L649,395.3L652,395ZM644.9,400.3L641.7,400.5L638.6,400.7L638,396L641,395.9L644,395.7ZM636.5,400.8L633.4,400.9L630.2,401L630,396.3L633,396.2L636,396.1ZM628.2,401L625,401.1L621.8,401L622,396.3L625,396.3L628,396.3ZM619.8,401L616.6,400.9L613.5,400.8L614,396.1L617,396.2L620,396.3ZM611.4,400.7L608.3,400.5L605.1,400.3L606,395.7L609,395.9L612,396ZM603.1,400.2L599.9,399.9L596.8,399.6L598,395L601,395.3L604,395.5ZM594.8,399.3L591.6,398.9L588.5,398.5L590.1,394L593.1,394.4L596.1,394.8ZM586.5,398.2L583.3,397.7L580.2,397.2L582.2,392.8L585.1,393.3L588.1,393.8ZM578.2,396.8L575.1,396.2L572,395.6L574.3,391.3L577.2,391.9L580.2,392.5ZM570,395.1L566.9,394.4L563.9,393.6L566.5,389.6L569.4,390.3L572.4,390.9ZM561.9,393.1L558.8,392.2L555.8,391.3L558.8,387.4L561.7,388.3L564.6,389.1ZM553.9,390.6L550.8,389.6L547.9,388.5L551.2,384.9L554.1,385.9L556.9,386.9ZM546,387.8L543,386.6L540.1,385.3L543.8,382L546.6,383.2L549.4,384.3ZM538.3,384.5L535.4,383.1L532.6,381.6L536.6,378.6L539.3,380L542,381.2ZM530.8,380.6L528,378.9L525.4,377.2L529.7,374.6L532.3,376.2L534.9,377.7ZM523.7,376L521.1,374.1L518.7,372L523.4,369.9L525.7,371.8L528.1,373.6ZM517.2,370.6L514.9,368.3L512.9,365.9L517.8,364.3L519.8,366.5L521.9,368.6ZM511.7,364.2L510,361.4L508.6,358.6L513.7,357.7L515,360.3L516.7,362.8ZM507.9,356.6L507,353.4L506.7,350.2L511.9,350.2L512.2,353L513,355.9ZM506.7,348.2L507,345L507.9,341.8L513,342.5L512.2,345.4L511.9,348.2ZM508.6,339.8L510,337L511.7,334.2L516.7,335.6L515,338.1L513.7,340.7ZM512.9,332.5L514.9,330.1L517.2,327.8L521.9,329.8L519.8,331.9L517.8,334.1ZM518.7,326.4L521.1,324.3L523.7,322.4L528.1,324.8L525.7,326.6L523.4,328.5ZM525.4,321.2L528,319.5L530.8,317.8L534.9,320.7L532.3,322.2L529.7,323.8ZM532.6,316.8L535.4,315.3L538.3,313.9L542,317.2L539.3,318.4L536.6,319.8ZM540.1,313.1L543,311.8L546,310.6L549.4,314.1L546.6,315.2L543.8,316.4ZM547.9,309.9L550.8,308.8L553.9,307.8L556.9,311.5L554.1,312.5L551.2,313.5ZM555.8,307.1L558.8,306.2L561.9,305.3L564.6,309.3L561.7,310.1L558.8,311ZM563.9,304.8L566.9,304L570,303.3L572.4,307.5L569.4,308.1L566.5,308.8ZM572,302.8L575.1,302.2L578.2,301.6L580.2,305.9L577.2,306.5L574.3,307.1ZM580.2,301.2L583.3,300.7L586.5,300.2L588.1,304.6L585.1,305.1L582.2,305.6ZM588.5,299.9L591.6,299.5L594.8,299.1L596.1,303.6L593.1,304L590.1,304.4ZM596.8,298.8L599.9,298.5L603.1,298.2L604,302.9L601,303.1L598,303.4ZM605.1,298.1L608.3,297.9L611.4,297.7L612,302.4L609,302.5L606,302.7ZM613.5,297.6L616.6,297.5L619.8,297.4L620,302.1L617,302.2L614,302.3ZM621.8,297.4L625,297.3L628.2,297.4L628,302.1L625,302.1L622,302.1ZM630.2,297.4L633.4,297.5L636.5,297.6L636,302.3L633,302.2L630,302.1ZM638.6,297.7L641.7,297.9L644.9,298.1L644,302.7L641,302.5L638,302.4ZM646.9,298.2L650.1,298.5L653.2,298.8L652,303.4L649,303.1L646,302.9ZM655.2,299.1L658.4,299.5L661.5,299.9L659.9,304.4L656.9,304L653.9,303.6ZM663.5,300.2L666.7,300.7L669.8,301.2L667.8,305.6L664.9,305.1L661.9,304.6ZM671.8,301.6L674.9,302.2L678,302.8L675.7,307.1L672.8,306.5L669.8,305.9ZM680,303.3L683.1,304L686.1,304.8L683.5,308.8L680.6,308.1L677.6,307.5ZM688.1,305.3L691.2,306.2L694.2,307.1L691.2,311L688.3,310.1L685.4,309.3ZM696.1,307.8L699.2,308.8L702.1,309.9L698.8,313.5L695.9,312.5L693.1,311.5ZM704,310.6L707,311.8L709.9,313.1L706.2,316.4L703.4,315.2L700.6,314.1ZM711.7,313.9L714.6,315.3L717.4,316.8L713.4,319.8L710.7,318.4L708,317.2ZM719.2,317.8L722,319.5L724.6,321.2L720.3,323.8L717.7,322.2L715.1,320.7ZM726.3,322.4L728.9,324.3L731.3,326.4L726.6,328.5L724.3,326.6L721.9,324.8ZM732.8,327.8L735.1,330.1L737.1,332.5L732.2,334.1L730.2,331.9L728.1,329.8ZM738.3,334.2L740,337L741.4,339.8L736.3,340.7L735,338.1L733.3,335.6ZM742.1,341.8L743,345L743.3,348.2L738.1,348.2L737.8,345.4L737,342.5Z" fill="#f0604a" stroke="#f0604a" stroke-width="0.8" stroke-linejoin="round"/>
<path d="M735.7,353.7L734.7,356.8L733.2,359.8L728.6,358.8L730.1,356.1L731,353.3ZM732,361.5L730.1,364.1L727.8,366.5L723.5,365L725.7,362.7L727.5,360.4ZM726.3,367.9L723.8,370L721.1,372L717.1,370L719.7,368.1L722,366.3ZM719.4,373.1L716.7,374.8L713.8,376.5L710.1,374L712.9,372.5L715.5,371ZM712,377.4L709.1,378.8L706.1,380.2L702.8,377.4L705.6,376.2L708.4,374.9ZM704.2,381L701.2,382.2L698.2,383.3L695.1,380.3L698.1,379.3L700.9,378.2ZM696.2,384L693.2,385L690,385.9L687.4,382.7L690.4,381.8L693.3,380.9ZM688.1,386.5L685,387.3L681.8,388.1L679.5,384.7L682.5,384L685.5,383.2ZM679.8,388.6L676.6,389.3L673.4,389.9L671.5,386.4L674.5,385.8L677.5,385.2ZM671.4,390.3L668.3,390.9L665,391.4L663.4,387.8L666.5,387.3L669.5,386.8ZM663,391.7L659.8,392.2L656.6,392.6L655.3,388.8L658.4,388.5L661.5,388ZM654.6,392.8L651.4,393.2L648.1,393.5L647.2,389.6L650.3,389.4L653.4,389.1ZM646.1,393.6L642.9,393.9L639.6,394.1L639,390.2L642.2,390L645.2,389.8ZM637.6,394.2L634.4,394.3L631.1,394.4L630.9,390.5L634,390.4L637.1,390.3ZM629.1,394.4L625.9,394.4L622.6,394.4L622.7,390.5L625.8,390.5L628.9,390.5ZM620.6,394.4L617.3,394.3L614.1,394.2L614.5,390.3L617.6,390.5L620.8,390.5ZM612.1,394.1L608.8,394L605.6,393.8L606.4,389.9L609.5,390.1L612.6,390.3ZM603.6,393.6L600.3,393.3L597.1,393L598.2,389.2L601.3,389.5L604.4,389.8ZM595.1,392.8L591.9,392.4L588.7,392L590.1,388.3L593.2,388.7L596.3,389ZM586.6,391.7L583.4,391.2L580.2,390.6L582.1,387L585.1,387.5L588.2,388ZM578.2,390.3L575,389.6L571.9,389L574,385.5L577.1,386.1L580.1,386.7ZM569.9,388.5L566.7,387.8L563.6,386.9L566.1,383.6L569.1,384.4L572.1,385.1ZM561.6,386.4L558.5,385.5L555.4,384.5L558.3,381.4L561.2,382.3L564.2,383.1ZM553.5,383.9L550.4,382.8L547.4,381.6L550.6,378.8L553.4,379.8L556.4,380.8ZM545.5,380.9L542.4,379.5L539.5,378.2L543.1,375.6L545.9,376.9L548.8,378.1ZM537.7,377.3L534.8,375.7L532,374.1L535.9,371.8L538.5,373.3L541.3,374.8ZM530.3,373L527.5,371L525,369.1L529.2,367.3L531.6,369.1L534.2,370.8ZM523.5,367.7L521.1,365.3L519,362.9L523.4,361.7L525.4,363.9L527.7,366.1ZM517.8,361.3L516,358.3L514.8,355.4L519.4,354.8L520.6,357.5L522.3,360.2ZM514.2,353.4L513.8,350.1L513.9,346.8L518.6,347L518.5,350L518.9,353ZM514.3,344.7L515.3,341.6L516.8,338.6L521.4,339.6L519.9,342.3L519,345.1ZM518,336.9L519.9,334.3L522.2,331.9L526.5,333.4L524.3,335.7L522.5,338ZM523.7,330.5L526.2,328.4L528.9,326.4L532.9,328.4L530.3,330.3L528,332.1ZM530.6,325.3L533.3,323.6L536.2,321.9L539.9,324.4L537.1,325.9L534.5,327.4ZM538,321L540.9,319.6L543.9,318.2L547.2,321L544.4,322.2L541.6,323.5ZM545.8,317.4L548.8,316.2L551.8,315.1L554.9,318.1L551.9,319.1L549.1,320.2ZM553.8,314.4L556.8,313.4L560,312.5L562.6,315.7L559.6,316.6L556.7,317.5ZM561.9,311.9L565,311.1L568.2,310.3L570.5,313.7L567.5,314.4L564.5,315.2ZM570.2,309.8L573.4,309.1L576.6,308.5L578.5,312L575.5,312.6L572.5,313.2ZM578.6,308.1L581.7,307.5L585,307L586.6,310.6L583.5,311.1L580.5,311.6ZM587,306.7L590.2,306.2L593.4,305.8L594.7,309.6L591.6,309.9L588.5,310.4ZM595.4,305.6L598.6,305.2L601.9,304.9L602.8,308.8L599.7,309L596.6,309.3ZM603.9,304.8L607.1,304.5L610.4,304.3L611,308.2L607.8,308.4L604.8,308.6ZM612.4,304.2L615.6,304.1L618.9,304L619.1,307.9L616,308L612.9,308.1ZM620.9,304L624.1,304L627.4,304L627.3,307.9L624.2,307.9L621.1,307.9ZM629.4,304L632.7,304.1L635.9,304.2L635.5,308.1L632.4,307.9L629.2,307.9ZM637.9,304.3L641.2,304.4L644.4,304.6L643.6,308.5L640.5,308.3L637.4,308.1ZM646.4,304.8L649.7,305.1L652.9,305.4L651.8,309.2L648.7,308.9L645.6,308.6ZM654.9,305.6L658.1,306L661.3,306.4L659.9,310.1L656.8,309.7L653.7,309.4ZM663.4,306.7L666.6,307.2L669.8,307.8L667.9,311.4L664.9,310.9L661.8,310.4ZM671.8,308.1L675,308.8L678.1,309.4L676,312.9L672.9,312.3L669.9,311.7ZM680.1,309.9L683.3,310.6L686.4,311.5L683.9,314.8L680.9,314L677.9,313.3ZM688.4,312L691.5,312.9L694.6,313.9L691.7,317L688.8,316.1L685.8,315.3ZM696.5,314.5L699.6,315.6L702.6,316.8L699.4,319.6L696.6,318.6L693.6,317.6ZM704.5,317.5L707.6,318.9L710.5,320.2L706.9,322.8L704.1,321.5L701.2,320.3ZM712.3,321.1L715.2,322.7L718,324.3L714.1,326.6L711.5,325.1L708.7,323.6ZM719.7,325.4L722.5,327.4L725,329.3L720.8,331.1L718.4,329.3L715.8,327.6ZM726.5,330.7L728.9,333.1L731,335.5L726.6,336.7L724.6,334.5L722.3,332.3ZM732.2,337.1L734,340.1L735.2,343L730.6,343.6L729.4,340.9L727.7,338.2ZM735.8,345L736.2,348.3L736.1,351.6L731.4,351.4L731.5,348.4L731.1,345.4Z" fill="#f0604a" stroke="#f0604a" stroke-width="0.8" stroke-linejoin="round"/>
<g transform="scale(1,0.78)" fill="none" stroke="#f0604a" stroke-linecap="round"><path d="M675.3,404.8h0M560,409.8h0M564.8,409h0M572.4,409h0M684.1,409.5h0M692,409.5h0M550.4,416.6h0M556.6,416.6h0M562.3,415.1h0M567,415.2h0M681.8,417.5h0M688.8,415.2h0M695.1,416.6h0M700.7,416.5h0M579.2,422.4h0M584.1,423.4h0M678.3,422.7h0M683.6,422h0M573.8,429.1h0M580.1,429.8h0M593.1,429.3h0M656.2,428.3h0M674.4,427.6h0M577.7,434.2h0M582.9,435h0M590.3,435.2h0M597.8,434h0M608.6,433.8h0M616.8,434.5h0M629.2,435.3h0M641.7,436.2h0M647,435.7h0M658.9,434.1h0M666.6,435.1h0M672.8,434.5h0M594.4,441.2h0M611.4,441.8h0M630.2,441.7h0M636.9,442.6h0M644.8,442.4h0M649,440.7h0M668.7,441.8h0M583.1,446.4h0M609.5,447.3h0M615.9,448.4h0M635.8,446.7h0M648.1,447.9h0M667,447.8h0M594.3,453.2h0M599.5,454.5h0M619.5,454.4h0M630.5,453.3h0M645,453.3h0M661.9,453.9h0M578.3,461.3h0M584.4,459.9h0M589.5,459.3h0M598.1,460.3h0M602.6,460h0M614.7,459.6h0M634.9,458.8h0M653.9,459.8h0M660.8,461.4h0M580.1,467.3h0M586,467.7h0M655.3,466h0M663.7,466.6h0M669.3,466.3h0M676.4,465.6h0M559.2,474h0M584.6,472.1h0M672,473.1h0M555.2,478.7h0M561.9,479.3h0M568.2,477.9h0M575.2,477.8h0M676.6,478h0M682.1,478.6h0M689.2,480h0M693.6,477.8h0M700.2,478.1h0M558.2,485.1h0M673.4,485.1h0M683.8,486h0M690.7,486.3h0M670.5,491.1h0" stroke-width="5.4"/><path d="M679.2,409.5h0M573.4,415h0M675.1,415.9h0M564.9,421.5h0M571.1,423.2h0M665.8,423.1h0M671.2,423.4h0M586.3,429.9h0M663,429.5h0M670.2,427.6h0M603.4,433.8h0M635.1,435.7h0M652.4,433.7h0M581.3,440.9h0M586.1,441.9h0M599.3,440.6h0M607.1,441.6h0M619.1,439.9h0M624,440.4h0M657.8,440.1h0M663.9,440.2h0M589.7,446.3h0M597.2,447.8h0M602.3,448.9h0M621.1,446.7h0M629.2,446.5h0M639.7,447.5h0M654.2,448.6h0M660,447.4h0M579.9,454.5h0M587.4,454.2h0M605.6,452.7h0M612.3,452.7h0M626.4,454.9h0M637.8,454h0M651.4,454.7h0M655.9,454.7h0M668.3,452.6h0M641,460.1h0M647.7,461.3h0M665.2,461.3h0M672,461h0M573.5,467.1h0M593.3,465.3h0M566.3,473.6h0M572.9,472.1h0M577.9,473.3h0M665.5,472.7h0M678.9,471.7h0M684.6,473h0M690.1,472.2h0M548.1,479.9h0M669.3,478.2h0M564.5,485.8h0M572,485.6h0M678.9,486.2h0" stroke-width="4.6"/></g>
<clipPath id="bl0"><path d="M569,313.4C570.3,310.1 574.8,307.6 584,305.9C593.2,304.2 611,303 624.5,303C638,303 655.8,304.2 665,305.9C674.2,307.6 678.5,310.1 680,313.4C681.5,316.7 678.7,321.4 673.8,325.6C668.9,329.8 658.8,335.7 650.6,338.6C642.4,341.5 633.2,343 624.5,343C615.8,343 606.6,341.5 598.5,338.6C590.4,335.7 580.9,329.8 576,325.6C571.1,321.4 567.7,316.7 569,313.4Z"/></clipPath>
<path d="M569,313.4C570.3,310.1 574.8,307.6 584,305.9C593.2,304.2 611,303 624.5,303C638,303 655.8,304.2 665,305.9C674.2,307.6 678.5,310.1 680,313.4C681.5,316.7 678.7,321.4 673.8,325.6C668.9,329.8 658.8,335.7 650.6,338.6C642.4,341.5 633.2,343 624.5,343C615.8,343 606.6,341.5 598.5,338.6C590.4,335.7 580.9,329.8 576,325.6C571.1,321.4 567.7,316.7 569,313.4Z" fill="#4a72c6" stroke="#3f60b4" stroke-width="1.6"/>
<g clip-path="url(#bl0)"><g transform="scale(1,0.78)" fill="none" stroke="#6a9fe2" stroke-linecap="round"><path d="M594,393.8h0M603.1,392.7h0M610.6,394h0M616.8,394.1h0M624.6,393.7h0M632.8,394.3h0M589.7,401.1h0M606.8,402.1h0M620.9,400.2h0M630.4,402h0M653.9,400.3h0M585.5,408.1h0M602.1,409.3h0M656.8,408.5h0M664.4,408.5h0M583.4,417h0M597.2,416.8h0M645.8,415.6h0M651.6,415.5h0M659.4,416.2h0M667.7,416.6h0M586.7,422.8h0M594.2,423.8h0M601.2,424.3h0M616.9,424.7h0M625.2,423.8h0M632.8,423.3h0M650,424.3h0M656.5,424.8h0M606.9,430.2h0M621,430.4h0M636.5,432.4h0M645.2,430.8h0M625.7,438.2h0" stroke-width="7.1"/><path d="M586.5,393.3h0M640.9,392.6h0M649.7,393.3h0M656.6,394.5h0M663.3,394.5h0M574.1,402.1h0M583.6,400.6h0M597.9,401h0M614.6,400h0M636.2,400.8h0M646,400.5h0M660.1,401.4h0M669.4,400.8h0M676.6,401.3h0M578.3,407.8h0M594.1,408.2h0M648.6,408.3h0M671.5,409.8h0M591.6,415.1h0M610.8,423.2h0M641.8,423.2h0M663.8,422.8h0M597.4,432h0M613.7,431.8h0M629.6,430.1h0M653.6,431.7h0" stroke-width="6.1"/></g></g>
<path d="M569,313.4C570.3,310.1 574.8,307.6 584,305.9C593.2,304.2 611,303 624.5,303C638,303 655.8,304.2 665,305.9C674.2,307.6 678.5,310.1 680,313.4C681.5,316.7 678.7,321.4 673.8,325.6C668.9,329.8 658.8,335.7 650.6,338.6C642.4,341.5 633.2,343 624.5,343C615.8,343 606.6,341.5 598.5,338.6C590.4,335.7 580.9,329.8 576,325.6C571.1,321.4 567.7,316.7 569,313.4Z" fill="none" stroke="#3f60b4" stroke-width="1.4"/>
<clipPath id="yl0"><path d="M594.5,320.3C595,318.5 602.4,316.9 607.5,316C612.6,315.1 619.2,314.8 625,314.8C630.8,314.8 637.4,315.1 642.5,316C647.6,316.9 654.9,318.5 655.4,320.3C655.9,322.1 650.6,325.2 645.5,327C640.4,328.8 631.8,331.3 625,331.3C618.2,331.3 609.6,328.8 604.5,327C599.4,325.2 594,322.1 594.5,320.3Z"/></clipPath>
<path d="M594.5,320.3C595,318.5 602.4,316.9 607.5,316C612.6,315.1 619.2,314.8 625,314.8C630.8,314.8 637.4,315.1 642.5,316C647.6,316.9 654.9,318.5 655.4,320.3C655.9,322.1 650.6,325.2 645.5,327C640.4,328.8 631.8,331.3 625,331.3C618.2,331.3 609.6,328.8 604.5,327C599.4,325.2 594,322.1 594.5,320.3Z" fill="#e49a1e"/>
<g clip-path="url(#yl0)"><g transform="scale(1,0.78)" fill="none" stroke="#f6c934" stroke-linecap="round"><path d="M607.5,408.4h0M612.9,407.7h0M630,407.9h0M636.1,408.1h0M641.7,407.4h0M647.3,408.8h0M610.4,413.5h0M615.9,413.2h0M626.6,414h0M633,413.1h0M638.3,413.4h0M643.8,413.8h0M650.3,412.9h0M613.3,418.6h0M618.3,420h0M629.9,418.7h0M641.6,418.4h0" stroke-width="5.2"/><path d="M602.6,408.3h0M618.2,408.6h0M624.5,407.9h0M599.6,413.3h0M605.4,413.9h0M622.1,414h0M607.7,419.4h0M624.3,419.7h0M635.9,419.7h0" stroke-width="4.5"/></g></g>
<clipPath id="bl1"><path d="M624.5,354.5C616.3,354.5 606.2,356.8 600,358.5C593.8,360.2 591.3,361.8 587,364.7C582.7,367.6 576.5,372.9 574,376C571.5,379.1 571,380.8 572,383C573,385.2 571.2,387.4 580,389C588.8,390.6 609.7,392.5 624.5,392.5C639.3,392.5 660.2,390.6 669,389C677.8,387.4 676,385.2 677,383C678,380.8 677.5,379.1 675,376C672.5,372.9 666.5,367.6 662.2,364.7C657.9,361.8 655.3,360.2 649,358.5C642.7,356.8 632.7,354.5 624.5,354.5Z"/></clipPath>
<path d="M624.5,354.5C616.3,354.5 606.2,356.8 600,358.5C593.8,360.2 591.3,361.8 587,364.7C582.7,367.6 576.5,372.9 574,376C571.5,379.1 571,380.8 572,383C573,385.2 571.2,387.4 580,389C588.8,390.6 609.7,392.5 624.5,392.5C639.3,392.5 660.2,390.6 669,389C677.8,387.4 676,385.2 677,383C678,380.8 677.5,379.1 675,376C672.5,372.9 666.5,367.6 662.2,364.7C657.9,361.8 655.3,360.2 649,358.5C642.7,356.8 632.7,354.5 624.5,354.5Z" fill="#4a72c6" stroke="#3f60b4" stroke-width="1.6"/>
<g clip-path="url(#bl1)"><g transform="scale(1,0.78)" fill="none" stroke="#6a9fe2" stroke-linecap="round"><path d="M613.6,460.4h0M621.5,459.6h0M629,459.6h0M644,458.6h0M592.7,466.9h0M610.2,466.4h0M617.6,468.2h0M625.1,466.5h0M631.4,468h0M655.3,467.6h0M589.7,474.7h0M596.4,474h0M604.4,475h0M612.6,475.7h0M635.5,474.7h0M644,475h0M660.2,474.9h0M666.3,473.8h0M577.6,482.3h0M593.9,482.4h0M602.1,481.2h0M647.7,482.2h0M655.3,482.8h0M574.2,489.4h0M613.3,490.8h0M628.9,490.1h0M667.8,488.6h0M674.8,490.8h0M601.1,497.4h0M610.1,496.9h0M625.4,496.9h0M639.2,498.2h0M656.7,496.4h0M663.9,497.4h0M671.1,496.6h0" stroke-width="7.1"/><path d="M635.1,458.5h0M600.2,468.1h0M639.1,468.1h0M646.9,466.5h0M581,475.2h0M652.6,475.4h0M585.7,482.9h0M663.1,482.9h0M671.6,481.4h0M582.4,488.9h0M590.6,489.5h0M596.5,490.2h0M604.8,490.2h0M621,490h0M636.3,490.4h0M644.6,490.9h0M651.3,490.9h0M660.5,489.9h0M584.6,496.3h0M594.3,496.7h0M617.7,496.7h0M633.2,497h0M647.6,496.5h0" stroke-width="6.1"/></g></g>
<path d="M624.5,354.5C616.3,354.5 606.2,356.8 600,358.5C593.8,360.2 591.3,361.8 587,364.7C582.7,367.6 576.5,372.9 574,376C571.5,379.1 571,380.8 572,383C573,385.2 571.2,387.4 580,389C588.8,390.6 609.7,392.5 624.5,392.5C639.3,392.5 660.2,390.6 669,389C677.8,387.4 676,385.2 677,383C678,380.8 677.5,379.1 675,376C672.5,372.9 666.5,367.6 662.2,364.7C657.9,361.8 655.3,360.2 649,358.5C642.7,356.8 632.7,354.5 624.5,354.5Z" fill="none" stroke="#3f60b4" stroke-width="1.4"/>
<clipPath id="yl1"><path d="M594.5,378.3C594.2,376.9 600.4,373.8 605.5,372C610.6,370.2 618.5,367.6 625,367.6C631.5,367.6 639.4,370.2 644.5,372C649.6,373.8 655.7,376.9 655.4,378.3C655.1,379.7 647.6,379.9 642.5,380.3C637.4,380.7 630.8,380.8 625,380.8C619.2,380.8 612.6,380.7 607.5,380.3C602.4,379.9 594.8,379.7 594.5,378.3Z"/></clipPath>
<path d="M594.5,378.3C594.2,376.9 600.4,373.8 605.5,372C610.6,370.2 618.5,367.6 625,367.6C631.5,367.6 639.4,370.2 644.5,372C649.6,373.8 655.7,376.9 655.4,378.3C655.1,379.7 647.6,379.9 642.5,380.3C637.4,380.7 630.8,380.8 625,380.8C619.2,380.8 612.6,380.7 607.5,380.3C602.4,379.9 594.8,379.7 594.5,378.3Z" fill="#e49a1e"/>
<g clip-path="url(#yl1)"><g transform="scale(1,0.78)" fill="none" stroke="#f6c934" stroke-linecap="round"><path d="M624.2,476.2h0M634.9,474.8h0M599.3,481.9h0M604.3,481.5h0M615.9,480.9h0M632.2,481.9h0M638.2,482.1h0M623.5,486.8h0M629.7,486.2h0M635.1,487.4h0M640.8,487.5h0" stroke-width="5.2"/><path d="M613.2,475.2h0M618.4,476.3h0M629.5,476.5h0M609.6,480.8h0M621.1,482h0M626.6,480.6h0M644.3,480.8h0M649.5,480.9h0M607.7,487.2h0M613.7,486.9h0M619.5,487.4h0M646,486.6h0" stroke-width="4.5"/></g></g>
<clipPath id="bl2"><path d="M512.2,347.5C512.2,341.2 515.1,333.2 520.3,328.5C525.5,323.8 534.8,319.2 543.5,319.2C552.2,319.2 565.2,323.8 572.4,328.5C579.6,333.2 586.9,341 586.9,347.5C586.9,354 579.6,362.8 572.4,367.6C565.2,372.4 552.2,376.6 543.5,376.3C534.8,376 525.5,370.8 520.3,366C515.1,361.2 512.2,353.8 512.2,347.5Z"/></clipPath>
<path d="M512.2,347.5C512.2,341.2 515.1,333.2 520.3,328.5C525.5,323.8 534.8,319.2 543.5,319.2C552.2,319.2 565.2,323.8 572.4,328.5C579.6,333.2 586.9,341 586.9,347.5C586.9,354 579.6,362.8 572.4,367.6C565.2,372.4 552.2,376.6 543.5,376.3C534.8,376 525.5,370.8 520.3,366C515.1,361.2 512.2,353.8 512.2,347.5Z" fill="#4a72c6" stroke="#3f60b4" stroke-width="1.6"/>
<g clip-path="url(#bl2)"><g transform="scale(1,0.78)" fill="none" stroke="#6a9fe2" stroke-linecap="round"><path d="M536.8,414.2h0M542.3,422.6h0M557.8,420.9h0M546.2,429.1h0M561.6,428.2h0M517.3,437.5h0M525.1,436.2h0M534.8,436h0M557.7,436.9h0M563.9,437.3h0M579.8,438.1h0M513.2,444.2h0M522.8,445.7h0M530.2,445.1h0M567.7,444.1h0M583.7,443.5h0M518.8,450.8h0M525.4,452.4h0M564.5,452.3h0M581.3,453.1h0M522.5,459.6h0M528.7,459.9h0M536.8,459.9h0M553.7,460.7h0M560.7,460.2h0M575.8,458.4h0M525,467.4h0M533.2,468h0M541.4,467.6h0M548.4,468.3h0M557.1,467.2h0M564.3,466.1h0M573.6,466.2h0M538.2,475.5h0M544.8,475.5h0M561.3,474.6h0" stroke-width="7.1"/><path d="M544.3,414.5h0M554.3,415.3h0M526.7,421.3h0M533.7,422h0M549.3,422.3h0M565.1,421.3h0M522.2,429.2h0M529.6,428.2h0M538.3,428.4h0M553.3,429.9h0M568.2,429.7h0M572.1,435.8h0M576.7,445.6h0M534.2,451.6h0M572.9,452.8h0M545.7,459.3h0M568.4,460.2h0M553.3,473.6h0" stroke-width="6.1"/></g></g>
<path d="M512.2,347.5C512.2,341.2 515.1,333.2 520.3,328.5C525.5,323.8 534.8,319.2 543.5,319.2C552.2,319.2 565.2,323.8 572.4,328.5C579.6,333.2 586.9,341 586.9,347.5C586.9,354 579.6,362.8 572.4,367.6C565.2,372.4 552.2,376.6 543.5,376.3C534.8,376 525.5,370.8 520.3,366C515.1,361.2 512.2,353.8 512.2,347.5Z" fill="none" stroke="#3f60b4" stroke-width="1.4"/>
<clipPath id="yl2"><path d="M530.4,347.5C530.4,344.3 532.4,340.1 535,338C537.6,335.9 542.1,334.5 546.3,334.8C550.5,335.1 556.1,337.8 560,340C563.9,342.2 569.5,345.4 569.5,348.2C569.5,350.9 563.9,354.4 560,356.5C556.1,358.6 550.5,360.8 546.3,360.9C542.1,361 537.6,359.2 535,357C532.4,354.8 530.4,350.7 530.4,347.5Z"/></clipPath>
<path d="M530.4,347.5C530.4,344.3 532.4,340.1 535,338C537.6,335.9 542.1,334.5 546.3,334.8C550.5,335.1 556.1,337.8 560,340C563.9,342.2 569.5,345.4 569.5,348.2C569.5,350.9 563.9,354.4 560,356.5C556.1,358.6 550.5,360.8 546.3,360.9C542.1,361 537.6,359.2 535,357C532.4,354.8 530.4,350.7 530.4,347.5Z" fill="#e49a1e"/>
<g clip-path="url(#yl2)"><g transform="scale(1,0.78)" fill="none" stroke="#f6c934" stroke-linecap="round"><path d="M544.1,433.4h0M548.9,433.3h0M554.2,433.6h0M541.3,438.8h0M546.5,438.8h0M552,438.8h0M562.5,439.2h0M531.7,444.9h0M537.3,444.8h0M543.2,445.3h0M559.5,445.7h0M565.7,444.2h0M545.4,451.2h0M552.3,450.3h0M563,450.6h0M545.9,461.9h0" stroke-width="5.2"/><path d="M537,433.5h0M534.6,439.7h0M557.6,440h0M549.8,444.4h0M555.4,444.2h0M534.7,450h0M540,450.3h0M557.5,451h0M537.3,456.4h0M543,456.4h0M548.9,456.3h0M555,456.7h0" stroke-width="4.5"/></g></g>
<clipPath id="bl3"><path d="M737.8,347.5C737.8,341.2 734.9,333.2 729.7,328.5C724.5,323.8 715.2,319.2 706.5,319.2C697.8,319.2 684.8,323.8 677.6,328.5C670.4,333.2 663.1,341 663.1,347.5C663.1,354 670.4,362.8 677.6,367.6C684.8,372.4 697.8,376.6 706.5,376.3C715.2,376 724.5,370.8 729.7,366C734.9,361.2 737.8,353.8 737.8,347.5Z"/></clipPath>
<path d="M737.8,347.5C737.8,341.2 734.9,333.2 729.7,328.5C724.5,323.8 715.2,319.2 706.5,319.2C697.8,319.2 684.8,323.8 677.6,328.5C670.4,333.2 663.1,341 663.1,347.5C663.1,354 670.4,362.8 677.6,367.6C684.8,372.4 697.8,376.6 706.5,376.3C715.2,376 724.5,370.8 729.7,366C734.9,361.2 737.8,353.8 737.8,347.5Z" fill="#4a72c6" stroke="#3f60b4" stroke-width="1.6"/>
<g clip-path="url(#bl3)"><g transform="scale(1,0.78)" fill="none" stroke="#6a9fe2" stroke-linecap="round"><path d="M699.3,421.8h0M708.3,422.1h0M716.3,421.7h0M673,429.2h0M681.5,428.3h0M687.6,430.5h0M705,430h0M712.6,429h0M719.2,428.9h0M727.9,428.9h0M669,436.8h0M684.3,437.8h0M666,444.6h0M672.2,443.4h0M679.9,443.5h0M718.9,443.9h0M726.3,445.2h0M734.3,444.7h0M669.6,451.9h0M676,453.3h0M723.7,453.1h0M732.4,451.1h0M681.4,460.4h0M687.2,458.5h0M696.7,459.3h0M712.4,460.8h0M720.6,459.5h0M726.4,460.3h0M683.8,466.7h0M692,466.7h0M700,468.1h0M715.6,468.4h0M703.4,474h0M718.8,473.6h0M707,481.7h0" stroke-width="7.1"/><path d="M697.2,415.4h0M704.5,414.9h0M712.1,413.5h0M684.3,421.5h0M692.7,422.1h0M723.9,421.4h0M695.5,428.9h0M675.7,436.1h0M715,437.2h0M723.2,437.5h0M730.4,437.5h0M684.6,450.9h0M715.2,452.1h0M673.5,458.7h0M677.6,466.4h0M708.7,467h0M723.7,467.2h0M687.2,473.7h0M696.7,474.5h0M711.1,475.9h0" stroke-width="6.1"/></g></g>
<path d="M737.8,347.5C737.8,341.2 734.9,333.2 729.7,328.5C724.5,323.8 715.2,319.2 706.5,319.2C697.8,319.2 684.8,323.8 677.6,328.5C670.4,333.2 663.1,341 663.1,347.5C663.1,354 670.4,362.8 677.6,367.6C684.8,372.4 697.8,376.6 706.5,376.3C715.2,376 724.5,370.8 729.7,366C734.9,361.2 737.8,353.8 737.8,347.5Z" fill="none" stroke="#3f60b4" stroke-width="1.4"/>
<clipPath id="yl3"><path d="M719.6,347.5C719.6,344.3 717.6,340.1 715,338C712.4,335.9 707.9,334.5 703.7,334.8C699.5,335.1 693.9,337.8 690,340C686.1,342.2 680.5,345.4 680.5,348.2C680.5,350.9 686.1,354.4 690,356.5C693.9,358.6 699.5,360.8 703.7,360.9C707.9,361 712.4,359.2 715,357C717.6,354.8 719.6,350.7 719.6,347.5Z"/></clipPath>
<path d="M719.6,347.5C719.6,344.3 717.6,340.1 715,338C712.4,335.9 707.9,334.5 703.7,334.8C699.5,335.1 693.9,337.8 690,340C686.1,342.2 680.5,345.4 680.5,348.2C680.5,350.9 686.1,354.4 690,356.5C693.9,358.6 699.5,360.8 703.7,360.9C707.9,361 712.4,359.2 715,357C717.6,354.8 719.6,350.7 719.6,347.5Z" fill="#e49a1e"/>
<g clip-path="url(#yl3)"><g transform="scale(1,0.78)" fill="none" stroke="#f6c934" stroke-linecap="round"><path d="M690,439h0M699.2,445.5h0M716.1,444.4h0M689.9,450.1h0M697.1,450.4h0M702.3,450.1h0M708.1,450.5h0M713.5,449.9h0M692.8,456.6h0" stroke-width="5.2"/><path d="M698.9,433.7h0M705.2,433.3h0M710.8,432.9h0M695.5,439.7h0M702.4,439.5h0M707.2,439.1h0M712.3,439.1h0M682.7,444.7h0M688.3,444.5h0M693.9,445.6h0M704.4,444.3h0M711,445.4h0M685.2,450.8h0M699.2,456h0M704.6,455.9h0M711.1,455.9h0M701.7,461.4h0" stroke-width="4.5"/></g></g>
<ellipse cx="625.0" cy="349.2" rx="119.8" ry="53.2" fill="none" stroke="#b5332a" stroke-width="1"/>
<defs><linearGradient id="hg4" gradientUnits="userSpaceOnUse" x1="464" y1="379" x2="405.5" y2="375"><stop offset="0" stop-color="#a3d466" stop-opacity="0"/><stop offset="0.2" stop-color="#a3d466" stop-opacity="1"/><stop offset="0.75" stop-color="#d3eba8"/><stop offset="1" stop-color="#d3eba8"/></linearGradient></defs>
<path d="M464.2,375.7L463.1,375L461.6,374.4L459.8,373.7L458,373.2L456.1,372.9L454,372.5L451.6,371.9L449.1,371.3L446.5,370.6L443.8,369.7L440.9,368.6L437.6,367.1L434.1,365.5L430.5,364L427.1,363L424,362.5L421.1,362.2L418.3,362.3L415.6,362.9L413,364L410.7,365.9L408.8,368.3L407.2,370.9L406.1,373.2L405.4,374.9L405.6,375.1L407.1,374L409,372.3L411.1,370.4L413.1,368.8L415,368L416.6,367.9L418.4,368L420.4,368.5L422.6,369.1L424.9,370L427.5,371.2L430.4,372.8L433.7,374.7L437,376.6L440.2,378.3L443.3,379.6L446.1,380.7L448.9,381.6L451.4,382.4L453.9,383.1L456.4,383.6L458.8,383.6L460.9,383.3L462.6,382.8L463.8,382.3Z" fill="url(#hg4)"/>
<path d="M452,380.2L449.5,379.5L446.8,378.6L444,377.6L441,376.4L437.8,374.9L434.5,373.1L431.2,371.2L428.1,369.6L425.4,368.5L422.9,367.7L420.5,367.1L418.4,366.8L416.4,366.8L414.5,367.1L412.6,368.2L410.6,369.9" fill="none" stroke="#7fc145" stroke-width="2.5" stroke-linecap="round" opacity="0.75"/>
<path d="M456.1,372.9L454,372.5L451.6,371.9L449.1,371.3L446.5,370.6L443.8,369.7L440.9,368.6L437.6,367.1L434.1,365.5L430.5,364L427.1,363L424,362.5L421.1,362.2L418.3,362.3L415.6,362.9L413,364L410.7,365.9L408.8,368.3L407.2,370.9L406.1,373.2L405.4,374.9L405.6,375.1L407.1,374L409,372.3L411.1,370.4L413.1,368.8L415,368L416.6,367.9L418.4,368L420.4,368.5L422.6,369.1L424.9,370L427.5,371.2L430.4,372.8L433.7,374.7L437,376.6L440.2,378.3L443.3,379.6L446.1,380.7L448.9,381.6L451.4,382.4L453.9,383.1" fill="none" stroke="#3f982f" stroke-width="1.3" stroke-linejoin="round" stroke-linecap="round"/>
<path d="M433,367.7L429.6,366.2L426.4,365.1L423.6,364.5L420.9,364.1L418.3,364L415.9,364.4" fill="none" stroke="#fff" stroke-width="1.7" stroke-linecap="round"/>
<defs><linearGradient id="hg5" gradientUnits="userSpaceOnUse" x1="481" y1="433" x2="419.5" y2="456.5"><stop offset="0" stop-color="#a3d466" stop-opacity="0"/><stop offset="0.2" stop-color="#a3d466" stop-opacity="1"/><stop offset="0.75" stop-color="#d3eba8"/><stop offset="1" stop-color="#d3eba8"/></linearGradient></defs>
<g clip-path="url(#sideclip)"><path d="M478.9,430.5L477.4,431L475.4,431.9L473.3,432.9L471.2,434.2L469.1,435.7L466.8,437.2L464.4,438.9L461.9,440.5L459.4,441.9L456.7,443L453.5,443.9L449.6,444.6L445.4,445.2L441.2,445.7L437.6,446.4L434.6,447L432,447.6L429.6,448.2L427.3,449L425.2,449.9L423.3,451.2L421.8,452.6L420.6,454L419.9,455.3L419.4,456.4L419.6,456.6L420.7,456.4L422.1,455.8L423.6,455.1L425.2,454.5L426.8,454.1L428.5,453.9L430.5,453.9L432.8,453.8L435.4,453.8L438.4,453.6L441.9,453.5L446.1,453.4L450.5,453.2L455,452.7L459.3,452L463.1,450.7L466.6,449.2L469.7,447.5L472.4,445.9L474.9,444.3L477.4,442.7L479.5,440.7L481.1,438.7L482.3,436.9L483.1,435.5Z" fill="#4f9e2c" opacity="0.3" transform="translate(3,4)"/></g>
<path d="M478.9,430.5L477.4,431L475.4,431.9L473.3,432.9L471.2,434.2L469.1,435.7L466.8,437.2L464.4,438.9L461.9,440.5L459.4,441.9L456.7,443L453.5,443.9L449.6,444.6L445.4,445.2L441.2,445.7L437.6,446.4L434.6,447L432,447.6L429.6,448.2L427.3,449L425.2,449.9L423.3,451.2L421.8,452.6L420.6,454L419.9,455.3L419.4,456.4L419.6,456.6L420.7,456.4L422.1,455.8L423.6,455.1L425.2,454.5L426.8,454.1L428.5,453.9L430.5,453.9L432.8,453.8L435.4,453.8L438.4,453.6L441.9,453.5L446.1,453.4L450.5,453.2L455,452.7L459.3,452L463.1,450.7L466.6,449.2L469.7,447.5L472.4,445.9L474.9,444.3L477.4,442.7L479.5,440.7L481.1,438.7L482.3,436.9L483.1,435.5Z" fill="url(#hg5)"/>
<path d="M471.2,444L468.5,445.6L465.6,447.3L462.3,448.8L458.7,450L454.7,450.8L450.3,451.3L445.9,451.6L441.8,451.8L438.2,452L435.2,452.3L432.6,452.5L430.3,452.6L428.3,452.8L426.4,453.2L424.8,453.7L423.2,454.5" fill="none" stroke="#7fc145" stroke-width="2.5" stroke-linecap="round" opacity="0.75"/>
<path d="M469.1,435.7L466.8,437.2L464.4,438.9L461.9,440.5L459.4,441.9L456.7,443L453.5,443.9L449.6,444.6L445.4,445.2L441.2,445.7L437.6,446.4L434.6,447L432,447.6L429.6,448.2L427.3,449L425.2,449.9L423.3,451.2L421.8,452.6L420.6,454L419.9,455.3L419.4,456.4L419.6,456.6L420.7,456.4L422.1,455.8L423.6,455.1L425.2,454.5L426.8,454.1L428.5,453.9L430.5,453.9L432.8,453.8L435.4,453.8L438.4,453.6L441.9,453.5L446.1,453.4L450.5,453.2L455,452.7L459.3,452L463.1,450.7L466.6,449.2L469.7,447.5L472.4,445.9L474.9,444.3" fill="none" stroke="#3f982f" stroke-width="1.3" stroke-linejoin="round" stroke-linecap="round"/>
<path d="M445.6,447.6L441.4,448.1L437.8,448.5L434.8,449L432.2,449.5L429.8,449.9L427.7,450.4" fill="none" stroke="#fff" stroke-width="1.7" stroke-linecap="round"/>
<defs><linearGradient id="hg6" gradientUnits="userSpaceOnUse" x1="506" y1="495.3" x2="465.5" y2="575"><stop offset="0" stop-color="#a3d466" stop-opacity="0"/><stop offset="0.2" stop-color="#a3d466" stop-opacity="1"/><stop offset="0.75" stop-color="#d3eba8"/><stop offset="1" stop-color="#d3eba8"/></linearGradient></defs>
<g clip-path="url(#sideclip)"><path d="M503.1,494.7L502.2,496.5L501.3,499L500.3,501.9L499.2,504.7L498.1,507.5L496.8,510.3L495.2,513.5L493.4,516.7L491.4,519.9L489.5,522.9L487.4,525.7L485,528.5L482.4,531.3L479.8,534.1L477.4,537.1L475.1,540.1L472.9,543.1L470.8,546.1L468.8,549.2L467.2,552.2L466,555.2L465.2,558L464.6,560.8L464.3,563.3L464,565.7L464,568L464.2,570.3L464.5,572.2L464.9,573.8L465.4,575L465.6,575L466,573.8L466.3,572.2L466.6,570.3L467,568.3L467.6,566.3L468.3,564.2L469,561.9L469.9,559.6L471,557.3L472.4,555L474.1,552.6L476.1,550.1L478.4,547.5L480.8,544.8L483.2,542.1L485.7,539.5L488.3,537L491.1,534.3L493.9,531.4L496.5,528.3L499,525L501.2,521.5L503.4,518L505.3,514.6L506.9,511.1L508.1,507.5L508.7,503.8L508.9,500.5L509,497.8L508.9,495.9Z" fill="#4f9e2c" opacity="0.3" transform="translate(5,2)"/></g>
<path d="M503.1,494.7L502.2,496.5L501.3,499L500.3,501.9L499.2,504.7L498.1,507.5L496.8,510.3L495.2,513.5L493.4,516.7L491.4,519.9L489.5,522.9L487.4,525.7L485,528.5L482.4,531.3L479.8,534.1L477.4,537.1L475.1,540.1L472.9,543.1L470.8,546.1L468.8,549.2L467.2,552.2L466,555.2L465.2,558L464.6,560.8L464.3,563.3L464,565.7L464,568L464.2,570.3L464.5,572.2L464.9,573.8L465.4,575L465.6,575L466,573.8L466.3,572.2L466.6,570.3L467,568.3L467.6,566.3L468.3,564.2L469,561.9L469.9,559.6L471,557.3L472.4,555L474.1,552.6L476.1,550.1L478.4,547.5L480.8,544.8L483.2,542.1L485.7,539.5L488.3,537L491.1,534.3L493.9,531.4L496.5,528.3L499,525L501.2,521.5L503.4,518L505.3,514.6L506.9,511.1L508.1,507.5L508.7,503.8L508.9,500.5L509,497.8L508.9,495.9Z" fill="url(#hg6)"/>
<path d="M501.6,517L499.5,520.5L497.3,523.9L495,527.1L492.5,530.1L489.8,533L487,535.7L484.4,538.3L481.9,541L479.5,543.7L477.2,546.5L474.9,549.2L472.9,551.9L471.2,554.4L469.9,556.8L468.9,559.3L468.1,561.7L467.4,564L466.8,566.2L466.3,568.2" fill="none" stroke="#7fc145" stroke-width="2.3" stroke-linecap="round" opacity="0.75"/>
<path d="M496.8,510.3L495.2,513.5L493.4,516.7L491.4,519.9L489.5,522.9L487.4,525.7L485,528.5L482.4,531.3L479.8,534.1L477.4,537.1L475.1,540.1L472.9,543.1L470.8,546.1L468.8,549.2L467.2,552.2L466,555.2L465.2,558L464.6,560.8L464.3,563.3L464,565.7L464,568L464.2,570.3L464.5,572.2L464.9,573.8L465.4,575L465.6,575L466,573.8L466.3,572.2L466.6,570.3L467,568.3L467.6,566.3L468.3,564.2L469,561.9L469.9,559.6L471,557.3L472.4,555L474.1,552.6L476.1,550.1L478.4,547.5L480.8,544.8L483.2,542.1L485.7,539.5L488.3,537L491.1,534.3L493.9,531.4L496.5,528.3L499,525L501.2,521.5L503.4,518L505.3,514.6" fill="none" stroke="#3f982f" stroke-width="1.3" stroke-linejoin="round" stroke-linecap="round"/>
<path d="M476.8,541.5L474.5,544.4L472.4,547.3L470.4,550.2L468.8,553L467.5,555.8L466.6,558.5L465.9,561.1" fill="none" stroke="#fff" stroke-width="1.7" stroke-linecap="round"/>
<defs><linearGradient id="hg7" gradientUnits="userSpaceOnUse" x1="559.6" y1="452" x2="527" y2="500"><stop offset="0" stop-color="#a3d466" stop-opacity="0"/><stop offset="0.2" stop-color="#a3d466" stop-opacity="1"/><stop offset="0.75" stop-color="#d3eba8"/><stop offset="1" stop-color="#d3eba8"/></linearGradient></defs>
<g clip-path="url(#sideclip)"><path d="M556.9,453L557,454.7L557.4,456.8L557.6,458.9L557.7,460.5L557.7,461.5L557.1,462.9L555.9,464.9L554.3,467L552.3,469.2L550.2,471.1L547.8,472.8L544.8,474.4L541.3,476.1L537.8,477.8L534.6,479.8L531.9,481.9L529.4,484.1L527.2,486.3L525.4,488.6L524,491L523.7,493.5L524.2,495.8L525.1,497.7L526.1,499.1L526.9,500L527.1,500L527.2,498.7L527,497L526.8,495.3L527,493.8L527.6,492.6L528.8,491.4L530.6,489.9L532.8,488.3L535.4,486.7L538,485.2L540.8,483.9L544.2,482.5L547.8,481.1L551.6,479.5L555,477.5L557.9,475.2L560.6,472.7L562.9,470L564.9,467.1L566.3,463.9L566.8,460.1L565.9,456.7L564.5,454.1L563.2,452.2L562.3,451Z" fill="#4f9e2c" opacity="0.3" transform="translate(8,6)"/></g>
<path d="M556.9,453L557,454.7L557.4,456.8L557.6,458.9L557.7,460.5L557.7,461.5L557.1,462.9L555.9,464.9L554.3,467L552.3,469.2L550.2,471.1L547.8,472.8L544.8,474.4L541.3,476.1L537.8,477.8L534.6,479.8L531.9,481.9L529.4,484.1L527.2,486.3L525.4,488.6L524,491L523.7,493.5L524.2,495.8L525.1,497.7L526.1,499.1L526.9,500L527.1,500L527.2,498.7L527,497L526.8,495.3L527,493.8L527.6,492.6L528.8,491.4L530.6,489.9L532.8,488.3L535.4,486.7L538,485.2L540.8,483.9L544.2,482.5L547.8,481.1L551.6,479.5L555,477.5L557.9,475.2L560.6,472.7L562.9,470L564.9,467.1L566.3,463.9L566.8,460.1L565.9,456.7L564.5,454.1L563.2,452.2L562.3,451Z" fill="url(#hg7)"/>
<path d="M563.2,466.2L561.4,468.9L559.2,471.5L556.7,473.9L553.9,476.1L550.7,478L547.2,479.7L543.5,481.1L540.1,482.5L537.2,484L534.6,485.7L532.1,487.4L529.8,489.1L528,490.8L526.8,492.3L526.2,493.7L526.2,495.4" fill="none" stroke="#7fc145" stroke-width="2.2" stroke-linecap="round" opacity="0.75"/>
<path d="M557.7,461.5L557.1,462.9L555.9,464.9L554.3,467L552.3,469.2L550.2,471.1L547.8,472.8L544.8,474.4L541.3,476.1L537.8,477.8L534.6,479.8L531.9,481.9L529.4,484.1L527.2,486.3L525.4,488.6L524,491L523.7,493.5L524.2,495.8L525.1,497.7L526.1,499.1L526.9,500L527.1,500L527.2,498.7L527,497L526.8,495.3L527,493.8L527.6,492.6L528.8,491.4L530.6,489.9L532.8,488.3L535.4,486.7L538,485.2L540.8,483.9L544.2,482.5L547.8,481.1L551.6,479.5L555,477.5L557.9,475.2L560.6,472.7L562.9,470L564.9,467.1L566.3,463.9" fill="none" stroke="#3f982f" stroke-width="1.3" stroke-linejoin="round" stroke-linecap="round"/>
<path d="M542.2,478L538.7,479.6L535.6,481.4L533,483.3L530.4,485.3L528.2,487.4L526.4,489.4" fill="none" stroke="#fff" stroke-width="1.7" stroke-linecap="round"/>
<defs><linearGradient id="hg8" gradientUnits="userSpaceOnUse" x1="617.5" y1="485.2" x2="621.9" y2="557.3"><stop offset="0" stop-color="#e6eebb" stop-opacity="0"/><stop offset="0.2" stop-color="#e6eebb" stop-opacity="1"/><stop offset="0.75" stop-color="#cfe38e"/><stop offset="1" stop-color="#cfe38e"/></linearGradient></defs>
<g clip-path="url(#sideclip)"><path d="M620.4,485.9L620.4,488L620.1,490.9L619.8,494.1L619.7,497.3L619.6,500.1L619.6,502.8L619.9,505.7L620.3,508.6L621,511.7L621.7,514.6L622.7,517.6L624,520.7L625.5,524L627,527.3L628.2,530.3L629.1,532.9L629.9,535.3L630.6,537.7L631.1,540.1L631.2,542.6L631,545.2L630.4,547.7L629.5,550L628.6,552.1L627.6,553.8L626.5,555.2L625.1,556.2L623.9,556.9L622.8,557.2L622,557.4L621.8,557.2L622.1,556.4L622.8,555.5L623.4,554.5L624,553.4L624.4,552.2L624.8,550.6L625.1,548.7L625.4,546.7L625.5,544.7L625.4,543L624.9,541.4L624.3,539.7L623.4,537.9L622.4,535.7L621.2,533.3L619.8,530.7L618.2,527.7L616.4,524.4L614.7,520.9L613.3,517.4L612.2,513.9L611.3,510.5L610.7,507L610.2,503.5L610,499.9L610.4,496.2L611.4,492.5L612.6,489.1L613.7,486.4L614.6,484.5Z" fill="#4f9e2c" opacity="0.3" transform="translate(9,6)"/></g>
<path d="M620.4,485.9L620.4,488L620.1,490.9L619.8,494.1L619.7,497.3L619.6,500.1L619.6,502.8L619.9,505.7L620.3,508.6L621,511.7L621.7,514.6L622.7,517.6L624,520.7L625.5,524L627,527.3L628.2,530.3L629.1,532.9L629.9,535.3L630.6,537.7L631.1,540.1L631.2,542.6L631,545.2L630.4,547.7L629.5,550L628.6,552.1L627.6,553.8L626.5,555.2L625.1,556.2L623.9,556.9L622.8,557.2L622,557.4L621.8,557.2L622.1,556.4L622.8,555.5L623.4,554.5L624,553.4L624.4,552.2L624.8,550.6L625.1,548.7L625.4,546.7L625.5,544.7L625.4,543L624.9,541.4L624.3,539.7L623.4,537.9L622.4,535.7L621.2,533.3L619.8,530.7L618.2,527.7L616.4,524.4L614.7,520.9L613.3,517.4L612.2,513.9L611.3,510.5L610.7,507L610.2,503.5L610,499.9L610.4,496.2L611.4,492.5L612.6,489.1L613.7,486.4L614.6,484.5Z" fill="url(#hg8)"/>
<path d="M612.7,506.7L613.3,510.1L614.1,513.4L615.1,516.8L616.5,520.2L618.1,523.6L619.8,526.9L621.4,529.9L622.7,532.6L623.8,535.1L624.9,537.3L625.7,539.3L626.3,541.1L626.7,542.9L626.7,544.8L626.5,546.9L626.1,549L625.6,551L625.1,552.6L624.5,553.8" fill="none" stroke="#7fc145" stroke-width="2.3" stroke-linecap="round" opacity="0.75"/>
<path d="M620.4,488L620.1,490.9L619.8,494.1L619.7,497.3L619.6,500.1L619.6,502.8L619.9,505.7L620.3,508.6L621,511.7L621.7,514.6L622.7,517.6L624,520.7L625.5,524L627,527.3L628.2,530.3L629.1,532.9L629.9,535.3L630.6,537.7L631.1,540.1L631.2,542.6L631,545.2L630.4,547.7L629.5,550L628.6,552.1L627.6,553.8L626.5,555.2L625.1,556.2L623.9,556.9L622.8,557.2L622,557.4L621.8,557.2L622.1,556.4L622.8,555.5L623.4,554.5L624,553.4L624.4,552.2L624.8,550.6L625.1,548.7L625.4,546.7L625.5,544.7L625.4,543L624.9,541.4L624.3,539.7L623.4,537.9L622.4,535.7L621.2,533.3L619.8,530.7L618.2,527.7L616.4,524.4L614.7,520.9L613.3,517.4L612.2,513.9L611.3,510.5L610.7,507L610.2,503.5L610,499.9L610.4,496.2L611.4,492.5L612.6,489.1L613.7,486.4" fill="none" stroke="#3f982f" stroke-width="1.3" stroke-linejoin="round" stroke-linecap="round"/>
<path d="M627.1,533.8L628,536.1L628.7,538.3L629.2,540.5L629.5,542.7L629.3,545.1L628.9,547.4L628.2,549.6" fill="none" stroke="#fff" stroke-width="1.7" stroke-linecap="round"/>
<defs><linearGradient id="hg9" gradientUnits="userSpaceOnUse" x1="705.6" y1="471.4" x2="761.8" y2="497.5"><stop offset="0" stop-color="#a3d466" stop-opacity="0"/><stop offset="0.2" stop-color="#a3d466" stop-opacity="1"/><stop offset="0.75" stop-color="#d3eba8"/><stop offset="1" stop-color="#d3eba8"/></linearGradient></defs>
<g clip-path="url(#sideclip)"><path d="M703.9,473.7L704.7,474.8L705.8,476.2L707.5,477.9L709.5,479.7L711.9,481L714.5,482L717.3,482.8L720.1,483.6L723,484.2L725.9,484.7L729,485.1L732.2,485.3L735.3,485.5L738.1,485.7L740.6,486L743,486.3L745.2,486.8L747.3,487.2L749.2,487.8L750.9,488.4L752.6,489.3L754.2,490.3L755.7,491.4L757.1,492.6L758.3,493.5L759.2,494.4L759.9,495.3L760.5,496.2L761.1,497L761.7,497.5L761.9,497.5L762.1,496.7L762.1,495.7L762,494.4L761.6,493L760.9,491.5L760,489.9L758.8,488.3L757.3,486.7L755.6,485L753.7,483.6L751.6,482.3L749.4,481.3L747.1,480.4L744.6,479.6L742,478.8L739.1,478.2L736,477.8L733,477.4L730.1,477L727.5,476.5L724.9,475.8L722.3,475.1L719.8,474.4L717.6,473.6L715.7,472.8L714,472L712.1,471.2L710.3,470.4L708.6,469.6L707.3,469.1Z" fill="#4f9e2c" opacity="0.3" transform="translate(2,6)"/></g>
<path d="M703.9,473.7L704.7,474.8L705.8,476.2L707.5,477.9L709.5,479.7L711.9,481L714.5,482L717.3,482.8L720.1,483.6L723,484.2L725.9,484.7L729,485.1L732.2,485.3L735.3,485.5L738.1,485.7L740.6,486L743,486.3L745.2,486.8L747.3,487.2L749.2,487.8L750.9,488.4L752.6,489.3L754.2,490.3L755.7,491.4L757.1,492.6L758.3,493.5L759.2,494.4L759.9,495.3L760.5,496.2L761.1,497L761.7,497.5L761.9,497.5L762.1,496.7L762.1,495.7L762,494.4L761.6,493L760.9,491.5L760,489.9L758.8,488.3L757.3,486.7L755.6,485L753.7,483.6L751.6,482.3L749.4,481.3L747.1,480.4L744.6,479.6L742,478.8L739.1,478.2L736,477.8L733,477.4L730.1,477L727.5,476.5L724.9,475.8L722.3,475.1L719.8,474.4L717.6,473.6L715.7,472.8L714,472L712.1,471.2L710.3,470.4L708.6,469.6L707.3,469.1Z" fill="url(#hg9)"/>
<path d="M719.3,476.2L721.8,477L724.5,477.7L727.1,478.3L729.9,478.8L732.8,479.1L735.8,479.5L738.9,479.9L741.7,480.4L744.2,481.1L746.7,481.8L748.9,482.6L751.1,483.5L753.1,484.6L754.9,486L756.6,487.4L758.1,489L759.3,490.5L760.4,491.9L761.1,493.3" fill="none" stroke="#7fc145" stroke-width="2.2" stroke-linecap="round" opacity="0.75"/>
<path d="M714.5,482L717.3,482.8L720.1,483.6L723,484.2L725.9,484.7L729,485.1L732.2,485.3L735.3,485.5L738.1,485.7L740.6,486L743,486.3L745.2,486.8L747.3,487.2L749.2,487.8L750.9,488.4L752.6,489.3L754.2,490.3L755.7,491.4L757.1,492.6L758.3,493.5L759.2,494.4L759.9,495.3L760.5,496.2L761.1,497L761.7,497.5L761.9,497.5L762.1,496.7L762.1,495.7L762,494.4L761.6,493L760.9,491.5L760,489.9L758.8,488.3L757.3,486.7L755.6,485L753.7,483.6L751.6,482.3L749.4,481.3L747.1,480.4L744.6,479.6L742,478.8L739.1,478.2L736,477.8L733,477.4L730.1,477L727.5,476.5L724.9,475.8L722.3,475.1L719.8,474.4L717.6,473.6" fill="none" stroke="#3f982f" stroke-width="1.3" stroke-linejoin="round" stroke-linecap="round"/>
<path d="M743.5,484.3L745.8,484.8L747.9,485.5L749.9,486.2L751.8,487L753.5,488L755.1,489.2L756.6,490.5" fill="none" stroke="#fff" stroke-width="1.7" stroke-linecap="round"/>
<defs><linearGradient id="hg10" gradientUnits="userSpaceOnUse" x1="669" y1="509" x2="720" y2="574.5"><stop offset="0" stop-color="#a3d466" stop-opacity="0"/><stop offset="0.2" stop-color="#a3d466" stop-opacity="1"/><stop offset="0.75" stop-color="#d3eba8"/><stop offset="1" stop-color="#d3eba8"/></linearGradient></defs>
<g clip-path="url(#sideclip)"><path d="M666.4,510.8L667.2,512.9L668.4,515.7L670.2,519.1L672.6,522.5L675.7,525.6L679.1,528.2L682.9,530.6L686.6,532.8L690.2,534.8L693.5,536.8L696.6,538.9L699.7,540.9L702.6,542.8L705.3,544.8L707.6,546.9L709.8,549.1L711.8,551.5L713.7,554.1L715.3,556.7L716.6,559.3L717.7,562.3L718.3,565.8L718.8,569.3L719.3,572.3L719.9,574.5L720.1,574.5L720.6,572.3L721,569.2L721.3,565.6L721.2,561.7L720.8,558.1L719.8,554.7L718.5,551.4L716.9,548.2L715,545.1L712.8,542.1L710.3,539.3L707.5,536.7L704.6,534.3L701.6,531.9L698.5,529.6L695.1,527.1L691.5,524.8L688,522.5L684.9,520.3L682.3,518.2L680.2,515.9L677.8,513.4L675.4,510.9L673.3,508.7L671.6,507.2Z" fill="#4f9e2c" opacity="0.3" transform="translate(-3,-4)"/></g>
<path d="M666.4,510.8L667.2,512.9L668.4,515.7L670.2,519.1L672.6,522.5L675.7,525.6L679.1,528.2L682.9,530.6L686.6,532.8L690.2,534.8L693.5,536.8L696.6,538.9L699.7,540.9L702.6,542.8L705.3,544.8L707.6,546.9L709.8,549.1L711.8,551.5L713.7,554.1L715.3,556.7L716.6,559.3L717.7,562.3L718.3,565.8L718.8,569.3L719.3,572.3L719.9,574.5L720.1,574.5L720.6,572.3L721,569.2L721.3,565.6L721.2,561.7L720.8,558.1L719.8,554.7L718.5,551.4L716.9,548.2L715,545.1L712.8,542.1L710.3,539.3L707.5,536.7L704.6,534.3L701.6,531.9L698.5,529.6L695.1,527.1L691.5,524.8L688,522.5L684.9,520.3L682.3,518.2L680.2,515.9L677.8,513.4L675.4,510.9L673.3,508.7L671.6,507.2Z" fill="url(#hg10)"/>
<path d="M683.6,522L686.9,524.3L690.4,526.5L694,528.8L697.4,531.2L700.5,533.5L703.5,535.7L706.4,538.1L709.2,540.5L711.6,543.2L713.8,546L715.8,549L717.4,552L718.8,555.2L719.8,558.4L720.4,561.9L720.6,565.6" fill="none" stroke="#7fc145" stroke-width="2.4" stroke-linecap="round" opacity="0.75"/>
<path d="M675.7,525.6L679.1,528.2L682.9,530.6L686.6,532.8L690.2,534.8L693.5,536.8L696.6,538.9L699.7,540.9L702.6,542.8L705.3,544.8L707.6,546.9L709.8,549.1L711.8,551.5L713.7,554.1L715.3,556.7L716.6,559.3L717.7,562.3L718.3,565.8L718.8,569.3L719.3,572.3L719.9,574.5L720.1,574.5L720.6,572.3L721,569.2L721.3,565.6L721.2,561.7L720.8,558.1L719.8,554.7L718.5,551.4L716.9,548.2L715,545.1L712.8,542.1L710.3,539.3L707.5,536.7L704.6,534.3L701.6,531.9L698.5,529.6L695.1,527.1L691.5,524.8L688,522.5L684.9,520.3L682.3,518.2" fill="none" stroke="#3f982f" stroke-width="1.3" stroke-linejoin="round" stroke-linecap="round"/>
<path d="M704.1,541L706.8,543.1L709.2,545.4L711.3,547.9L713.4,550.6L715.1,553.3L716.7,556.1" fill="none" stroke="#fff" stroke-width="1.7" stroke-linecap="round"/>
<defs><linearGradient id="hg11" gradientUnits="userSpaceOnUse" x1="773.4" y1="423.7" x2="816" y2="485.5"><stop offset="0" stop-color="#a3d466" stop-opacity="0"/><stop offset="0.2" stop-color="#a3d466" stop-opacity="1"/><stop offset="0.75" stop-color="#d3eba8"/><stop offset="1" stop-color="#d3eba8"/></linearGradient></defs>
<g clip-path="url(#sideclip)"><path d="M770.3,424.9L770.4,426.4L770.6,428.5L771.1,431.2L772.1,434.2L773.8,437L776.1,439.4L778.5,441.6L781.1,443.6L783.7,445.4L786.4,447.1L789.4,448.7L792.3,449.8L795,450.8L797.4,451.8L799.4,452.8L801.3,454.2L803.2,455.7L805,457.4L806.7,459.3L808.3,461.2L809.8,463.3L811.2,465.6L812.5,467.9L813.6,470.3L814.5,472.6L815,475.2L815.3,478.1L815.4,481.1L815.5,483.6L815.9,485.5L816.1,485.5L816.7,483.8L817.4,481.2L818,478.2L818.3,475.1L818.3,472L817.9,469L817.2,466.1L816.2,463.2L815.1,460.4L813.7,457.8L812.3,455.2L810.6,452.7L808.7,450.4L806.6,448.1L804.2,446L801.5,444.1L798.7,442.6L796,441.3L793.6,440.1L791.6,438.9L789.5,437.3L787.3,435.6L785.2,433.8L783.5,432.1L782.2,430.6L781.1,429.1L779.8,427.5L778.6,425.6L777.5,423.8L776.5,422.5Z" fill="#4f9e2c" opacity="0.3" transform="translate(-4,5)"/></g>
<path d="M770.3,424.9L770.4,426.4L770.6,428.5L771.1,431.2L772.1,434.2L773.8,437L776.1,439.4L778.5,441.6L781.1,443.6L783.7,445.4L786.4,447.1L789.4,448.7L792.3,449.8L795,450.8L797.4,451.8L799.4,452.8L801.3,454.2L803.2,455.7L805,457.4L806.7,459.3L808.3,461.2L809.8,463.3L811.2,465.6L812.5,467.9L813.6,470.3L814.5,472.6L815,475.2L815.3,478.1L815.4,481.1L815.5,483.6L815.9,485.5L816.1,485.5L816.7,483.8L817.4,481.2L818,478.2L818.3,475.1L818.3,472L817.9,469L817.2,466.1L816.2,463.2L815.1,460.4L813.7,457.8L812.3,455.2L810.6,452.7L808.7,450.4L806.6,448.1L804.2,446L801.5,444.1L798.7,442.6L796,441.3L793.6,440.1L791.6,438.9L789.5,437.3L787.3,435.6L785.2,433.8L783.5,432.1L782.2,430.6L781.1,429.1L779.8,427.5L778.6,425.6L777.5,423.8L776.5,422.5Z" fill="url(#hg11)"/>
<path d="M783.7,435.5L785.9,437.3L788.2,439.1L790.4,440.7L792.7,442L795.2,443.2L797.9,444.4L800.6,445.8L803.2,447.5L805.4,449.4L807.5,451.5L809.3,453.8L811,456.1L812.5,458.5L813.9,461.1L815.1,463.7L816.2,466.5L817,469.3L817.5,472.1L817.6,475.1" fill="none" stroke="#7fc145" stroke-width="2.5" stroke-linecap="round" opacity="0.75"/>
<path d="M776.1,439.4L778.5,441.6L781.1,443.6L783.7,445.4L786.4,447.1L789.4,448.7L792.3,449.8L795,450.8L797.4,451.8L799.4,452.8L801.3,454.2L803.2,455.7L805,457.4L806.7,459.3L808.3,461.2L809.8,463.3L811.2,465.6L812.5,467.9L813.6,470.3L814.5,472.6L815,475.2L815.3,478.1L815.4,481.1L815.5,483.6L815.9,485.5L816.1,485.5L816.7,483.8L817.4,481.2L818,478.2L818.3,475.1L818.3,472L817.9,469L817.2,466.1L816.2,463.2L815.1,460.4L813.7,457.8L812.3,455.2L810.6,452.7L808.7,450.4L806.6,448.1L804.2,446L801.5,444.1L798.7,442.6L796,441.3L793.6,440.1L791.6,438.9L789.5,437.3L787.3,435.6L785.2,433.8L783.5,432.1" fill="none" stroke="#3f982f" stroke-width="1.3" stroke-linejoin="round" stroke-linecap="round"/>
<path d="M802.9,452.3L804.8,454.1L806.6,456L808.3,458.1L809.9,460.2L811.4,462.5L812.7,464.9L813.9,467.4" fill="none" stroke="#fff" stroke-width="1.7" stroke-linecap="round"/>
<line x1="549" y1="217.5" x2="601.5" y2="350" stroke="#1a1a1a" stroke-width="1.7"/>
<line x1="450" y1="251" x2="524.5" y2="349.5" stroke="#1a1a1a" stroke-width="1.7"/>
<line x1="696.5" y1="234.5" x2="628.5" y2="324" stroke="#1a1a1a" stroke-width="1.7"/>
<line x1="789.5" y1="259" x2="740.5" y2="344" stroke="#1a1a1a" stroke-width="1.7"/>
<line x1="436" y1="515.3" x2="489.5" y2="476.5" stroke="#1a1a1a" stroke-width="1.7"/>
<line x1="561.3" y1="560.6" x2="632" y2="428.5" stroke="#1a1a1a" stroke-width="1.7"/>
<line x1="789.3" y1="529.3" x2="813.6" y2="470" stroke="#1a1a1a" stroke-width="1.7"/>
<text x="492.9" y="206.4" font-size="19" fill="#000" stroke="#fff" stroke-width="0.3" paint-order="fill stroke" textLength="119.6" lengthAdjust="spacingAndGlyphs">primary xylem</text>
<text x="404.5" y="238.4" font-size="19" fill="#000" stroke="#fff" stroke-width="0.3" paint-order="fill stroke" textLength="80" lengthAdjust="spacingAndGlyphs">pericycle</text>
<text x="627.6" y="228.7" font-size="19" fill="#000" stroke="#fff" stroke-width="0.3" paint-order="fill stroke" textLength="136.3" lengthAdjust="spacingAndGlyphs">primary phloem</text>
<text x="739" y="253" font-size="19" fill="#000" stroke="#fff" stroke-width="0.3" paint-order="fill stroke" textLength="103" lengthAdjust="spacingAndGlyphs">endodermis</text>
<text x="385.3" y="536.2" font-size="19" fill="#000" stroke="#fff" stroke-width="0.3" paint-order="fill stroke" textLength="83.4" lengthAdjust="spacingAndGlyphs">epidermis</text>
<text x="525.7" y="580.6" font-size="19" fill="#000" stroke="#fff" stroke-width="0.3" paint-order="fill stroke" textLength="54.3" lengthAdjust="spacingAndGlyphs">cortex</text>
<text x="746.6" y="552.4" font-size="19" fill="#000" stroke="#fff" stroke-width="0.3" paint-order="fill stroke" textLength="72.8" lengthAdjust="spacingAndGlyphs">root hair</text>
</svg>
</body></html>
